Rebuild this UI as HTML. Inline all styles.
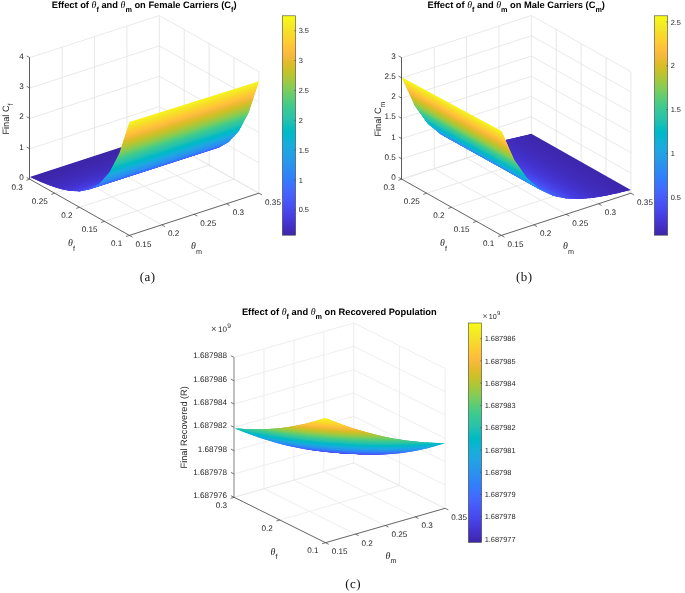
<!DOCTYPE html>
<html><head><meta charset="utf-8"><title>Figure</title>
<style>html,body{margin:0;padding:0;background:#fff}svg{display:block}</style></head><body>
<svg width="685" height="593" viewBox="0 0 685 593" text-rendering="geometricPrecision">
<rect width="685" height="593" fill="#fff"/>
<g fill="none" stroke-linecap="butt">
<line x1="29.8" y1="179.2" x2="129.4" y2="235.4" stroke="#e3e3e3" stroke-width="0.8"/>
<line x1="62.17" y1="168.65" x2="161.77" y2="224.85" stroke="#e3e3e3" stroke-width="0.8"/>
<line x1="94.55" y1="158.1" x2="194.15" y2="214.3" stroke="#e3e3e3" stroke-width="0.8"/>
<line x1="126.92" y1="147.55" x2="226.52" y2="203.75" stroke="#e3e3e3" stroke-width="0.8"/>
<line x1="159.3" y1="137" x2="258.9" y2="193.2" stroke="#e3e3e3" stroke-width="0.8"/>
<line x1="29.8" y1="179.2" x2="159.3" y2="137" stroke="#e3e3e3" stroke-width="0.8"/>
<line x1="54.7" y1="193.25" x2="184.2" y2="151.05" stroke="#e3e3e3" stroke-width="0.8"/>
<line x1="79.6" y1="207.3" x2="209.1" y2="165.1" stroke="#e3e3e3" stroke-width="0.8"/>
<line x1="104.5" y1="221.35" x2="234" y2="179.15" stroke="#e3e3e3" stroke-width="0.8"/>
<line x1="129.4" y1="235.4" x2="258.9" y2="193.2" stroke="#e3e3e3" stroke-width="0.8"/>
<line x1="62.17" y1="168.65" x2="62.17" y2="47.15" stroke="#e3e3e3" stroke-width="0.85"/>
<line x1="94.55" y1="158.1" x2="94.55" y2="36.6" stroke="#e3e3e3" stroke-width="0.85"/>
<line x1="126.92" y1="147.55" x2="126.92" y2="26.05" stroke="#e3e3e3" stroke-width="0.85"/>
<line x1="159.3" y1="137" x2="159.3" y2="15.5" stroke="#e3e3e3" stroke-width="0.85"/>
<line x1="29.8" y1="179.2" x2="159.3" y2="137" stroke="#e3e3e3" stroke-width="0.8"/>
<line x1="29.8" y1="148.82" x2="159.3" y2="106.62" stroke="#e3e3e3" stroke-width="0.8"/>
<line x1="29.8" y1="118.45" x2="159.3" y2="76.25" stroke="#e3e3e3" stroke-width="0.8"/>
<line x1="29.8" y1="88.07" x2="159.3" y2="45.88" stroke="#e3e3e3" stroke-width="0.8"/>
<line x1="29.8" y1="57.7" x2="159.3" y2="15.5" stroke="#e3e3e3" stroke-width="0.8"/>
<line x1="184.2" y1="151.05" x2="184.2" y2="29.55" stroke="#e3e3e3" stroke-width="0.85"/>
<line x1="209.1" y1="165.1" x2="209.1" y2="43.6" stroke="#e3e3e3" stroke-width="0.85"/>
<line x1="234" y1="179.15" x2="234" y2="57.65" stroke="#e3e3e3" stroke-width="0.85"/>
<line x1="258.9" y1="193.2" x2="258.9" y2="71.7" stroke="#e3e3e3" stroke-width="0.85"/>
<line x1="159.3" y1="137" x2="258.9" y2="193.2" stroke="#e3e3e3" stroke-width="0.8"/>
<line x1="159.3" y1="106.62" x2="258.9" y2="162.82" stroke="#e3e3e3" stroke-width="0.8"/>
<line x1="159.3" y1="76.25" x2="258.9" y2="132.45" stroke="#e3e3e3" stroke-width="0.8"/>
<line x1="159.3" y1="45.88" x2="258.9" y2="102.07" stroke="#e3e3e3" stroke-width="0.8"/>
<line x1="159.3" y1="15.5" x2="258.9" y2="71.7" stroke="#e3e3e3" stroke-width="0.8"/>
</g>
<g>
<polygon points="29.8,176.96 30.63,177.34 31.98,177.55 32.81,177.93 33.64,178.31 162.1,136.48 161.27,136.1 160.44,135.72 160.13,135.17 159.3,134.79" fill="#3e26a9"/>
<polygon points="30.63,177.34 31.46,177.72 32.81,177.93 33.64,178.31 34.47,178.69 162.93,136.86 162.1,136.48 161.27,136.1 160.96,135.55 160.13,135.17" fill="#3e27a9"/>
<polygon points="31.46,177.72 32.29,178.1 33.64,178.31 34.47,178.69 35.3,179.07 163.76,137.24 162.93,136.86 162.1,136.48 161.79,135.93 160.96,135.55" fill="#3e27aa"/>
<polygon points="32.29,178.1 33.12,178.48 34.47,178.69 35.3,179.07 36.13,179.45 164.59,137.62 163.76,137.24 162.93,136.86 162.62,136.31 161.79,135.93" fill="#3e27aa"/>
<polygon points="33.12,178.48 33.95,178.86 35.3,179.07 36.13,179.45 36.96,179.82 165.42,138 164.59,137.62 163.76,137.24 163.45,136.69 162.62,136.31" fill="#3e27ab"/>
<polygon points="33.95,178.86 34.78,179.24 36.13,179.45 36.96,179.82 37.79,180.2 166.25,138.38 165.42,138 164.59,137.62 164.28,137.07 163.45,136.69" fill="#3e27ac"/>
<polygon points="34.78,179.24 35.61,179.61 36.96,179.82 37.79,180.2 38.62,180.58 167.08,138.76 166.25,138.38 165.42,138 165.11,137.45 164.28,137.07" fill="#3e28ac"/>
<polygon points="35.61,179.61 36.44,179.99 37.79,180.2 38.62,180.58 39.45,180.96 167.91,139.14 167.08,138.76 166.25,138.38 165.94,137.83 165.11,137.45" fill="#3f28ad"/>
<polygon points="36.44,179.99 37.27,180.37 38.62,180.58 39.45,180.96 40.28,181.34 168.74,139.52 167.91,139.14 167.08,138.76 166.77,138.21 165.94,137.83" fill="#3f28ad"/>
<polygon points="37.27,180.37 38.1,180.75 39.45,180.96 40.28,181.34 41.11,181.68 169.57,139.85 168.74,139.52 167.91,139.14 167.6,138.59 166.77,138.21" fill="#3f28ae"/>
<polygon points="38.1,180.75 38.93,181.13 40.28,181.34 41.11,181.68 41.94,182.01 170.4,140.19 169.57,139.85 168.74,139.52 168.43,138.97 167.6,138.59" fill="#3f28af"/>
<polygon points="38.93,181.13 39.76,181.51 41.11,181.68 41.94,182.01 42.77,182.35 171.23,140.53 170.4,140.19 169.57,139.85 169.26,139.35 168.43,138.97" fill="#3f28af"/>
<polygon points="39.76,181.51 40.59,181.84 41.94,182.01 42.77,182.35 43.6,182.68 172.06,140.87 171.23,140.53 170.4,140.19 170.09,139.69 169.26,139.35" fill="#3f29b0"/>
<polygon points="40.59,181.84 41.42,182.18 42.77,182.35 43.6,182.68 44.43,183.02 172.89,141.2 172.06,140.87 171.23,140.53 170.92,140.02 170.09,139.69" fill="#3f29b1"/>
<polygon points="41.42,182.18 42.25,182.52 43.6,182.68 44.43,183.02 45.26,183.35 173.72,141.54 172.89,141.2 172.06,140.87 171.75,140.36 170.92,140.02" fill="#3f29b2"/>
<polygon points="42.25,182.52 43.08,182.85 44.43,183.02 45.26,183.35 46.09,183.69 174.55,141.88 173.72,141.54 172.89,141.2 172.58,140.7 171.75,140.36" fill="#402ab3"/>
<polygon points="43.08,182.85 43.91,183.19 45.26,183.35 46.09,183.69 46.92,184.02 175.38,142.21 174.55,141.88 173.72,141.54 173.41,141.03 172.58,140.7" fill="#402ab4"/>
<polygon points="43.91,183.19 44.74,183.52 46.09,183.69 46.92,184.02 47.75,184.36 176.21,142.55 175.38,142.21 174.55,141.88 174.24,141.37 173.41,141.03" fill="#402ab4"/>
<polygon points="44.74,183.52 45.57,183.86 46.92,184.02 47.75,184.36 48.58,184.7 177.04,142.89 176.21,142.55 175.38,142.21 175.07,141.71 174.24,141.37" fill="#402ab5"/>
<polygon points="45.57,183.86 46.4,184.19 47.75,184.36 48.58,184.7 49.41,185.03 177.87,143.23 177.04,142.89 176.21,142.55 175.9,142.05 175.07,141.71" fill="#402bb6"/>
<polygon points="46.4,184.19 47.23,184.53 48.58,184.7 49.41,185.03 50.24,185.37 178.7,143.56 177.87,143.23 177.04,142.89 176.73,142.38 175.9,142.05" fill="#402bb7"/>
<polygon points="47.23,184.53 48.06,184.86 49.41,185.03 50.24,185.37 51.07,185.64 179.53,143.84 178.7,143.56 177.87,143.23 177.56,142.72 176.73,142.38" fill="#402bb8"/>
<polygon points="48.06,184.86 48.89,185.2 50.24,185.37 51.07,185.64 51.9,185.91 180.36,144.11 179.53,143.84 178.7,143.56 178.39,143.06 177.56,142.72" fill="#412cb9"/>
<polygon points="48.89,185.2 49.72,185.54 51.07,185.64 51.9,185.91 52.73,186.18 181.19,144.39 180.36,144.11 179.53,143.84 179.22,143.39 178.39,143.06" fill="#412cb9"/>
<polygon points="49.72,185.54 50.55,185.81 51.9,185.91 52.73,186.18 53.56,186.46 182.02,144.66 181.19,144.39 180.36,144.11 180.05,143.67 179.22,143.39" fill="#412cba"/>
<polygon points="50.55,185.81 51.38,186.08 52.73,186.18 53.56,186.46 54.39,186.73 182.85,144.93 182.02,144.66 181.19,144.39 180.88,143.94 180.05,143.67" fill="#412dbc"/>
<polygon points="51.38,186.08 52.21,186.35 53.56,186.46 54.39,186.73 55.22,187 183.68,145.21 182.85,144.93 182.02,144.66 181.71,144.22 180.88,143.94" fill="#412dbd"/>
<polygon points="52.21,186.35 53.04,186.62 54.39,186.73 55.22,187 56.05,187.27 184.51,145.48 183.68,145.21 182.85,144.93 182.54,144.49 181.71,144.22" fill="#412ebe"/>
<polygon points="53.04,186.62 53.87,186.9 55.22,187 56.05,187.27 56.88,187.54 185.34,145.76 184.51,145.48 183.68,145.21 183.37,144.77 182.54,144.49" fill="#422ebf"/>
<polygon points="53.87,186.9 54.7,187.17 56.05,187.27 56.88,187.54 57.71,187.81 186.17,146.03 185.34,145.76 184.51,145.48 184.2,145.04 183.37,144.77" fill="#422fc1"/>
<polygon points="54.7,187.17 55.53,187.44 56.88,187.54 57.71,187.81 58.54,188.09 187,146.31 186.17,146.03 185.34,145.76 185.03,145.31 184.2,145.04" fill="#422fc2"/>
<polygon points="55.53,187.44 56.36,187.71 57.71,187.81 58.54,188.09 59.37,188.36 187.83,146.58 187,146.31 186.17,146.03 185.86,145.59 185.03,145.31" fill="#4230c3"/>
<polygon points="56.36,187.71 57.19,187.98 58.54,188.09 59.37,188.36 60.2,188.63 188.66,146.85 187.83,146.58 187,146.31 186.69,145.86 185.86,145.59" fill="#4230c4"/>
<polygon points="57.19,187.98 58.02,188.26 59.37,188.36 60.2,188.63 61.03,188.81 189.49,147.04 188.66,146.85 187.83,146.58 187.52,146.14 186.69,145.86" fill="#4331c5"/>
<polygon points="58.02,188.26 58.85,188.53 60.2,188.63 61.03,188.81 61.86,188.99 190.32,147.22 189.49,147.04 188.66,146.85 188.35,146.41 187.52,146.14" fill="#4331c7"/>
<polygon points="58.85,188.53 59.68,188.8 61.03,188.81 61.86,188.99 62.69,189.16 191.15,147.4 190.32,147.22 189.49,147.04 189.18,146.69 188.35,146.41" fill="#4331c8"/>
<polygon points="59.68,188.8 60.51,188.98 61.86,188.99 62.69,189.16 63.52,189.34 191.98,147.58 191.15,147.4 190.32,147.22 190.01,146.87 189.18,146.69" fill="#4332c9"/>
<polygon points="60.51,188.98 61.34,189.15 62.69,189.16 63.52,189.34 64.35,189.52 192.81,147.76 191.98,147.58 191.15,147.4 190.84,147.05 190.01,146.87" fill="#4433cb"/>
<polygon points="61.34,189.15 62.17,189.33 63.52,189.34 64.35,189.52 65.18,189.7 193.64,147.94 192.81,147.76 191.98,147.58 191.67,147.23 190.84,147.05" fill="#4433cd"/>
<polygon points="62.17,189.33 63,189.51 64.35,189.52 65.18,189.7 66.01,189.87 194.47,148.12 193.64,147.94 192.81,147.76 192.5,147.41 191.67,147.23" fill="#4434cf"/>
<polygon points="63,189.51 63.83,189.69 65.18,189.7 66.01,189.87 66.84,190.05 195.3,148.3 194.47,148.12 193.64,147.94 193.33,147.59 192.5,147.41" fill="#4435d0"/>
<polygon points="63.83,189.69 64.66,189.86 66.01,189.87 66.84,190.05 67.67,190.23 196.13,148.48 195.3,148.3 194.47,148.12 194.16,147.77 193.33,147.59" fill="#4535d2"/>
<polygon points="64.66,189.86 65.49,190.04 66.84,190.05 67.67,190.23 68.5,190.41 196.96,148.66 196.13,148.48 195.3,148.3 194.99,147.95 194.16,147.77" fill="#4536d4"/>
<polygon points="65.49,190.04 66.32,190.22 67.67,190.23 68.5,190.41 69.33,190.58 197.79,148.85 196.96,148.66 196.13,148.48 195.82,148.13 194.99,147.95" fill="#4537d6"/>
<polygon points="66.32,190.22 67.15,190.4 68.5,190.41 69.33,190.58 70.16,190.76 198.62,149.03 197.79,148.85 196.96,148.66 196.65,148.31 195.82,148.13" fill="#4538d7"/>
<polygon points="67.15,190.4 67.98,190.57 69.33,190.58 70.16,190.76 70.99,190.8 199.45,149.07 198.62,149.03 197.79,148.85 197.48,148.5 196.65,148.31" fill="#4539d8"/>
<polygon points="67.98,190.57 68.81,190.75 70.16,190.76 70.99,190.8 71.82,190.84 200.28,149.11 199.45,149.07 198.62,149.03 198.31,148.68 197.48,148.5" fill="#4639da"/>
<polygon points="68.81,190.75 69.64,190.93 70.99,190.8 71.82,190.84 72.65,190.87 201.11,149.15 200.28,149.11 199.45,149.07 199.14,148.86 198.31,148.68" fill="#463adb"/>
<polygon points="69.64,190.93 70.47,190.97 71.82,190.84 72.65,190.87 73.48,190.91 201.94,149.2 201.11,149.15 200.28,149.11 199.97,148.9 199.14,148.86" fill="#463bdd"/>
<polygon points="70.47,190.97 71.3,191 72.65,190.87 73.48,190.91 74.31,190.95 202.77,149.24 201.94,149.2 201.11,149.15 200.8,148.94 199.97,148.9" fill="#463cdf"/>
<polygon points="71.3,191 72.13,191.04 73.48,190.91 74.31,190.95 75.14,190.99 203.6,149.28 202.77,149.24 201.94,149.2 201.63,148.99 200.8,148.94" fill="#463ee1"/>
<polygon points="72.13,191.04 72.96,191.08 74.31,190.95 75.14,190.99 75.97,191.02 204.43,149.33 203.6,149.28 202.77,149.24 202.46,149.03 201.63,148.99" fill="#473fe2"/>
<polygon points="72.96,191.08 73.79,191.12 75.14,190.99 75.97,191.02 76.8,191.06 205.26,149.37 204.43,149.33 203.6,149.28 203.29,149.07 202.46,149.03" fill="#4740e4"/>
<polygon points="73.79,191.12 74.62,191.15 75.97,191.02 76.8,191.06 77.63,191.1 206.09,149.41 205.26,149.37 204.43,149.33 204.12,149.11 203.29,149.07" fill="#4742e6"/>
<polygon points="74.62,191.15 75.45,191.19 76.8,191.06 77.63,191.1 78.46,191.14 206.92,149.45 206.09,149.41 205.26,149.37 204.95,149.16 204.12,149.11" fill="#4743e7"/>
<polygon points="75.45,191.19 76.28,191.23 77.63,191.1 78.46,191.14 79.29,191.18 207.75,149.5 206.92,149.45 206.09,149.41 205.78,149.2 204.95,149.16" fill="#4745e9"/>
<polygon points="76.28,191.23 77.11,191.27 78.46,191.14 79.29,191.18 80.12,191.21 208.58,149.54 207.75,149.5 206.92,149.45 206.61,149.24 205.78,149.2" fill="#4746ea"/>
<polygon points="77.11,191.27 77.94,191.31 79.29,191.18 80.12,191.21 80.95,191.04 209.41,149.38 208.58,149.54 207.75,149.5 207.44,149.29 206.61,149.24" fill="#4747eb"/>
<polygon points="77.94,191.31 78.77,191.34 80.12,191.21 80.95,191.04 81.78,190.87 210.24,149.22 209.41,149.38 208.58,149.54 208.27,149.33 207.44,149.29" fill="#4849ed"/>
<polygon points="78.77,191.34 79.6,191.38 80.95,191.04 81.78,190.87 82.61,190.7 211.07,149.05 210.24,149.22 209.41,149.38 209.1,149.37 208.27,149.33" fill="#484aee"/>
<polygon points="79.6,191.38 80.43,191.21 81.78,190.87 82.61,190.7 83.44,190.54 211.9,148.89 211.07,149.05 210.24,149.22 209.93,149.21 209.1,149.37" fill="#484cef"/>
<polygon points="80.43,191.21 81.26,191.04 82.61,190.7 83.44,190.54 84.27,190.37 212.73,148.73 211.9,148.89 211.07,149.05 210.76,149.05 209.93,149.21" fill="#484ef1"/>
<polygon points="81.26,191.04 82.09,190.87 83.44,190.54 84.27,190.37 85.1,190.2 213.56,148.57 212.73,148.73 211.9,148.89 211.59,148.89 210.76,149.05" fill="#4850f2"/>
<polygon points="82.09,190.87 82.92,190.7 84.27,190.37 85.1,190.2 85.93,190.03 214.39,148.41 213.56,148.57 212.73,148.73 212.42,148.73 211.59,148.89" fill="#4852f4"/>
<polygon points="82.92,190.7 83.75,190.53 85.1,190.2 85.93,190.03 86.76,189.86 215.22,148.25 214.39,148.41 213.56,148.57 213.25,148.56 212.42,148.73" fill="#4854f5"/>
<polygon points="83.75,190.53 84.58,190.36 85.93,190.03 86.76,189.86 87.59,189.69 216.05,148.08 215.22,148.25 214.39,148.41 214.08,148.4 213.25,148.56" fill="#4756f6"/>
<polygon points="84.58,190.36 85.41,190.2 86.76,189.86 87.59,189.69 88.42,189.52 216.88,147.92 216.05,148.08 215.22,148.25 214.91,148.24 214.08,148.4" fill="#4758f8"/>
<polygon points="85.41,190.2 86.24,190.03 87.59,189.69 88.42,189.52 89.25,189.35 217.71,147.76 216.88,147.92 216.05,148.08 215.74,148.08 214.91,148.24" fill="#475af9"/>
<polygon points="86.24,190.03 87.07,189.86 88.42,189.52 89.25,189.35 90.08,189.18 218.54,147.6 217.71,147.76 216.88,147.92 216.57,147.92 215.74,148.08" fill="#475cfa"/>
<polygon points="87.07,189.86 87.9,189.69 89.25,189.35 90.08,189.18 90.91,188.71 219.37,147.13 218.54,147.6 217.71,147.76 217.4,147.75 216.57,147.92" fill="#465efb"/>
<polygon points="87.9,189.69 88.73,189.52 90.08,189.18 90.91,188.71 91.74,188.23 220.2,146.67 219.37,147.13 218.54,147.6 218.23,147.59 217.4,147.75" fill="#4660fb"/>
<polygon points="88.73,189.52 89.56,189.35 90.91,188.71 91.74,188.23 92.57,187.75 221.03,146.21 220.2,146.67 219.37,147.13 219.06,147.43 218.23,147.59" fill="#4562fc"/>
<polygon points="89.56,189.35 90.39,188.87 91.74,188.23 92.57,187.75 93.4,187.28 221.86,145.74 221.03,146.21 220.2,146.67 219.89,146.97 219.06,147.43" fill="#4465fd"/>
<polygon points="90.39,188.87 91.22,188.4 92.57,187.75 93.4,187.28 94.23,186.8 222.69,145.28 221.86,145.74 221.03,146.21 220.72,146.5 219.89,146.97" fill="#4368fd"/>
<polygon points="91.22,188.4 92.05,187.92 93.4,187.28 94.23,186.8 95.06,186.33 223.52,144.81 222.69,145.28 221.86,145.74 221.55,146.04 220.72,146.5" fill="#416bfe"/>
<polygon points="92.05,187.92 92.88,187.45 94.23,186.8 95.06,186.33 95.89,185.85 224.35,144.35 223.52,144.81 222.69,145.28 222.38,145.57 221.55,146.04" fill="#3f6eff"/>
<polygon points="92.88,187.45 93.71,186.97 95.06,186.33 95.89,185.85 96.72,185.37 225.18,143.88 224.35,144.35 223.52,144.81 223.21,145.11 222.38,145.57" fill="#3c71ff"/>
<polygon points="93.71,186.97 94.54,186.49 95.89,185.85 96.72,185.37 97.55,184.9 226.01,143.42 225.18,143.88 224.35,144.35 224.04,144.64 223.21,145.11" fill="#3975fe"/>
<polygon points="94.54,186.49 95.37,186.02 96.72,185.37 97.55,184.9 98.38,184.42 226.84,142.95 226.01,143.42 225.18,143.88 224.87,144.18 224.04,144.64" fill="#3678fd"/>
<polygon points="95.37,186.02 96.2,185.54 97.55,184.9 98.38,184.42 99.21,183.95 227.67,142.49 226.84,142.95 226.01,143.42 225.7,143.72 224.87,144.18" fill="#337bfc"/>
<polygon points="96.2,185.54 97.03,185.07 98.38,184.42 99.21,183.95 100.04,183.47 228.5,142.02 227.67,142.49 226.84,142.95 226.53,143.25 225.7,143.72" fill="#317efb"/>
<polygon points="97.03,185.07 97.86,184.59 99.21,183.95 100.04,183.47 100.87,182.54 229.33,141.11 228.5,142.02 227.67,142.49 227.36,142.79 226.53,143.25" fill="#2f81fa"/>
<polygon points="97.86,184.59 98.69,184.11 100.04,183.47 100.87,182.54 101.7,181.61 230.16,140.2 229.33,141.11 228.5,142.02 228.19,142.32 227.36,142.79" fill="#2e84f8"/>
<polygon points="98.69,184.11 99.52,183.64 100.87,182.54 101.7,181.61 102.53,180.68 230.99,139.29 230.16,140.2 229.33,141.11 229.02,141.86 228.19,142.32" fill="#2e87f7"/>
<polygon points="99.52,183.64 100.35,182.71 101.7,181.61 102.53,180.68 103.36,179.75 231.82,138.37 230.99,139.29 230.16,140.2 229.85,140.94 229.02,141.86" fill="#2d8bf4"/>
<polygon points="100.35,182.71 101.18,181.78 102.53,180.68 103.36,179.75 104.19,178.82 232.65,137.46 231.82,138.37 230.99,139.29 230.68,140.03 229.85,140.94" fill="#2c8ff1"/>
<polygon points="101.18,181.78 102.01,180.85 103.36,179.75 104.19,178.82 105.02,177.89 233.48,136.55 232.65,137.46 231.82,138.37 231.51,139.12 230.68,140.03" fill="#2a93ee"/>
<polygon points="102.01,180.85 102.84,179.92 104.19,178.82 105.02,177.89 105.85,176.96 234.31,135.63 233.48,136.55 232.65,137.46 232.34,138.21 231.51,139.12" fill="#2797eb"/>
<polygon points="102.84,179.92 103.67,178.99 105.02,177.89 105.85,176.96 106.68,176.03 235.14,134.72 234.31,135.63 233.48,136.55 233.17,137.29 232.34,138.21" fill="#269be8"/>
<polygon points="103.67,178.99 104.5,178.06 105.85,176.96 106.68,176.03 107.51,175.1 235.97,133.81 235.14,134.72 234.31,135.63 234,136.38 233.17,137.29" fill="#249ee6"/>
<polygon points="104.5,178.06 105.33,177.13 106.68,176.03 107.51,175.1 108.34,174.18 236.8,132.89 235.97,133.81 235.14,134.72 234.83,135.47 234,136.38" fill="#22a2e4"/>
<polygon points="105.33,177.13 106.16,176.2 107.51,175.1 108.34,174.18 109.17,173.25 237.63,131.98 236.8,132.89 235.97,133.81 235.66,134.55 234.83,135.47" fill="#1fa6e2"/>
<polygon points="106.16,176.2 106.99,175.27 108.34,174.18 109.17,173.25 110,172.32 238.46,131.07 237.63,131.98 236.8,132.89 236.49,133.64 235.66,134.55" fill="#1ca9e0"/>
<polygon points="106.99,175.27 107.82,174.34 109.17,173.25 110,172.32 110.83,170.71 239.29,129.49 238.46,131.07 237.63,131.98 237.32,132.73 236.49,133.64" fill="#19acdc"/>
<polygon points="107.82,174.34 108.65,173.41 110,172.32 110.83,170.71 111.66,169.11 240.12,127.91 239.29,129.49 238.46,131.07 238.15,131.82 237.32,132.73" fill="#15afd8"/>
<polygon points="108.65,173.41 109.48,172.48 110.83,170.71 111.66,169.11 112.49,167.51 240.95,126.34 240.12,127.91 239.29,129.49 238.98,130.9 238.15,131.82" fill="#0eb2d4"/>
<polygon points="109.48,172.48 110.31,170.88 111.66,169.11 112.49,167.51 113.32,165.91 241.78,124.76 240.95,126.34 240.12,127.91 239.81,129.33 238.98,130.9" fill="#06b6ce"/>
<polygon points="110.31,170.88 111.14,169.28 112.49,167.51 113.32,165.91 114.15,164.31 242.61,123.18 241.78,124.76 240.95,126.34 240.64,127.75 239.81,129.33" fill="#01b9c7"/>
<polygon points="111.14,169.28 111.97,167.68 113.32,165.91 114.15,164.31 114.98,162.71 243.44,121.61 242.61,123.18 241.78,124.76 241.47,126.17 240.64,127.75" fill="#07bcbf"/>
<polygon points="111.97,167.68 112.8,166.08 114.15,164.31 114.98,162.71 115.81,161.1 244.27,120.03 243.44,121.61 242.61,123.18 242.3,124.59 241.47,126.17" fill="#16bfb7"/>
<polygon points="112.8,166.08 113.63,164.47 114.98,162.71 115.81,161.1 116.64,159.5 245.1,118.45 244.27,120.03 243.44,121.61 243.13,123.02 242.3,124.59" fill="#23c1af"/>
<polygon points="113.63,164.47 114.46,162.87 115.81,161.1 116.64,159.5 117.47,157.9 245.93,116.88 245.1,118.45 244.27,120.03 243.96,121.44 243.13,123.02" fill="#2cc4a6"/>
<polygon points="114.46,162.87 115.29,161.27 116.64,159.5 117.47,157.9 118.3,156.3 246.76,115.3 245.93,116.88 245.1,118.45 244.79,119.86 243.96,121.44" fill="#33c69d"/>
<polygon points="115.29,161.27 116.12,159.67 117.47,157.9 118.3,156.3 119.13,154.7 247.59,113.72 246.76,115.3 245.93,116.88 245.62,118.29 244.79,119.86" fill="#3ac993"/>
<polygon points="116.12,159.67 116.95,158.07 118.3,156.3 119.13,154.7 119.96,153.1 248.42,112.15 247.59,113.72 246.76,115.3 246.45,116.71 245.62,118.29" fill="#45cb88"/>
<polygon points="116.95,158.07 117.78,156.47 119.13,154.7 119.96,153.1 120.79,150.5 249.25,109.59 248.42,112.15 247.59,113.72 247.28,115.13 246.45,116.71" fill="#54cc7d"/>
<polygon points="117.78,156.47 118.61,154.86 119.96,153.1 120.79,150.5 121.62,147.9 250.08,107.03 249.25,109.59 248.42,112.15 248.11,113.56 247.28,115.13" fill="#62cd70"/>
<polygon points="118.61,154.86 119.44,153.26 120.79,150.5 121.62,147.9 122.45,145.31 250.91,104.46 250.08,107.03 249.25,109.59 248.94,111.98 248.11,113.56" fill="#73cd63"/>
<polygon points="119.44,153.26 120.27,150.67 121.62,147.9 122.45,145.31 123.28,142.71 251.74,101.9 250.91,104.46 250.08,107.03 249.77,109.42 248.94,111.98" fill="#88cb53"/>
<polygon points="120.27,150.67 121.1,148.07 122.45,145.31 123.28,142.71 124.11,140.11 252.57,99.34 251.74,101.9 250.91,104.46 250.6,106.86 249.77,109.42" fill="#a1c840"/>
<polygon points="121.1,148.07 121.93,145.47 123.28,142.71 124.11,140.11 124.94,137.52 253.4,96.78 252.57,99.34 251.74,101.9 251.43,104.3 250.6,106.86" fill="#b8c431"/>
<polygon points="121.93,145.47 122.76,142.87 124.11,140.11 124.94,137.52 125.77,134.92 254.23,94.22 253.4,96.78 252.57,99.34 252.26,101.74 251.43,104.3" fill="#cdc028"/>
<polygon points="122.76,142.87 123.59,140.28 124.94,137.52 125.77,134.92 126.6,132.32 255.06,91.66 254.23,94.22 253.4,96.78 253.09,99.18 252.26,101.74" fill="#e0bc2a"/>
<polygon points="123.59,140.28 124.42,137.68 125.77,134.92 126.6,132.32 127.43,129.73 255.89,89.1 255.06,91.66 254.23,94.22 253.92,96.62 253.09,99.18" fill="#f0ba36"/>
<polygon points="124.42,137.68 125.25,135.08 126.6,132.32 127.43,129.73 128.26,127.13 256.72,86.54 255.89,89.1 255.06,91.66 254.75,94.06 253.92,96.62" fill="#fdbd3d"/>
<polygon points="125.25,135.08 126.08,132.49 127.43,129.73 128.26,127.13 129.09,124.53 257.55,83.98 256.72,86.54 255.89,89.1 255.58,91.5 254.75,94.06" fill="#fec736"/>
<polygon points="126.08,132.49 126.91,129.89 128.26,127.13 129.09,124.53 129.5,123.24 257.97,82.7 257.55,83.98 256.72,86.54 256.41,88.94 255.58,91.5" fill="#fcd12f"/>
<polygon points="126.91,129.89 127.74,127.29 129.09,124.53 129.5,123.24 257.97,82.7 257.55,83.98 257.24,86.38 256.41,88.94" fill="#f7dc2a"/>
<polygon points="127.74,127.29 128.57,124.7 129.5,123.24 257.97,82.7 258.07,83.82 257.24,86.38" fill="#f5e725"/>
<polygon points="128.57,124.7 129.4,122.1 258.9,81.26 258.07,83.82" fill="#f6f11e"/>
</g>
<g fill="none">
<line x1="29.5" y1="179.2" x2="29.5" y2="57.7" stroke="#4a4a4a" stroke-width="0.9"/>
<line x1="29.8" y1="179.2" x2="129.4" y2="235.4" stroke="#3c3c3c" stroke-width="0.75"/>
<line x1="129.4" y1="235.4" x2="258.9" y2="193.2" stroke="#3c3c3c" stroke-width="0.75"/>
<line x1="29.8" y1="179.2" x2="26.66" y2="177.43" stroke="#3c3c3c" stroke-width="0.7"/>
<line x1="29.8" y1="148.82" x2="26.66" y2="147.06" stroke="#3c3c3c" stroke-width="0.7"/>
<line x1="29.8" y1="118.45" x2="26.66" y2="116.68" stroke="#3c3c3c" stroke-width="0.7"/>
<line x1="29.8" y1="88.07" x2="26.66" y2="86.31" stroke="#3c3c3c" stroke-width="0.7"/>
<line x1="29.8" y1="57.7" x2="26.66" y2="55.93" stroke="#3c3c3c" stroke-width="0.7"/>
<line x1="29.8" y1="179.2" x2="26.38" y2="180.32" stroke="#3c3c3c" stroke-width="0.7"/>
<line x1="54.7" y1="193.25" x2="51.28" y2="194.37" stroke="#3c3c3c" stroke-width="0.7"/>
<line x1="79.6" y1="207.3" x2="76.18" y2="208.42" stroke="#3c3c3c" stroke-width="0.7"/>
<line x1="104.5" y1="221.35" x2="101.08" y2="222.47" stroke="#3c3c3c" stroke-width="0.7"/>
<line x1="129.4" y1="235.4" x2="125.98" y2="236.52" stroke="#3c3c3c" stroke-width="0.7"/>
<line x1="129.4" y1="235.4" x2="132.54" y2="237.17" stroke="#3c3c3c" stroke-width="0.7"/>
<line x1="161.77" y1="224.85" x2="164.91" y2="226.62" stroke="#3c3c3c" stroke-width="0.7"/>
<line x1="194.15" y1="214.3" x2="197.29" y2="216.07" stroke="#3c3c3c" stroke-width="0.7"/>
<line x1="226.52" y1="203.75" x2="229.66" y2="205.52" stroke="#3c3c3c" stroke-width="0.7"/>
<line x1="258.9" y1="193.2" x2="262.04" y2="194.97" stroke="#3c3c3c" stroke-width="0.7"/>
</g>
<g font-family='"Liberation Sans", Arial, sans-serif'>
<text x="23.8" y="180.06" font-size="8.15" text-anchor="end" fill="#262626">0</text>
<text x="23.8" y="149.69" font-size="8.15" text-anchor="end" fill="#262626">1</text>
<text x="23.8" y="119.31" font-size="8.15" text-anchor="end" fill="#262626">2</text>
<text x="23.8" y="88.93" font-size="8.15" text-anchor="end" fill="#262626">3</text>
<text x="23.8" y="58.56" font-size="8.15" text-anchor="end" fill="#262626">4</text>
<text x="22.8" y="189.96" font-size="8.15" text-anchor="end" fill="#262626">0.3</text>
<text x="47.7" y="204.01" font-size="8.15" text-anchor="end" fill="#262626">0.25</text>
<text x="72.6" y="218.06" font-size="8.15" text-anchor="end" fill="#262626">0.2</text>
<text x="97.5" y="232.11" font-size="8.15" text-anchor="end" fill="#262626">0.15</text>
<text x="122.4" y="246.16" font-size="8.15" text-anchor="end" fill="#262626">0.1</text>
<text x="135.6" y="246.96" font-size="8.15" text-anchor="start" fill="#262626">0.15</text>
<text x="167.97" y="236.41" font-size="8.15" text-anchor="start" fill="#262626">0.2</text>
<text x="200.35" y="225.86" font-size="8.15" text-anchor="start" fill="#262626">0.25</text>
<text x="232.72" y="215.31" font-size="8.15" text-anchor="start" fill="#262626">0.3</text>
<text x="265.1" y="204.76" font-size="8.15" text-anchor="start" fill="#262626">0.35</text>
</g>
<defs><linearGradient id="cbA" x1="0" y1="1" x2="0" y2="0">
<stop offset="0%" stop-color="#3e26a8"/>
<stop offset="1.59%" stop-color="#402ab4"/>
<stop offset="3.17%" stop-color="#422ec0"/>
<stop offset="4.76%" stop-color="#4332cb"/>
<stop offset="6.35%" stop-color="#4537d5"/>
<stop offset="7.94%" stop-color="#463cde"/>
<stop offset="9.52%" stop-color="#4741e5"/>
<stop offset="11.11%" stop-color="#4747eb"/>
<stop offset="12.7%" stop-color="#484df0"/>
<stop offset="14.29%" stop-color="#4852f4"/>
<stop offset="15.87%" stop-color="#4758f8"/>
<stop offset="17.46%" stop-color="#465efb"/>
<stop offset="19.05%" stop-color="#4563fd"/>
<stop offset="20.63%" stop-color="#4269fe"/>
<stop offset="22.22%" stop-color="#3e6fff"/>
<stop offset="23.81%" stop-color="#3875fe"/>
<stop offset="25.4%" stop-color="#327cfc"/>
<stop offset="26.98%" stop-color="#2f81fa"/>
<stop offset="28.57%" stop-color="#2e87f7"/>
<stop offset="30.16%" stop-color="#2d8cf3"/>
<stop offset="31.75%" stop-color="#2b91ef"/>
<stop offset="33.33%" stop-color="#2797eb"/>
<stop offset="34.92%" stop-color="#259be8"/>
<stop offset="36.51%" stop-color="#23a0e5"/>
<stop offset="38.1%" stop-color="#20a5e3"/>
<stop offset="39.68%" stop-color="#1ca9df"/>
<stop offset="41.27%" stop-color="#18addb"/>
<stop offset="42.86%" stop-color="#12b1d6"/>
<stop offset="44.44%" stop-color="#08b5d0"/>
<stop offset="46.03%" stop-color="#01b8ca"/>
<stop offset="47.62%" stop-color="#02bac3"/>
<stop offset="49.21%" stop-color="#0bbdbd"/>
<stop offset="50.79%" stop-color="#19bfb6"/>
<stop offset="52.38%" stop-color="#24c1ae"/>
<stop offset="53.97%" stop-color="#2cc4a7"/>
<stop offset="55.56%" stop-color="#31c69f"/>
<stop offset="57.14%" stop-color="#37c897"/>
<stop offset="58.73%" stop-color="#3fca8e"/>
<stop offset="60.32%" stop-color="#4acb84"/>
<stop offset="61.9%" stop-color="#57cc7a"/>
<stop offset="63.49%" stop-color="#64cd6f"/>
<stop offset="65.08%" stop-color="#72cd64"/>
<stop offset="66.67%" stop-color="#81cc59"/>
<stop offset="68.25%" stop-color="#8fcb4e"/>
<stop offset="69.84%" stop-color="#9dc943"/>
<stop offset="71.43%" stop-color="#abc739"/>
<stop offset="73.02%" stop-color="#b9c431"/>
<stop offset="74.6%" stop-color="#c5c22a"/>
<stop offset="76.19%" stop-color="#d1bf27"/>
<stop offset="77.78%" stop-color="#dcbd29"/>
<stop offset="79.37%" stop-color="#e6bb2d"/>
<stop offset="80.95%" stop-color="#f0ba36"/>
<stop offset="82.54%" stop-color="#f8ba3d"/>
<stop offset="84.13%" stop-color="#febe3c"/>
<stop offset="85.71%" stop-color="#fec338"/>
<stop offset="87.3%" stop-color="#fec934"/>
<stop offset="88.89%" stop-color="#fccf30"/>
<stop offset="90.48%" stop-color="#fad62d"/>
<stop offset="92.06%" stop-color="#f7dc2a"/>
<stop offset="93.65%" stop-color="#f5e327"/>
<stop offset="95.24%" stop-color="#f5e924"/>
<stop offset="96.83%" stop-color="#f6ef20"/>
<stop offset="98.41%" stop-color="#f7f51b"/>
<stop offset="100%" stop-color="#f9fb15"/>
</linearGradient></defs>
<rect x="282.3" y="15.8" width="13.4" height="219.4" fill="url(#cbA)" stroke="#4a4a4a" stroke-width="0.6"/>
<g font-family='"Liberation Sans", Arial, sans-serif'>
<line x1="294.2" y1="209.77" x2="295.7" y2="209.77" stroke="#444" stroke-width="0.6"/>
<text x="298.7" y="212.42" font-size="7.4" text-anchor="start" fill="#262626">0.5</text>
<line x1="294.2" y1="179.93" x2="295.7" y2="179.93" stroke="#444" stroke-width="0.6"/>
<text x="298.7" y="182.58" font-size="7.4" text-anchor="start" fill="#262626">1</text>
<line x1="294.2" y1="150.09" x2="295.7" y2="150.09" stroke="#444" stroke-width="0.6"/>
<text x="298.7" y="152.74" font-size="7.4" text-anchor="start" fill="#262626">1.5</text>
<line x1="294.2" y1="120.25" x2="295.7" y2="120.25" stroke="#444" stroke-width="0.6"/>
<text x="298.7" y="122.9" font-size="7.4" text-anchor="start" fill="#262626">2</text>
<line x1="294.2" y1="90.41" x2="295.7" y2="90.41" stroke="#444" stroke-width="0.6"/>
<text x="298.7" y="93.06" font-size="7.4" text-anchor="start" fill="#262626">2.5</text>
<line x1="294.2" y1="60.56" x2="295.7" y2="60.56" stroke="#444" stroke-width="0.6"/>
<text x="298.7" y="63.21" font-size="7.4" text-anchor="start" fill="#262626">3</text>
<line x1="294.2" y1="30.72" x2="295.7" y2="30.72" stroke="#444" stroke-width="0.6"/>
<text x="298.7" y="33.37" font-size="7.4" text-anchor="start" fill="#262626">3.5</text>
</g>
<text x="144.2" y="7.6" font-size="9.3" font-weight="bold" text-anchor="middle" fill="#000" font-family='"Liberation Sans", Arial, sans-serif'>Effect of <tspan font-style="italic" font-weight="normal" font-size="9.9" font-family='"Liberation Serif", "Times New Roman", serif'>θ</tspan><tspan font-size="7.25" dy="4.65">f</tspan><tspan dy="-4.65"> and </tspan><tspan font-style="italic" font-weight="normal" font-size="9.9" font-family='"Liberation Serif", "Times New Roman", serif'>θ</tspan><tspan font-size="7.25" dy="4.65">m</tspan><tspan dy="-4.65"> on </tspan>Female Carriers (C<tspan font-size="7.25" dy="4.65">f</tspan><tspan dy="-4.65">)</tspan></text>
<text x="8.9" y="119" font-size="9.2" text-anchor="middle" fill="#262626" font-family='"Liberation Sans", Arial, sans-serif' transform="rotate(-90 8.9 119)">Final C<tspan font-size="7.18" dy="4.6">f</tspan></text>
<text x="71.5" y="246.3" font-size="9.2" text-anchor="middle" fill="#262626" font-family='"Liberation Sans", Arial, sans-serif'><tspan font-style="italic" font-weight="normal" font-size="9.9" font-family='"Liberation Serif", "Times New Roman", serif'>θ</tspan><tspan font-size="7.18" dy="4.6">f</tspan></text>
<text x="196.5" y="249.2" font-size="9.2" text-anchor="middle" fill="#262626" font-family='"Liberation Sans", Arial, sans-serif'><tspan font-style="italic" font-weight="normal" font-size="9.9" font-family='"Liberation Serif", "Times New Roman", serif'>θ</tspan><tspan font-size="7.18" dy="4.6">m</tspan></text>
<g fill="none" stroke-linecap="butt">
<line x1="401.8" y1="179.2" x2="501.4" y2="235.4" stroke="#e3e3e3" stroke-width="0.8"/>
<line x1="434.18" y1="168.65" x2="533.77" y2="224.85" stroke="#e3e3e3" stroke-width="0.8"/>
<line x1="466.55" y1="158.1" x2="566.15" y2="214.3" stroke="#e3e3e3" stroke-width="0.8"/>
<line x1="498.93" y1="147.55" x2="598.52" y2="203.75" stroke="#e3e3e3" stroke-width="0.8"/>
<line x1="531.3" y1="137" x2="630.9" y2="193.2" stroke="#e3e3e3" stroke-width="0.8"/>
<line x1="401.8" y1="179.2" x2="531.3" y2="137" stroke="#e3e3e3" stroke-width="0.8"/>
<line x1="426.7" y1="193.25" x2="556.2" y2="151.05" stroke="#e3e3e3" stroke-width="0.8"/>
<line x1="451.6" y1="207.3" x2="581.1" y2="165.1" stroke="#e3e3e3" stroke-width="0.8"/>
<line x1="476.5" y1="221.35" x2="606" y2="179.15" stroke="#e3e3e3" stroke-width="0.8"/>
<line x1="501.4" y1="235.4" x2="630.9" y2="193.2" stroke="#e3e3e3" stroke-width="0.8"/>
<line x1="434.18" y1="168.65" x2="434.18" y2="47.15" stroke="#e3e3e3" stroke-width="0.85"/>
<line x1="466.55" y1="158.1" x2="466.55" y2="36.6" stroke="#e3e3e3" stroke-width="0.85"/>
<line x1="498.93" y1="147.55" x2="498.93" y2="26.05" stroke="#e3e3e3" stroke-width="0.85"/>
<line x1="531.3" y1="137" x2="531.3" y2="15.5" stroke="#e3e3e3" stroke-width="0.85"/>
<line x1="401.8" y1="179.2" x2="531.3" y2="137" stroke="#e3e3e3" stroke-width="0.8"/>
<line x1="401.8" y1="158.95" x2="531.3" y2="116.75" stroke="#e3e3e3" stroke-width="0.8"/>
<line x1="401.8" y1="138.7" x2="531.3" y2="96.5" stroke="#e3e3e3" stroke-width="0.8"/>
<line x1="401.8" y1="118.45" x2="531.3" y2="76.25" stroke="#e3e3e3" stroke-width="0.8"/>
<line x1="401.8" y1="98.2" x2="531.3" y2="56" stroke="#e3e3e3" stroke-width="0.8"/>
<line x1="401.8" y1="77.95" x2="531.3" y2="35.75" stroke="#e3e3e3" stroke-width="0.8"/>
<line x1="401.8" y1="57.7" x2="531.3" y2="15.5" stroke="#e3e3e3" stroke-width="0.8"/>
<line x1="556.2" y1="151.05" x2="556.2" y2="29.55" stroke="#e3e3e3" stroke-width="0.85"/>
<line x1="581.1" y1="165.1" x2="581.1" y2="43.6" stroke="#e3e3e3" stroke-width="0.85"/>
<line x1="606" y1="179.15" x2="606" y2="57.65" stroke="#e3e3e3" stroke-width="0.85"/>
<line x1="630.9" y1="193.2" x2="630.9" y2="71.7" stroke="#e3e3e3" stroke-width="0.85"/>
<line x1="531.3" y1="137" x2="630.9" y2="193.2" stroke="#e3e3e3" stroke-width="0.8"/>
<line x1="531.3" y1="116.75" x2="630.9" y2="172.95" stroke="#e3e3e3" stroke-width="0.8"/>
<line x1="531.3" y1="96.5" x2="630.9" y2="152.7" stroke="#e3e3e3" stroke-width="0.8"/>
<line x1="531.3" y1="76.25" x2="630.9" y2="132.45" stroke="#e3e3e3" stroke-width="0.8"/>
<line x1="531.3" y1="56" x2="630.9" y2="112.2" stroke="#e3e3e3" stroke-width="0.8"/>
<line x1="531.3" y1="35.75" x2="630.9" y2="91.95" stroke="#e3e3e3" stroke-width="0.8"/>
<line x1="531.3" y1="15.5" x2="630.9" y2="71.7" stroke="#e3e3e3" stroke-width="0.8"/>
</g>
<g>
<polygon points="527.48,135.19 528.56,134.91 529.64,134.64 530.22,134.09 531.3,133.82 630.9,189.94 629.82,190.21 628.24,190.19 627.16,190.46 626.09,190.73" fill="#3e28ad"/>
<polygon points="526.4,135.46 527.48,135.19 528.56,134.91 529.14,134.36 530.22,134.09 629.82,190.21 628.74,190.48 627.16,190.46 626.09,190.73 625.01,191" fill="#3f28ad"/>
<polygon points="525.32,135.73 526.4,135.46 527.48,135.19 528.06,134.63 529.14,134.36 628.74,190.48 627.66,190.75 626.09,190.73 625.01,191 623.93,191.27" fill="#3f28ae"/>
<polygon points="524.24,136 525.32,135.73 526.4,135.46 526.98,134.9 528.06,134.63 627.66,190.75 626.58,191.01 625.01,191 623.93,191.27 622.85,191.54" fill="#3f28ae"/>
<polygon points="523.16,136.27 524.24,136 525.32,135.73 525.9,135.18 526.98,134.9 626.58,191.01 625.5,191.28 623.93,191.27 622.85,191.54 621.77,191.81" fill="#3f28af"/>
<polygon points="522.09,136.54 523.16,136.27 524.24,136 524.83,135.45 525.9,135.18 625.5,191.28 624.43,191.55 622.85,191.54 621.77,191.81 620.69,192.08" fill="#3f29b0"/>
<polygon points="521.01,136.82 522.09,136.54 523.16,136.27 523.75,135.72 524.83,135.45 624.43,191.55 623.35,191.82 621.77,191.81 620.69,192.08 619.61,192.35" fill="#3f29b0"/>
<polygon points="519.93,137.09 521.01,136.82 522.09,136.54 522.67,135.99 523.75,135.72 623.35,191.82 622.27,192.09 620.69,192.08 619.61,192.35 618.53,192.62" fill="#3f29b1"/>
<polygon points="518.85,137.36 519.93,137.09 521.01,136.82 521.59,136.26 522.67,135.99 622.27,192.09 621.19,192.36 619.61,192.35 618.53,192.62 617.45,192.89" fill="#3f29b1"/>
<polygon points="517.77,137.59 518.85,137.36 519.93,137.09 520.51,136.54 521.59,136.26 621.19,192.36 620.11,192.63 618.53,192.62 617.45,192.89 616.37,193.12" fill="#3f29b2"/>
<polygon points="516.69,137.83 517.77,137.59 518.85,137.36 519.43,136.81 520.51,136.54 620.11,192.63 619.03,192.9 617.45,192.89 616.37,193.12 615.29,193.35" fill="#4029b3"/>
<polygon points="515.61,138.06 516.69,137.83 517.77,137.59 518.35,137.08 519.43,136.81 619.03,192.9 617.95,193.17 616.37,193.12 615.29,193.35 614.21,193.58" fill="#402ab3"/>
<polygon points="514.53,138.29 515.61,138.06 516.69,137.83 517.27,137.31 518.35,137.08 617.95,193.17 616.87,193.4 615.29,193.35 614.21,193.58 613.14,193.81" fill="#402ab4"/>
<polygon points="513.45,138.53 514.53,138.29 515.61,138.06 516.19,137.55 517.27,137.31 616.87,193.4 615.79,193.63 614.21,193.58 613.14,193.81 612.06,194.04" fill="#402ab5"/>
<polygon points="512.37,138.76 513.45,138.53 514.53,138.29 515.11,137.78 516.19,137.55 615.79,193.63 614.71,193.86 613.14,193.81 612.06,194.04 610.98,194.27" fill="#402bb6"/>
<polygon points="511.29,138.99 512.37,138.76 513.45,138.53 514.03,138.01 515.11,137.78 614.71,193.86 613.63,194.09 612.06,194.04 610.98,194.27 609.9,194.5" fill="#402bb6"/>
<polygon points="510.21,139.23 511.29,138.99 512.37,138.76 512.95,138.25 514.03,138.01 613.63,194.09 612.55,194.32 610.98,194.27 609.9,194.5 608.82,194.74" fill="#402bb7"/>
<polygon points="509.14,139.46 510.21,139.23 511.29,138.99 511.88,138.48 512.95,138.25 612.55,194.32 611.48,194.55 609.9,194.5 608.82,194.74 607.74,194.97" fill="#402bb8"/>
<polygon points="508.06,139.69 509.14,139.46 510.21,139.23 510.8,138.71 511.88,138.48 611.48,194.55 610.4,194.79 608.82,194.74 607.74,194.97 606.66,195.2" fill="#412cb9"/>
<polygon points="506.98,139.93 508.06,139.69 509.14,139.46 509.72,138.95 510.8,138.71 610.4,194.79 609.32,195.02 607.74,194.97 606.66,195.2 605.58,195.43" fill="#412cba"/>
<polygon points="505.9,140.16 506.98,139.93 508.06,139.69 508.64,139.18 509.72,138.95 609.32,195.02 608.24,195.25 606.66,195.2 605.58,195.43 604.5,195.66" fill="#412cbb"/>
<polygon points="504.82,140.34 505.9,140.16 506.98,139.93 507.56,139.41 508.64,139.18 608.24,195.25 607.16,195.48 605.58,195.43 604.5,195.66 603.42,195.83" fill="#412dbb"/>
<polygon points="503.74,140.51 504.82,140.34 505.9,140.16 506.48,139.65 507.56,139.41 607.16,195.48 606.08,195.71 604.5,195.66 603.42,195.83 602.34,196" fill="#412dbc"/>
<polygon points="502.66,140.69 503.74,140.51 504.82,140.34 505.4,139.88 506.48,139.65 606.08,195.71 605,195.94 603.42,195.83 602.34,196 601.26,196.17" fill="#412dbd"/>
<polygon points="501.58,140.87 502.66,140.69 503.74,140.51 504.32,140.06 505.4,139.88 605,195.94 603.92,196.11 602.34,196 601.26,196.17 600.19,196.35" fill="#412ebe"/>
<polygon points="500.5,141.04 501.58,140.87 502.66,140.69 503.24,140.23 504.32,140.06 603.92,196.11 602.84,196.28 601.26,196.17 600.19,196.35 599.11,196.52" fill="#422ebf"/>
<polygon points="499.42,141.22 500.5,141.04 501.58,140.87 502.16,140.41 503.24,140.23 602.84,196.28 601.76,196.45 600.19,196.35 599.11,196.52 598.03,196.69" fill="#422fc1"/>
<polygon points="498.34,141.4 499.42,141.22 500.5,141.04 501.08,140.59 502.16,140.41 601.76,196.45 600.68,196.63 599.11,196.52 598.03,196.69 596.95,196.86" fill="#422fc2"/>
<polygon points="497.26,141.57 498.34,141.4 499.42,141.22 500,140.76 501.08,140.59 600.68,196.63 599.6,196.8 598.03,196.69 596.95,196.86 595.87,197.03" fill="#4230c3"/>
<polygon points="496.19,141.75 497.26,141.57 498.34,141.4 498.93,140.94 500,140.76 599.6,196.8 598.52,196.97 596.95,196.86 595.87,197.03 594.79,197.21" fill="#4230c4"/>
<polygon points="495.11,141.93 496.19,141.75 497.26,141.57 497.85,141.12 498.93,140.94 598.52,196.97 597.45,197.14 595.87,197.03 594.79,197.21 593.71,197.38" fill="#4331c5"/>
<polygon points="494.03,142.1 495.11,141.93 496.19,141.75 496.77,141.29 497.85,141.12 597.45,197.14 596.37,197.31 594.79,197.21 593.71,197.38 592.63,197.55" fill="#4331c7"/>
<polygon points="492.95,142.28 494.03,142.1 495.11,141.93 495.69,141.47 496.77,141.29 596.37,197.31 595.29,197.49 593.71,197.38 592.63,197.55 591.55,197.72" fill="#4331c8"/>
<polygon points="491.87,142.37 492.95,142.28 494.03,142.1 494.61,141.65 495.69,141.47 595.29,197.49 594.21,197.66 592.63,197.55 591.55,197.72 590.47,197.81" fill="#4332c9"/>
<polygon points="490.79,142.46 491.87,142.37 492.95,142.28 493.53,141.82 494.61,141.65 594.21,197.66 593.13,197.83 591.55,197.72 590.47,197.81 589.39,197.9" fill="#4332ca"/>
<polygon points="489.71,142.56 490.79,142.46 491.87,142.37 492.45,142 493.53,141.82 593.13,197.83 592.05,198 590.47,197.81 589.39,197.9 588.31,197.98" fill="#4433cc"/>
<polygon points="488.63,142.65 489.71,142.56 490.79,142.46 491.37,142.09 492.45,142 592.05,198 590.97,198.09 589.39,197.9 588.31,197.98 587.24,198.07" fill="#4433cd"/>
<polygon points="487.55,142.74 488.63,142.65 489.71,142.56 490.29,142.18 491.37,142.09 590.97,198.09 589.89,198.18 588.31,197.98 587.24,198.07 586.16,198.15" fill="#4434cf"/>
<polygon points="486.47,142.84 487.55,142.74 488.63,142.65 489.21,142.28 490.29,142.18 589.89,198.18 588.81,198.26 587.24,198.07 586.16,198.15 585.08,198.24" fill="#4435d0"/>
<polygon points="485.39,142.93 486.47,142.84 487.55,142.74 488.13,142.37 489.21,142.28 588.81,198.26 587.73,198.35 586.16,198.15 585.08,198.24 584,198.33" fill="#4535d2"/>
<polygon points="484.31,143.02 485.39,142.93 486.47,142.84 487.05,142.46 488.13,142.37 587.73,198.35 586.65,198.43 585.08,198.24 584,198.33 582.92,198.41" fill="#4536d4"/>
<polygon points="483.24,143.11 484.31,143.02 485.39,142.93 485.98,142.56 487.05,142.46 586.65,198.43 585.58,198.52 584,198.33 582.92,198.41 581.84,198.5" fill="#4537d6"/>
<polygon points="482.16,143.21 483.24,143.11 484.31,143.02 484.9,142.65 485.98,142.56 585.58,198.52 584.5,198.61 582.92,198.41 581.84,198.5 580.76,198.58" fill="#4538d7"/>
<polygon points="481.08,143.3 482.16,143.21 483.24,143.11 483.82,142.74 484.9,142.65 584.5,198.61 583.42,198.69 581.84,198.5 580.76,198.58 579.68,198.67" fill="#4539d8"/>
<polygon points="480,143.39 481.08,143.3 482.16,143.21 482.74,142.83 483.82,142.74 583.42,198.69 582.34,198.78 580.76,198.58 579.68,198.67 578.6,198.76" fill="#4639da"/>
<polygon points="478.92,143.36 480,143.39 481.08,143.3 481.66,142.93 482.74,142.83 582.34,198.78 581.26,198.86 579.68,198.67 578.6,198.76 577.52,198.71" fill="#463adb"/>
<polygon points="477.84,143.33 478.92,143.36 480,143.39 480.58,143.02 481.66,142.93 581.26,198.86 580.18,198.95 578.6,198.76 577.52,198.71 576.44,198.67" fill="#463bdd"/>
<polygon points="476.76,143.3 477.84,143.33 478.92,143.36 479.5,143.11 480.58,143.02 580.18,198.95 579.1,199.04 577.52,198.71 576.44,198.67 575.36,198.63" fill="#463cde"/>
<polygon points="475.68,143.26 476.76,143.3 477.84,143.33 478.42,143.08 479.5,143.11 579.1,199.04 578.02,198.99 576.44,198.67 575.36,198.63 574.29,198.59" fill="#463de0"/>
<polygon points="474.6,143.23 475.68,143.26 476.76,143.3 477.34,143.05 478.42,143.08 578.02,198.99 576.94,198.95 575.36,198.63 574.29,198.59 573.21,198.55" fill="#473ee1"/>
<polygon points="473.52,143.2 474.6,143.23 475.68,143.26 476.26,143.02 477.34,143.05 576.94,198.95 575.86,198.91 574.29,198.59 573.21,198.55 572.13,198.51" fill="#4740e3"/>
<polygon points="472.44,143.17 473.52,143.2 474.6,143.23 475.18,142.98 476.26,143.02 575.86,198.91 574.78,198.87 573.21,198.55 572.13,198.51 571.05,198.47" fill="#4741e5"/>
<polygon points="471.36,143.14 472.44,143.17 473.52,143.2 474.1,142.95 475.18,142.98 574.78,198.87 573.7,198.83 572.13,198.51 571.05,198.47 569.97,198.42" fill="#4742e6"/>
<polygon points="470.29,143.11 471.36,143.14 472.44,143.17 473.03,142.92 474.1,142.95 573.7,198.83 572.62,198.79 571.05,198.47 569.97,198.42 568.89,198.38" fill="#4744e8"/>
<polygon points="469.21,143.07 470.29,143.11 471.36,143.14 471.95,142.89 473.03,142.92 572.62,198.79 571.55,198.75 569.97,198.42 568.89,198.38 567.81,198.34" fill="#4745e9"/>
<polygon points="468.13,143.04 469.21,143.07 470.29,143.11 470.87,142.86 471.95,142.89 571.55,198.75 570.47,198.7 568.89,198.38 567.81,198.34 566.73,198.3" fill="#4746eb"/>
<polygon points="467.05,143.01 468.13,143.04 469.21,143.07 469.79,142.83 470.87,142.86 570.47,198.7 569.39,198.66 567.81,198.34 566.73,198.3 565.65,198.26" fill="#4848ec"/>
<polygon points="465.97,142.8 467.05,143.01 468.13,143.04 468.71,142.8 469.79,142.83 569.39,198.66 568.31,198.62 566.73,198.3 565.65,198.26 564.57,198.03" fill="#4849ed"/>
<polygon points="464.89,142.58 465.97,142.8 467.05,143.01 467.63,142.76 468.71,142.8 568.31,198.62 567.23,198.58 565.65,198.26 564.57,198.03 563.49,197.8" fill="#484bee"/>
<polygon points="463.81,142.36 464.89,142.58 465.97,142.8 466.55,142.73 467.63,142.76 567.23,198.58 566.15,198.54 564.57,198.03 563.49,197.8 562.41,197.57" fill="#484cef"/>
<polygon points="462.73,142.15 463.81,142.36 464.89,142.58 465.47,142.52 466.55,142.73 566.15,198.54 565.07,198.31 563.49,197.8 562.41,197.57 561.34,197.34" fill="#484ef1"/>
<polygon points="461.65,141.93 462.73,142.15 463.81,142.36 464.39,142.3 465.47,142.52 565.07,198.31 563.99,198.08 562.41,197.57 561.34,197.34 560.26,197.11" fill="#4850f2"/>
<polygon points="460.57,141.72 461.65,141.93 462.73,142.15 463.31,142.09 464.39,142.3 563.99,198.08 562.91,197.85 561.34,197.34 560.26,197.11 559.18,196.88" fill="#4852f4"/>
<polygon points="459.49,141.5 460.57,141.72 461.65,141.93 462.23,141.87 463.31,142.09 562.91,197.85 561.83,197.62 560.26,197.11 559.18,196.88 558.1,196.65" fill="#4854f5"/>
<polygon points="458.41,141.29 459.49,141.5 460.57,141.72 461.15,141.65 462.23,141.87 561.83,197.62 560.75,197.39 559.18,196.88 558.1,196.65 557.02,196.42" fill="#4756f6"/>
<polygon points="457.34,141.07 458.41,141.29 459.49,141.5 460.07,141.44 461.15,141.65 560.75,197.39 559.67,197.16 558.1,196.65 557.02,196.42 555.94,196.19" fill="#4758f8"/>
<polygon points="456.26,140.85 457.34,141.07 458.41,141.29 459,141.22 460.07,141.44 559.67,197.16 558.6,196.93 557.02,196.42 555.94,196.19 554.86,195.96" fill="#475af9"/>
<polygon points="455.18,140.64 456.26,140.85 457.34,141.07 457.92,141.01 459,141.22 558.6,196.93 557.52,196.7 555.94,196.19 554.86,195.96 553.78,195.73" fill="#475cfa"/>
<polygon points="454.1,140.42 455.18,140.64 456.26,140.85 456.84,140.79 457.92,141.01 557.52,196.7 556.44,196.47 554.86,195.96 553.78,195.73 552.7,195.5" fill="#465efb"/>
<polygon points="453.02,139.93 454.1,140.42 455.18,140.64 455.76,140.58 456.84,140.79 556.44,196.47 555.36,196.24 553.78,195.73 552.7,195.5 551.62,194.99" fill="#4660fb"/>
<polygon points="451.94,139.45 453.02,139.93 454.1,140.42 454.68,140.36 455.76,140.58 555.36,196.24 554.28,196.01 552.7,195.5 551.62,194.99 550.54,194.48" fill="#4562fc"/>
<polygon points="450.86,138.96 451.94,139.45 453.02,139.93 453.6,140.14 454.68,140.36 554.28,196.01 553.2,195.78 551.62,194.99 550.54,194.48 549.46,193.97" fill="#4564fd"/>
<polygon points="449.78,138.47 450.86,138.96 451.94,139.45 452.52,139.66 453.6,140.14 553.2,195.78 552.12,195.27 550.54,194.48 549.46,193.97 548.39,193.46" fill="#4366fd"/>
<polygon points="448.7,137.98 449.78,138.47 450.86,138.96 451.44,139.17 452.52,139.66 552.12,195.27 551.04,194.76 549.46,193.97 548.39,193.46 547.31,192.95" fill="#426afe"/>
<polygon points="447.62,137.5 448.7,137.98 449.78,138.47 450.36,138.68 451.44,139.17 551.04,194.76 549.96,194.25 548.39,193.46 547.31,192.95 546.23,192.44" fill="#406dfe"/>
<polygon points="446.54,137.01 447.62,137.5 448.7,137.98 449.28,138.19 450.36,138.68 549.96,194.25 548.88,193.74 547.31,192.95 546.23,192.44 545.15,191.93" fill="#3d70ff"/>
<polygon points="445.46,136.52 446.54,137.01 447.62,137.5 448.2,137.71 449.28,138.19 548.88,193.74 547.8,193.23 546.23,192.44 545.15,191.93 544.07,191.42" fill="#3a73fe"/>
<polygon points="444.39,136.03 445.46,136.52 446.54,137.01 447.12,137.22 448.2,137.71 547.8,193.23 546.73,192.72 545.15,191.93 544.07,191.42 542.99,190.91" fill="#3776fe"/>
<polygon points="443.31,135.54 444.39,136.03 445.46,136.52 446.05,136.73 447.12,137.22 546.73,192.72 545.65,192.21 544.07,191.42 542.99,190.91 541.91,190.41" fill="#347afd"/>
<polygon points="442.23,135.06 443.31,135.54 444.39,136.03 444.97,136.24 446.05,136.73 545.65,192.21 544.57,191.7 542.99,190.91 541.91,190.41 540.83,189.9" fill="#317dfc"/>
<polygon points="441.15,134.57 442.23,135.06 443.31,135.54 443.89,135.75 444.97,136.24 544.57,191.7 543.49,191.19 541.91,190.41 540.83,189.9 539.75,189.39" fill="#3080fa"/>
<polygon points="440.07,133.68 441.15,134.57 442.23,135.06 442.81,135.27 443.89,135.75 543.49,191.19 542.41,190.68 540.83,189.9 539.75,189.39 538.67,188.46" fill="#2e83f9"/>
<polygon points="438.99,132.79 440.07,133.68 441.15,134.57 441.73,134.78 442.81,135.27 542.41,190.68 541.33,190.17 539.75,189.39 538.67,188.46 537.59,187.54" fill="#2e86f7"/>
<polygon points="437.91,131.89 438.99,132.79 440.07,133.68 440.65,134.29 441.73,134.78 541.33,190.17 540.25,189.66 538.67,188.46 537.59,187.54 536.51,186.62" fill="#2d89f5"/>
<polygon points="436.83,131 437.91,131.89 438.99,132.79 439.57,133.4 440.65,134.29 540.25,189.66 539.17,188.74 537.59,187.54 536.51,186.62 535.44,185.7" fill="#2d8cf3"/>
<polygon points="435.75,130.11 436.83,131 437.91,131.89 438.49,132.51 439.57,133.4 539.17,188.74 538.09,187.82 536.51,186.62 535.44,185.7 534.36,184.77" fill="#2b90f0"/>
<polygon points="434.67,129.22 435.75,130.11 436.83,131 437.41,131.62 438.49,132.51 538.09,187.82 537.01,186.9 535.44,185.7 534.36,184.77 533.28,183.85" fill="#2994ed"/>
<polygon points="433.59,128.33 434.67,129.22 435.75,130.11 436.33,130.73 437.41,131.62 537.01,186.9 535.93,185.97 534.36,184.77 533.28,183.85 532.2,182.93" fill="#2798ea"/>
<polygon points="432.51,127.44 433.59,128.33 434.67,129.22 435.25,129.84 436.33,130.73 535.93,185.97 534.85,185.05 533.28,183.85 532.2,182.93 531.12,182.01" fill="#259ce7"/>
<polygon points="431.44,126.55 432.51,127.44 433.59,128.33 434.18,128.95 435.25,129.84 534.85,185.05 533.77,184.13 532.2,182.93 531.12,182.01 530.04,181.08" fill="#23a0e5"/>
<polygon points="430.36,125.66 431.44,126.55 432.51,127.44 433.1,128.06 434.18,128.95 533.77,184.13 532.7,183.21 531.12,182.01 530.04,181.08 528.96,180.16" fill="#21a3e3"/>
<polygon points="429.28,124.77 430.36,125.66 431.44,126.55 432.02,127.16 433.1,128.06 532.7,183.21 531.62,182.28 530.04,181.08 528.96,180.16 527.88,179.24" fill="#1ea7e1"/>
<polygon points="428.2,123.88 429.28,124.77 430.36,125.66 430.94,126.27 432.02,127.16 531.62,182.28 530.54,181.36 528.96,180.16 527.88,179.24 526.8,178.32" fill="#1baade"/>
<polygon points="427.12,122.39 428.2,123.88 429.28,124.77 429.86,125.38 430.94,126.27 530.54,181.36 529.46,180.44 527.88,179.24 526.8,178.32 525.72,176.78" fill="#18aedb"/>
<polygon points="426.04,120.9 427.12,122.39 428.2,123.88 428.78,124.49 429.86,125.38 529.46,180.44 528.38,179.51 526.8,178.32 525.72,176.78 524.64,175.25" fill="#13b1d7"/>
<polygon points="424.96,119.41 426.04,120.9 427.12,122.39 427.7,123.6 428.78,124.49 528.38,179.51 527.3,178.59 525.72,176.78 524.64,175.25 523.56,173.72" fill="#0cb3d2"/>
<polygon points="423.88,117.93 424.96,119.41 426.04,120.9 426.62,122.11 427.7,123.6 527.3,178.59 526.22,177.06 524.64,175.25 523.56,173.72 522.49,172.18" fill="#04b6cd"/>
<polygon points="422.8,116.44 423.88,117.93 424.96,119.41 425.54,120.63 426.62,122.11 526.22,177.06 525.14,175.52 523.56,173.72 522.49,172.18 521.41,170.65" fill="#01bac5"/>
<polygon points="421.72,114.95 422.8,116.44 423.88,117.93 424.46,119.14 425.54,120.63 525.14,175.52 524.06,173.99 522.49,172.18 521.41,170.65 520.33,169.11" fill="#0abdbd"/>
<polygon points="420.64,113.47 421.72,114.95 422.8,116.44 423.38,117.65 424.46,119.14 524.06,173.99 522.98,172.46 521.41,170.65 520.33,169.11 519.25,167.58" fill="#19bfb5"/>
<polygon points="419.56,111.98 420.64,113.47 421.72,114.95 422.3,116.17 423.38,117.65 522.98,172.46 521.9,170.92 520.33,169.11 519.25,167.58 518.17,166.05" fill="#26c2ad"/>
<polygon points="418.49,110.49 419.56,111.98 420.64,113.47 421.23,114.68 422.3,116.17 521.9,170.92 520.83,169.39 519.25,167.58 518.17,166.05 517.09,164.51" fill="#2ec4a4"/>
<polygon points="417.41,109 418.49,110.49 419.56,111.98 420.15,113.19 421.23,114.68 520.83,169.39 519.75,167.85 518.17,166.05 517.09,164.51 516.01,162.98" fill="#34c79b"/>
<polygon points="416.33,107.52 417.41,109 418.49,110.49 419.07,111.7 420.15,113.19 519.75,167.85 518.67,166.32 517.09,164.51 516.01,162.98 514.93,161.44" fill="#3cc991"/>
<polygon points="415.25,106.03 416.33,107.52 417.41,109 417.99,110.22 419.07,111.7 518.67,166.32 517.59,164.78 516.01,162.98 514.93,161.44 513.85,159.91" fill="#48cb86"/>
<polygon points="414.17,103.66 415.25,106.03 416.33,107.52 416.91,108.73 417.99,110.22 517.59,164.78 516.51,163.25 514.93,161.44 513.85,159.91 512.77,157.47" fill="#57cc7a"/>
<polygon points="413.09,101.29 414.17,103.66 415.25,106.03 415.83,107.24 416.91,108.73 516.51,163.25 515.43,161.72 513.85,159.91 512.77,157.47 511.69,155.03" fill="#66cd6d"/>
<polygon points="412.01,98.92 413.09,101.29 414.17,103.66 414.75,105.76 415.83,107.24 515.43,161.72 514.35,160.18 512.77,157.47 511.69,155.03 510.61,152.59" fill="#76cc60"/>
<polygon points="410.93,96.55 412.01,98.92 413.09,101.29 413.67,103.39 414.75,105.76 514.35,160.18 513.27,157.74 511.69,155.03 510.61,152.59 509.54,150.15" fill="#8bcb51"/>
<polygon points="409.85,94.18 410.93,96.55 412.01,98.92 412.59,101.02 413.67,103.39 513.27,157.74 512.19,155.3 510.61,152.59 509.54,150.15 508.46,147.71" fill="#a4c83e"/>
<polygon points="408.77,91.81 409.85,94.18 410.93,96.55 411.51,98.65 412.59,101.02 512.19,155.3 511.11,152.86 509.54,150.15 508.46,147.71 507.38,145.28" fill="#bbc430"/>
<polygon points="407.69,89.44 408.77,91.81 409.85,94.18 410.43,96.28 411.51,98.65 511.11,152.86 510.03,150.42 508.46,147.71 507.38,145.28 506.3,142.84" fill="#d0c027"/>
<polygon points="406.61,87.07 407.69,89.44 408.77,91.81 409.35,93.91 410.43,96.28 510.03,150.42 508.95,147.99 507.38,145.28 506.3,142.84 505.22,140.4" fill="#e2bc2b"/>
<polygon points="405.54,84.7 406.61,87.07 407.69,89.44 408.28,91.54 409.35,93.91 508.95,147.99 507.88,145.55 506.3,142.84 505.22,140.4 504.14,137.96" fill="#f2ba38"/>
<polygon points="404.46,82.33 405.54,84.7 406.61,87.07 407.2,89.17 408.28,91.54 507.88,145.55 506.8,143.11 505.22,140.4 504.14,137.96 503.06,135.52" fill="#febe3c"/>
<polygon points="403.38,79.96 404.46,82.33 405.54,84.7 406.12,86.8 407.2,89.17 506.8,143.11 505.72,140.67 504.14,137.96 503.06,135.52 501.98,133.08" fill="#fec835"/>
<polygon points="402.84,78.78 403.38,79.96 404.46,82.33 405.04,84.43 406.12,86.8 505.72,140.67 504.64,138.23 503.06,135.52 501.98,133.08 501.44,131.86" fill="#fbd22f"/>
<polygon points="402.84,78.78 403.38,79.96 403.96,82.06 405.04,84.43 504.64,138.23 503.56,135.79 501.98,133.08 501.44,131.86" fill="#f6dd29"/>
<polygon points="402.84,78.78 402.88,79.69 403.96,82.06 503.56,135.79 502.48,133.35 501.44,131.86" fill="#f5e825"/>
<polygon points="401.8,77.32 402.88,79.69 502.48,133.35 501.4,130.91" fill="#f6f21d"/>
</g>
<g fill="none">
<line x1="401.5" y1="179.2" x2="401.5" y2="57.7" stroke="#4a4a4a" stroke-width="0.9"/>
<line x1="401.8" y1="179.2" x2="501.4" y2="235.4" stroke="#3c3c3c" stroke-width="0.75"/>
<line x1="501.4" y1="235.4" x2="630.9" y2="193.2" stroke="#3c3c3c" stroke-width="0.75"/>
<line x1="401.8" y1="179.2" x2="398.66" y2="177.43" stroke="#3c3c3c" stroke-width="0.7"/>
<line x1="401.8" y1="158.95" x2="398.66" y2="157.18" stroke="#3c3c3c" stroke-width="0.7"/>
<line x1="401.8" y1="138.7" x2="398.66" y2="136.93" stroke="#3c3c3c" stroke-width="0.7"/>
<line x1="401.8" y1="118.45" x2="398.66" y2="116.68" stroke="#3c3c3c" stroke-width="0.7"/>
<line x1="401.8" y1="98.2" x2="398.66" y2="96.43" stroke="#3c3c3c" stroke-width="0.7"/>
<line x1="401.8" y1="77.95" x2="398.66" y2="76.18" stroke="#3c3c3c" stroke-width="0.7"/>
<line x1="401.8" y1="57.7" x2="398.66" y2="55.93" stroke="#3c3c3c" stroke-width="0.7"/>
<line x1="401.8" y1="179.2" x2="398.38" y2="180.32" stroke="#3c3c3c" stroke-width="0.7"/>
<line x1="426.7" y1="193.25" x2="423.28" y2="194.37" stroke="#3c3c3c" stroke-width="0.7"/>
<line x1="451.6" y1="207.3" x2="448.18" y2="208.42" stroke="#3c3c3c" stroke-width="0.7"/>
<line x1="476.5" y1="221.35" x2="473.08" y2="222.47" stroke="#3c3c3c" stroke-width="0.7"/>
<line x1="501.4" y1="235.4" x2="497.98" y2="236.52" stroke="#3c3c3c" stroke-width="0.7"/>
<line x1="501.4" y1="235.4" x2="504.54" y2="237.17" stroke="#3c3c3c" stroke-width="0.7"/>
<line x1="533.77" y1="224.85" x2="536.91" y2="226.62" stroke="#3c3c3c" stroke-width="0.7"/>
<line x1="566.15" y1="214.3" x2="569.29" y2="216.07" stroke="#3c3c3c" stroke-width="0.7"/>
<line x1="598.52" y1="203.75" x2="601.66" y2="205.52" stroke="#3c3c3c" stroke-width="0.7"/>
<line x1="630.9" y1="193.2" x2="634.04" y2="194.97" stroke="#3c3c3c" stroke-width="0.7"/>
</g>
<g font-family='"Liberation Sans", Arial, sans-serif'>
<text x="395.8" y="180.06" font-size="8.15" text-anchor="end" fill="#262626">0</text>
<text x="395.8" y="159.81" font-size="8.15" text-anchor="end" fill="#262626">0.5</text>
<text x="395.8" y="139.56" font-size="8.15" text-anchor="end" fill="#262626">1</text>
<text x="395.8" y="119.31" font-size="8.15" text-anchor="end" fill="#262626">1.5</text>
<text x="395.8" y="99.06" font-size="8.15" text-anchor="end" fill="#262626">2</text>
<text x="395.8" y="78.81" font-size="8.15" text-anchor="end" fill="#262626">2.5</text>
<text x="395.8" y="58.56" font-size="8.15" text-anchor="end" fill="#262626">3</text>
<text x="394.8" y="189.96" font-size="8.15" text-anchor="end" fill="#262626">0.3</text>
<text x="419.7" y="204.01" font-size="8.15" text-anchor="end" fill="#262626">0.25</text>
<text x="444.6" y="218.06" font-size="8.15" text-anchor="end" fill="#262626">0.2</text>
<text x="469.5" y="232.11" font-size="8.15" text-anchor="end" fill="#262626">0.15</text>
<text x="494.4" y="246.16" font-size="8.15" text-anchor="end" fill="#262626">0.1</text>
<text x="507.6" y="246.96" font-size="8.15" text-anchor="start" fill="#262626">0.15</text>
<text x="539.98" y="236.41" font-size="8.15" text-anchor="start" fill="#262626">0.2</text>
<text x="572.35" y="225.86" font-size="8.15" text-anchor="start" fill="#262626">0.25</text>
<text x="604.73" y="215.31" font-size="8.15" text-anchor="start" fill="#262626">0.3</text>
<text x="637.1" y="204.76" font-size="8.15" text-anchor="start" fill="#262626">0.35</text>
</g>
<defs><linearGradient id="cbB" x1="0" y1="1" x2="0" y2="0">
<stop offset="0%" stop-color="#3e26a8"/>
<stop offset="1.59%" stop-color="#402ab4"/>
<stop offset="3.17%" stop-color="#422ec0"/>
<stop offset="4.76%" stop-color="#4332cb"/>
<stop offset="6.35%" stop-color="#4537d5"/>
<stop offset="7.94%" stop-color="#463cde"/>
<stop offset="9.52%" stop-color="#4741e5"/>
<stop offset="11.11%" stop-color="#4747eb"/>
<stop offset="12.7%" stop-color="#484df0"/>
<stop offset="14.29%" stop-color="#4852f4"/>
<stop offset="15.87%" stop-color="#4758f8"/>
<stop offset="17.46%" stop-color="#465efb"/>
<stop offset="19.05%" stop-color="#4563fd"/>
<stop offset="20.63%" stop-color="#4269fe"/>
<stop offset="22.22%" stop-color="#3e6fff"/>
<stop offset="23.81%" stop-color="#3875fe"/>
<stop offset="25.4%" stop-color="#327cfc"/>
<stop offset="26.98%" stop-color="#2f81fa"/>
<stop offset="28.57%" stop-color="#2e87f7"/>
<stop offset="30.16%" stop-color="#2d8cf3"/>
<stop offset="31.75%" stop-color="#2b91ef"/>
<stop offset="33.33%" stop-color="#2797eb"/>
<stop offset="34.92%" stop-color="#259be8"/>
<stop offset="36.51%" stop-color="#23a0e5"/>
<stop offset="38.1%" stop-color="#20a5e3"/>
<stop offset="39.68%" stop-color="#1ca9df"/>
<stop offset="41.27%" stop-color="#18addb"/>
<stop offset="42.86%" stop-color="#12b1d6"/>
<stop offset="44.44%" stop-color="#08b5d0"/>
<stop offset="46.03%" stop-color="#01b8ca"/>
<stop offset="47.62%" stop-color="#02bac3"/>
<stop offset="49.21%" stop-color="#0bbdbd"/>
<stop offset="50.79%" stop-color="#19bfb6"/>
<stop offset="52.38%" stop-color="#24c1ae"/>
<stop offset="53.97%" stop-color="#2cc4a7"/>
<stop offset="55.56%" stop-color="#31c69f"/>
<stop offset="57.14%" stop-color="#37c897"/>
<stop offset="58.73%" stop-color="#3fca8e"/>
<stop offset="60.32%" stop-color="#4acb84"/>
<stop offset="61.9%" stop-color="#57cc7a"/>
<stop offset="63.49%" stop-color="#64cd6f"/>
<stop offset="65.08%" stop-color="#72cd64"/>
<stop offset="66.67%" stop-color="#81cc59"/>
<stop offset="68.25%" stop-color="#8fcb4e"/>
<stop offset="69.84%" stop-color="#9dc943"/>
<stop offset="71.43%" stop-color="#abc739"/>
<stop offset="73.02%" stop-color="#b9c431"/>
<stop offset="74.6%" stop-color="#c5c22a"/>
<stop offset="76.19%" stop-color="#d1bf27"/>
<stop offset="77.78%" stop-color="#dcbd29"/>
<stop offset="79.37%" stop-color="#e6bb2d"/>
<stop offset="80.95%" stop-color="#f0ba36"/>
<stop offset="82.54%" stop-color="#f8ba3d"/>
<stop offset="84.13%" stop-color="#febe3c"/>
<stop offset="85.71%" stop-color="#fec338"/>
<stop offset="87.3%" stop-color="#fec934"/>
<stop offset="88.89%" stop-color="#fccf30"/>
<stop offset="90.48%" stop-color="#fad62d"/>
<stop offset="92.06%" stop-color="#f7dc2a"/>
<stop offset="93.65%" stop-color="#f5e327"/>
<stop offset="95.24%" stop-color="#f5e924"/>
<stop offset="96.83%" stop-color="#f6ef20"/>
<stop offset="98.41%" stop-color="#f7f51b"/>
<stop offset="100%" stop-color="#f9fb15"/>
</linearGradient></defs>
<rect x="654.3" y="15.8" width="13.4" height="219.4" fill="url(#cbB)" stroke="#4a4a4a" stroke-width="0.6"/>
<g font-family='"Liberation Sans", Arial, sans-serif'>
<line x1="666.2" y1="197.25" x2="667.7" y2="197.25" stroke="#444" stroke-width="0.6"/>
<text x="670.7" y="199.9" font-size="7.4" text-anchor="start" fill="#262626">0.5</text>
<line x1="666.2" y1="153.42" x2="667.7" y2="153.42" stroke="#444" stroke-width="0.6"/>
<text x="670.7" y="156.07" font-size="7.4" text-anchor="start" fill="#262626">1</text>
<line x1="666.2" y1="109.59" x2="667.7" y2="109.59" stroke="#444" stroke-width="0.6"/>
<text x="670.7" y="112.24" font-size="7.4" text-anchor="start" fill="#262626">1.5</text>
<line x1="666.2" y1="65.76" x2="667.7" y2="65.76" stroke="#444" stroke-width="0.6"/>
<text x="670.7" y="68.41" font-size="7.4" text-anchor="start" fill="#262626">2</text>
<line x1="666.2" y1="21.94" x2="667.7" y2="21.94" stroke="#444" stroke-width="0.6"/>
<text x="670.7" y="24.59" font-size="7.4" text-anchor="start" fill="#262626">2.5</text>
</g>
<text x="516.2" y="7.6" font-size="9.3" font-weight="bold" text-anchor="middle" fill="#000" font-family='"Liberation Sans", Arial, sans-serif'>Effect of <tspan font-style="italic" font-weight="normal" font-size="9.9" font-family='"Liberation Serif", "Times New Roman", serif'>θ</tspan><tspan font-size="7.25" dy="4.65">f</tspan><tspan dy="-4.65"> and </tspan><tspan font-style="italic" font-weight="normal" font-size="9.9" font-family='"Liberation Serif", "Times New Roman", serif'>θ</tspan><tspan font-size="7.25" dy="4.65">m</tspan><tspan dy="-4.65"> on </tspan>Male Carriers (C<tspan font-size="7.25" dy="4.65">m</tspan><tspan dy="-4.65">)</tspan></text>
<text x="380.9" y="119" font-size="9.2" text-anchor="middle" fill="#262626" font-family='"Liberation Sans", Arial, sans-serif' transform="rotate(-90 380.9 119)">Final C<tspan font-size="7.18" dy="4.6">m</tspan></text>
<text x="443.5" y="246.3" font-size="9.2" text-anchor="middle" fill="#262626" font-family='"Liberation Sans", Arial, sans-serif'><tspan font-style="italic" font-weight="normal" font-size="9.9" font-family='"Liberation Serif", "Times New Roman", serif'>θ</tspan><tspan font-size="7.18" dy="4.6">f</tspan></text>
<text x="568.5" y="249.2" font-size="9.2" text-anchor="middle" fill="#262626" font-family='"Liberation Sans", Arial, sans-serif'><tspan font-style="italic" font-weight="normal" font-size="9.9" font-family='"Liberation Serif", "Times New Roman", serif'>θ</tspan><tspan font-size="7.18" dy="4.6">m</tspan></text>
<g fill="none" stroke-linecap="butt">
<line x1="234.1" y1="497.3" x2="325.5" y2="542.7" stroke="#eaeaea" stroke-width="0.8"/>
<line x1="264" y1="488.7" x2="355.4" y2="534.1" stroke="#eaeaea" stroke-width="0.8"/>
<line x1="293.9" y1="480.1" x2="385.3" y2="525.5" stroke="#eaeaea" stroke-width="0.8"/>
<line x1="323.8" y1="471.5" x2="415.2" y2="516.9" stroke="#eaeaea" stroke-width="0.8"/>
<line x1="353.7" y1="462.9" x2="445.1" y2="508.3" stroke="#eaeaea" stroke-width="0.8"/>
<line x1="234.1" y1="497.3" x2="353.7" y2="462.9" stroke="#eaeaea" stroke-width="0.8"/>
<line x1="279.8" y1="520" x2="399.4" y2="485.6" stroke="#eaeaea" stroke-width="0.8"/>
<line x1="325.5" y1="542.7" x2="445.1" y2="508.3" stroke="#eaeaea" stroke-width="0.8"/>
<line x1="264" y1="488.7" x2="264" y2="348.8" stroke="#eaeaea" stroke-width="0.85"/>
<line x1="293.9" y1="480.1" x2="293.9" y2="340.2" stroke="#eaeaea" stroke-width="0.85"/>
<line x1="323.8" y1="471.5" x2="323.8" y2="331.6" stroke="#eaeaea" stroke-width="0.85"/>
<line x1="353.7" y1="462.9" x2="353.7" y2="323" stroke="#eaeaea" stroke-width="0.85"/>
<line x1="234.1" y1="497.3" x2="353.7" y2="462.9" stroke="#eaeaea" stroke-width="0.8"/>
<line x1="234.1" y1="473.98" x2="353.7" y2="439.58" stroke="#eaeaea" stroke-width="0.8"/>
<line x1="234.1" y1="450.67" x2="353.7" y2="416.27" stroke="#eaeaea" stroke-width="0.8"/>
<line x1="234.1" y1="427.35" x2="353.7" y2="392.95" stroke="#eaeaea" stroke-width="0.8"/>
<line x1="234.1" y1="404.03" x2="353.7" y2="369.63" stroke="#eaeaea" stroke-width="0.8"/>
<line x1="234.1" y1="380.72" x2="353.7" y2="346.32" stroke="#eaeaea" stroke-width="0.8"/>
<line x1="234.1" y1="357.4" x2="353.7" y2="323" stroke="#eaeaea" stroke-width="0.8"/>
<line x1="399.4" y1="485.6" x2="399.4" y2="345.7" stroke="#eaeaea" stroke-width="0.85"/>
<line x1="445.1" y1="508.3" x2="445.1" y2="368.4" stroke="#eaeaea" stroke-width="0.85"/>
<line x1="353.7" y1="462.9" x2="445.1" y2="508.3" stroke="#eaeaea" stroke-width="0.8"/>
<line x1="353.7" y1="439.58" x2="445.1" y2="484.98" stroke="#eaeaea" stroke-width="0.8"/>
<line x1="353.7" y1="416.27" x2="445.1" y2="461.67" stroke="#eaeaea" stroke-width="0.8"/>
<line x1="353.7" y1="392.95" x2="445.1" y2="438.35" stroke="#eaeaea" stroke-width="0.8"/>
<line x1="353.7" y1="369.63" x2="445.1" y2="415.03" stroke="#eaeaea" stroke-width="0.8"/>
<line x1="353.7" y1="346.32" x2="445.1" y2="391.72" stroke="#eaeaea" stroke-width="0.8"/>
<line x1="353.7" y1="323" x2="445.1" y2="368.4" stroke="#eaeaea" stroke-width="0.8"/>
</g>
<g>
<polygon points="343.73,452.98 353.7,453.11 361.32,453.83 351.35,453.7" fill="#3f28af"/>
<polygon points="346.78,453.3 356.75,453.43 364.36,454.04 354.4,453.92" fill="#402bb7"/>
<polygon points="349.83,453.58 359.79,453.71 367.41,454.21 357.44,454.08" fill="#422ebf"/>
<polygon points="352.87,453.82 362.84,453.94 370.46,454.33 360.49,454.2" fill="#4331c7"/>
<polygon points="355.92,454 365.89,454.13 373.5,454.4 363.54,454.27" fill="#4434cf"/>
<polygon points="358.97,454.15 368.93,454.27 376.55,454.43 366.58,454.3" fill="#4537d7"/>
<polygon points="362.01,454.24 371.98,454.37 379.6,454.41 369.63,454.28" fill="#463bde"/>
<polygon points="365.06,454.29 375.03,454.42 382.64,454.35 372.68,454.22" fill="#4740e3"/>
<polygon points="368.11,454.3 378.07,454.43 385.69,454.24 375.72,454.11" fill="#4745e9"/>
<polygon points="371.15,454.26 381.12,454.39 388.74,454.09 378.77,453.96" fill="#484aed"/>
<polygon points="374.2,454.17 384.17,454.3 391.78,453.89 381.82,453.76" fill="#484ff2"/>
<polygon points="377.25,454.04 387.21,454.17 394.83,453.64 384.86,453.51" fill="#4854f5"/>
<polygon points="380.29,453.87 390.26,453.99 397.88,453.35 387.91,453.22" fill="#4759f8"/>
<polygon points="383.34,453.64 393.31,453.77 400.92,453.02 390.96,452.89" fill="#465efb"/>
<polygon points="386.39,453.37 396.35,453.5 403.97,452.63 394,452.5" fill="#4464fd"/>
<polygon points="389.43,453.06 399.4,453.19 407.02,452.21 397.05,452.08" fill="#426afe"/>
<polygon points="392.48,452.7 402.45,452.83 410.06,451.73 400.1,451.6" fill="#3d70ff"/>
<polygon points="395.53,452.3 405.49,452.43 413.11,451.21 403.14,451.09" fill="#3777fe"/>
<polygon points="398.57,451.85 408.54,451.98 416.16,450.65 406.19,450.52" fill="#317efb"/>
<polygon points="401.62,451.35 411.59,451.48 419.2,450.04 409.24,449.91" fill="#2e84f8"/>
<polygon points="404.67,450.81 414.63,450.94 422.25,449.38 412.28,449.26" fill="#2d8af4"/>
<polygon points="407.71,450.22 417.68,450.35 425.3,448.68 415.33,448.55" fill="#2b90f0"/>
<polygon points="410.76,449.59 420.73,449.72 428.34,447.94 418.38,447.81" fill="#2796eb"/>
<polygon points="413.81,448.91 423.77,449.04 431.39,447.14 421.42,447.01" fill="#259ce7"/>
<polygon points="416.85,448.19 426.82,448.32 434.44,446.31 424.47,446.18" fill="#22a2e4"/>
<polygon points="419.9,447.42 429.87,447.55 437.48,445.42 427.52,445.29" fill="#1da8e0"/>
<polygon points="422.95,446.6 432.91,446.73 440.53,444.49 430.56,444.36" fill="#18addb"/>
<polygon points="425.99,445.74 435.96,445.87 443.58,443.52 433.61,443.39" fill="#0fb2d4"/>
<polygon points="429.04,444.83 439.01,444.96 443.58,443.52 433.61,443.39" fill="#03b7cc"/>
<polygon points="432.09,443.88 442.05,444.01 445.1,443.01 435.13,442.88" fill="#02bac3"/>
<polygon points="339.75,452.83 349.71,453.1 357.33,453.82 347.36,453.55" fill="#402bb7"/>
<polygon points="342.79,453.15 352.76,453.42 360.38,454.04 350.41,453.76" fill="#422ebe"/>
<polygon points="345.84,453.43 355.81,453.7 363.42,454.2 353.46,453.93" fill="#4331c6"/>
<polygon points="348.89,453.66 358.85,453.94 366.47,454.32 356.5,454.05" fill="#4434ce"/>
<polygon points="351.93,453.85 361.9,454.12 369.52,454.39 359.55,454.12" fill="#4537d6"/>
<polygon points="354.98,453.99 364.95,454.27 372.56,454.42 362.6,454.15" fill="#463bdc"/>
<polygon points="358.03,454.09 367.99,454.36 375.61,454.4 365.64,454.13" fill="#473fe2"/>
<polygon points="361.07,454.14 371.04,454.41 378.66,454.34 368.69,454.07" fill="#4744e8"/>
<polygon points="364.12,454.15 374.09,454.42 381.7,454.23 371.74,453.96" fill="#4848ec"/>
<polygon points="367.17,454.11 377.13,454.38 384.75,454.08 374.78,453.81" fill="#484df0"/>
<polygon points="370.21,454.02 380.18,454.29 387.8,453.88 377.83,453.61" fill="#4852f4"/>
<polygon points="373.26,453.89 383.23,454.16 390.84,453.63 380.88,453.36" fill="#4757f7"/>
<polygon points="376.31,453.71 386.27,453.99 393.89,453.34 383.92,453.07" fill="#475dfa"/>
<polygon points="379.35,453.49 389.32,453.76 396.94,453.01 386.97,452.74" fill="#4562fc"/>
<polygon points="382.4,453.22 392.37,453.49 399.98,452.63 390.02,452.35" fill="#4368fe"/>
<polygon points="385.45,452.91 395.41,453.18 403.03,452.2 393.06,451.93" fill="#3f6eff"/>
<polygon points="388.49,452.55 398.46,452.82 406.08,451.72 396.11,451.45" fill="#3974fe"/>
<polygon points="391.54,452.15 401.51,452.42 409.12,451.21 399.16,450.93" fill="#337bfc"/>
<polygon points="394.59,451.7 404.55,451.97 412.17,450.64 402.2,450.37" fill="#2f81fa"/>
<polygon points="397.63,451.2 407.6,451.47 415.22,450.03 405.25,449.76" fill="#2d88f6"/>
<polygon points="400.68,450.66 410.65,450.93 418.26,449.38 408.3,449.1" fill="#2c8ef2"/>
<polygon points="403.73,450.07 413.69,450.34 421.31,448.67 411.34,448.4" fill="#2994ed"/>
<polygon points="406.77,449.44 416.74,449.71 424.36,447.93 414.39,447.66" fill="#2699e9"/>
<polygon points="409.82,448.76 419.79,449.03 427.4,447.13 417.44,446.86" fill="#249fe5"/>
<polygon points="412.87,448.03 422.83,448.31 430.45,446.3 420.48,446.03" fill="#20a5e2"/>
<polygon points="415.91,447.27 425.88,447.54 433.5,445.41 423.53,445.14" fill="#1babde"/>
<polygon points="418.96,446.45 428.93,446.72 436.54,444.48 426.58,444.21" fill="#14b0d8"/>
<polygon points="422.01,445.59 431.97,445.86 439.59,443.51 429.62,443.24" fill="#08b4d0"/>
<polygon points="425.05,444.68 435.02,444.95 439.59,443.51 429.62,443.24" fill="#01b8c8"/>
<polygon points="428.1,443.73 438.07,444 441.11,443 431.15,442.73" fill="#08bcbf"/>
<polygon points="335.76,452.62 345.73,453.03 353.34,453.76 343.38,453.34" fill="#422ebe"/>
<polygon points="338.81,452.94 348.77,453.36 356.39,453.97 346.42,453.56" fill="#4331c6"/>
<polygon points="341.85,453.22 351.82,453.64 359.44,454.13 349.47,453.72" fill="#4434cd"/>
<polygon points="344.9,453.46 354.87,453.87 362.48,454.25 352.52,453.84" fill="#4537d5"/>
<polygon points="347.95,453.64 357.91,454.06 365.53,454.33 355.56,453.91" fill="#463adc"/>
<polygon points="350.99,453.79 360.96,454.2 368.58,454.36 358.61,453.94" fill="#473ee2"/>
<polygon points="354.04,453.88 364.01,454.3 371.62,454.34 361.66,453.93" fill="#4743e7"/>
<polygon points="357.09,453.93 367.05,454.35 374.67,454.28 364.7,453.86" fill="#4747ec"/>
<polygon points="360.13,453.94 370.1,454.35 377.72,454.17 367.75,453.75" fill="#484cf0"/>
<polygon points="363.18,453.9 373.15,454.31 380.76,454.01 370.8,453.6" fill="#4851f3"/>
<polygon points="366.23,453.81 376.19,454.23 383.81,453.81 373.84,453.4" fill="#4756f7"/>
<polygon points="369.27,453.68 379.24,454.1 386.86,453.57 376.89,453.15" fill="#475bf9"/>
<polygon points="372.32,453.51 382.29,453.92 389.9,453.28 379.94,452.86" fill="#4661fc"/>
<polygon points="375.37,453.28 385.33,453.7 392.95,452.94 382.98,452.53" fill="#4466fd"/>
<polygon points="378.41,453.02 388.38,453.43 396,452.56 386.03,452.15" fill="#406cfe"/>
<polygon points="381.46,452.7 391.43,453.12 399.04,452.13 389.08,451.72" fill="#3b72ff"/>
<polygon points="384.51,452.34 394.47,452.76 402.09,451.66 392.12,451.24" fill="#3579fd"/>
<polygon points="387.55,451.94 397.52,452.35 405.14,451.14 395.17,450.73" fill="#307ffb"/>
<polygon points="390.6,451.49 400.57,451.9 408.18,450.58 398.22,450.16" fill="#2e85f8"/>
<polygon points="393.65,450.99 403.61,451.4 411.23,449.97 401.26,449.55" fill="#2d8bf4"/>
<polygon points="396.69,450.45 406.66,450.86 414.28,449.31 404.31,448.9" fill="#2b91ef"/>
<polygon points="399.74,449.86 409.71,450.28 417.32,448.61 407.36,448.19" fill="#2797eb"/>
<polygon points="402.79,449.23 412.75,449.64 420.37,447.86 410.4,447.45" fill="#259de7"/>
<polygon points="405.83,448.55 415.8,448.96 423.42,447.07 413.45,446.66" fill="#21a2e4"/>
<polygon points="408.88,447.83 418.85,448.24 426.46,446.23 416.5,445.82" fill="#1da8e0"/>
<polygon points="411.93,447.06 421.89,447.47 429.51,445.35 419.54,444.93" fill="#18addb"/>
<polygon points="414.97,446.24 424.94,446.66 432.56,444.42 422.59,444" fill="#0eb2d4"/>
<polygon points="418.02,445.38 427.99,445.79 435.6,443.44 425.64,443.03" fill="#03b7cc"/>
<polygon points="421.07,444.47 431.03,444.89 435.6,443.44 425.64,443.03" fill="#02bac4"/>
<polygon points="424.11,443.52 434.08,443.94 437.13,442.94 427.16,442.52" fill="#10beba"/>
<polygon points="331.77,452.35 341.74,452.91 349.36,453.64 339.39,453.08" fill="#4331c6"/>
<polygon points="334.82,452.68 344.79,453.23 352.4,453.85 342.44,453.29" fill="#4434ce"/>
<polygon points="337.87,452.96 347.83,453.51 355.45,454.01 345.48,453.46" fill="#4537d5"/>
<polygon points="340.91,453.19 350.88,453.75 358.5,454.13 348.53,453.57" fill="#463adb"/>
<polygon points="343.96,453.38 353.93,453.93 361.54,454.21 351.58,453.65" fill="#463ee1"/>
<polygon points="347.01,453.52 356.97,454.08 364.59,454.23 354.62,453.68" fill="#4742e6"/>
<polygon points="350.05,453.62 360.02,454.17 367.64,454.22 357.67,453.66" fill="#4747eb"/>
<polygon points="353.1,453.67 363.07,454.22 370.68,454.15 360.72,453.6" fill="#484bef"/>
<polygon points="356.15,453.67 366.11,454.23 373.73,454.04 363.76,453.49" fill="#4850f3"/>
<polygon points="359.19,453.63 369.16,454.19 376.78,453.89 366.81,453.33" fill="#4755f6"/>
<polygon points="362.24,453.55 372.21,454.1 379.82,453.69 369.86,453.13" fill="#475af9"/>
<polygon points="365.29,453.42 375.25,453.97 382.87,453.45 372.9,452.89" fill="#465ffb"/>
<polygon points="368.33,453.24 378.3,453.8 385.92,453.15 375.95,452.6" fill="#4465fd"/>
<polygon points="371.38,453.02 381.35,453.57 388.96,452.82 379,452.26" fill="#426afe"/>
<polygon points="374.43,452.75 384.39,453.31 392.01,452.44 382.04,451.88" fill="#3d70ff"/>
<polygon points="377.47,452.44 387.44,452.99 395.06,452.01 385.09,451.45" fill="#3777fe"/>
<polygon points="380.52,452.08 390.49,452.63 398.1,451.54 388.14,450.98" fill="#317dfc"/>
<polygon points="383.57,451.67 393.53,452.23 401.15,451.02 391.18,450.46" fill="#2e83f9"/>
<polygon points="386.61,451.22 396.58,451.78 404.2,450.45 394.23,449.9" fill="#2d89f5"/>
<polygon points="389.66,450.73 399.63,451.28 407.24,449.84 397.28,449.29" fill="#2c8ff1"/>
<polygon points="392.71,450.18 402.67,450.74 410.29,449.19 400.32,448.63" fill="#2995ec"/>
<polygon points="395.75,449.6 405.72,450.15 413.34,448.49 403.37,447.93" fill="#269ae8"/>
<polygon points="398.8,448.96 408.77,449.52 416.38,447.74 406.42,447.18" fill="#23a0e5"/>
<polygon points="401.85,448.29 411.81,448.84 419.43,446.95 409.46,446.39" fill="#1fa6e2"/>
<polygon points="404.89,447.56 414.86,448.12 422.48,446.11 412.51,445.55" fill="#1aabdd"/>
<polygon points="407.94,446.79 417.91,447.35 425.52,445.22 415.56,444.67" fill="#13b0d7"/>
<polygon points="410.99,445.98 420.95,446.53 428.57,444.3 418.6,443.74" fill="#07b5d0"/>
<polygon points="414.03,445.12 424,445.67 431.62,443.32 421.65,442.76" fill="#01b9c8"/>
<polygon points="417.08,444.21 427.05,444.77 431.62,443.32 421.65,442.76" fill="#08bcbf"/>
<polygon points="420.13,443.26 430.09,443.81 433.14,442.82 423.17,442.26" fill="#19bfb5"/>
<polygon points="327.79,452.03 337.75,452.73 345.37,453.46 335.4,452.76" fill="#4434cf"/>
<polygon points="330.83,452.36 340.8,453.05 348.42,453.67 338.45,452.97" fill="#4537d5"/>
<polygon points="333.88,452.63 343.85,453.33 351.46,453.83 341.5,453.13" fill="#463adc"/>
<polygon points="336.93,452.87 346.89,453.57 354.51,453.95 344.54,453.25" fill="#463ee1"/>
<polygon points="339.97,453.06 349.94,453.76 357.56,454.03 347.59,453.33" fill="#4742e6"/>
<polygon points="343.02,453.2 352.99,453.9 360.6,454.05 350.64,453.35" fill="#4747eb"/>
<polygon points="346.07,453.3 356.03,453.99 363.65,454.04 353.68,453.34" fill="#484bef"/>
<polygon points="349.11,453.35 359.08,454.05 366.7,453.97 356.73,453.27" fill="#4850f2"/>
<polygon points="352.16,453.35 362.13,454.05 369.74,453.87 359.78,453.17" fill="#4854f6"/>
<polygon points="355.21,453.31 365.17,454.01 372.79,453.71 362.82,453.01" fill="#4759f8"/>
<polygon points="358.25,453.23 368.22,453.92 375.84,453.51 365.87,452.81" fill="#465efb"/>
<polygon points="361.3,453.09 371.27,453.79 378.88,453.27 368.92,452.57" fill="#4564fd"/>
<polygon points="364.35,452.92 374.31,453.62 381.93,452.98 371.96,452.28" fill="#4269fe"/>
<polygon points="367.39,452.7 377.36,453.39 384.98,452.64 375.01,451.94" fill="#3e6fff"/>
<polygon points="370.44,452.43 380.41,453.13 388.02,452.26 378.06,451.56" fill="#3975fe"/>
<polygon points="373.49,452.11 383.45,452.81 391.07,451.83 381.1,451.13" fill="#327bfc"/>
<polygon points="376.53,451.75 386.5,452.45 394.12,451.36 384.15,450.66" fill="#2f81fa"/>
<polygon points="379.58,451.35 389.55,452.05 397.16,450.84 387.2,450.14" fill="#2e87f7"/>
<polygon points="382.63,450.9 392.59,451.6 400.21,450.27 390.24,449.57" fill="#2d8df2"/>
<polygon points="385.67,450.4 395.64,451.1 403.26,449.66 393.29,448.96" fill="#2a93ee"/>
<polygon points="388.72,449.86 398.69,450.56 406.3,449.01 396.34,448.31" fill="#2698ea"/>
<polygon points="391.77,449.27 401.73,449.97 409.35,448.31 399.38,447.61" fill="#249ee6"/>
<polygon points="394.81,448.64 404.78,449.34 412.4,447.56 402.43,446.86" fill="#21a4e3"/>
<polygon points="397.86,447.96 407.83,448.66 415.44,446.77 405.48,446.07" fill="#1ca9e0"/>
<polygon points="400.91,447.24 410.87,447.94 418.49,445.93 408.52,445.23" fill="#17aeda"/>
<polygon points="403.95,446.47 413.92,447.17 421.54,445.04 411.57,444.35" fill="#0db3d3"/>
<polygon points="407,445.65 416.97,446.35 424.58,444.12 414.62,443.42" fill="#02b7cb"/>
<polygon points="410.05,444.79 420.01,445.49 427.63,443.14 417.66,442.44" fill="#02bbc3"/>
<polygon points="413.09,443.89 423.06,444.59 427.63,443.14 417.66,442.44" fill="#11beba"/>
<polygon points="416.14,442.93 426.11,443.63 429.15,442.64 419.19,441.94" fill="#21c1b0"/>
<polygon points="323.8,451.65 333.77,452.49 341.38,453.22 331.42,452.38" fill="#4537d6"/>
<polygon points="326.85,451.98 336.81,452.82 344.43,453.43 334.46,452.59" fill="#463bdc"/>
<polygon points="329.89,452.26 339.86,453.1 347.48,453.6 337.51,452.75" fill="#473ee2"/>
<polygon points="332.94,452.49 342.91,453.33 350.52,453.71 340.56,452.87" fill="#4742e6"/>
<polygon points="335.99,452.68 345.95,453.52 353.57,453.79 343.6,452.95" fill="#4747eb"/>
<polygon points="339.03,452.82 349,453.66 356.62,453.82 346.65,452.98" fill="#484bef"/>
<polygon points="342.08,452.92 352.05,453.76 359.66,453.8 349.7,452.96" fill="#484ff2"/>
<polygon points="345.13,452.97 355.09,453.81 362.71,453.74 352.74,452.9" fill="#4854f5"/>
<polygon points="348.17,452.97 358.14,453.81 365.76,453.63 355.79,452.79" fill="#4759f8"/>
<polygon points="351.22,452.93 361.19,453.77 368.8,453.47 358.84,452.63" fill="#465efb"/>
<polygon points="354.27,452.85 364.23,453.69 371.85,453.27 361.88,452.43" fill="#4563fc"/>
<polygon points="357.31,452.72 367.28,453.56 374.9,453.03 364.93,452.19" fill="#4368fe"/>
<polygon points="360.36,452.54 370.33,453.38 377.94,452.74 367.98,451.9" fill="#3f6efe"/>
<polygon points="363.41,452.32 373.37,453.16 380.99,452.4 371.02,451.56" fill="#3a74fe"/>
<polygon points="366.45,452.05 376.42,452.89 384.04,452.02 374.07,451.18" fill="#347afd"/>
<polygon points="369.5,451.73 379.47,452.58 387.08,451.59 377.12,450.75" fill="#3080fb"/>
<polygon points="372.55,451.38 382.51,452.22 390.13,451.12 380.16,450.28" fill="#2e86f8"/>
<polygon points="375.59,450.97 385.56,451.81 393.18,450.6 383.21,449.76" fill="#2d8bf3"/>
<polygon points="378.64,450.52 388.61,451.36 396.22,450.04 386.26,449.19" fill="#2b91ef"/>
<polygon points="381.69,450.02 391.65,450.87 399.27,449.43 389.3,448.58" fill="#2797eb"/>
<polygon points="384.73,449.48 394.7,450.32 402.32,448.77 392.35,447.93" fill="#259ce7"/>
<polygon points="387.78,448.9 397.75,449.74 405.36,448.07 395.4,447.23" fill="#22a2e4"/>
<polygon points="390.83,448.26 400.79,449.1 408.41,447.32 398.44,446.48" fill="#1ea7e1"/>
<polygon points="393.87,447.58 403.84,448.43 411.46,446.53 401.49,445.69" fill="#19acdc"/>
<polygon points="396.92,446.86 406.89,447.7 414.5,445.69 404.54,444.85" fill="#12b1d6"/>
<polygon points="399.97,446.09 409.93,446.93 417.55,444.81 407.58,443.97" fill="#06b5cf"/>
<polygon points="403.01,445.27 412.98,446.12 420.6,443.88 410.63,443.04" fill="#01b9c6"/>
<polygon points="406.06,444.41 416.03,445.26 423.64,442.9 413.68,442.06" fill="#0abdbe"/>
<polygon points="409.11,443.51 419.07,444.35 423.64,442.9 413.68,442.06" fill="#1bc0b4"/>
<polygon points="412.15,442.56 422.12,443.4 425.17,442.4 415.2,441.56" fill="#28c3aa"/>
<polygon points="319.81,451.22 329.78,452.2 337.4,452.93 327.43,451.94" fill="#463bde"/>
<polygon points="322.86,451.54 332.83,452.52 340.44,453.14 330.48,452.15" fill="#473fe2"/>
<polygon points="325.91,451.82 335.87,452.8 343.49,453.3 333.52,452.32" fill="#4743e7"/>
<polygon points="328.95,452.05 338.92,453.04 346.54,453.42 336.57,452.44" fill="#4747eb"/>
<polygon points="332,452.24 341.97,453.22 349.58,453.49 339.62,452.51" fill="#484bef"/>
<polygon points="335.05,452.38 345.01,453.37 352.63,453.52 342.66,452.54" fill="#4850f2"/>
<polygon points="338.09,452.48 348.06,453.46 355.68,453.51 345.71,452.52" fill="#4854f5"/>
<polygon points="341.14,452.53 351.11,453.51 358.72,453.44 348.76,452.46" fill="#4759f8"/>
<polygon points="344.19,452.54 354.15,453.52 361.77,453.33 351.8,452.35" fill="#465dfb"/>
<polygon points="347.23,452.5 357.2,453.48 364.82,453.18 354.85,452.2" fill="#4562fc"/>
<polygon points="350.28,452.41 360.25,453.39 367.86,452.98 357.9,452" fill="#4367fd"/>
<polygon points="353.33,452.28 363.29,453.26 370.91,452.74 360.94,451.75" fill="#406dfe"/>
<polygon points="356.37,452.1 366.34,453.09 373.96,452.44 363.99,451.46" fill="#3b73fe"/>
<polygon points="359.42,451.88 369.39,452.86 377,452.11 367.04,451.12" fill="#3579fd"/>
<polygon points="362.47,451.61 372.43,452.6 380.05,451.73 370.08,450.74" fill="#307ffb"/>
<polygon points="365.51,451.3 375.48,452.28 383.1,451.3 373.13,450.31" fill="#2e84f8"/>
<polygon points="368.56,450.94 378.53,451.92 386.14,450.83 376.18,449.84" fill="#2d8af5"/>
<polygon points="371.61,450.53 381.57,451.52 389.19,450.31 379.22,449.32" fill="#2c90f0"/>
<polygon points="374.65,450.08 384.62,451.07 392.24,449.74 382.27,448.76" fill="#2895ec"/>
<polygon points="377.7,449.59 387.67,450.57 395.28,449.13 385.32,448.15" fill="#269be8"/>
<polygon points="380.75,449.05 390.71,450.03 398.33,448.48 388.36,447.49" fill="#23a0e5"/>
<polygon points="383.79,448.46 393.76,449.44 401.38,447.78 391.41,446.79" fill="#1fa5e2"/>
<polygon points="386.84,447.83 396.81,448.81 404.42,447.03 394.46,446.04" fill="#1babde"/>
<polygon points="389.89,447.15 399.85,448.13 407.47,446.24 397.5,445.25" fill="#15afd8"/>
<polygon points="392.93,446.42 402.9,447.41 410.52,445.4 400.55,444.41" fill="#0ab4d1"/>
<polygon points="395.98,445.65 405.95,446.64 413.56,444.51 403.6,443.53" fill="#01b8ca"/>
<polygon points="399.03,444.84 408.99,445.82 416.61,443.58 406.64,442.6" fill="#05bbc1"/>
<polygon points="402.07,443.98 412.04,444.96 419.66,442.61 409.69,441.63" fill="#14beb8"/>
<polygon points="405.12,443.07 415.09,444.06 419.66,442.61 409.69,441.63" fill="#24c1ae"/>
<polygon points="408.17,442.12 418.13,443.1 421.18,442.11 411.21,441.12" fill="#2ec4a4"/>
<polygon points="315.83,450.72 325.79,451.85 333.41,452.57 323.44,451.45" fill="#4740e4"/>
<polygon points="318.87,451.05 328.84,452.17 336.46,452.79 326.49,451.66" fill="#4744e8"/>
<polygon points="321.92,451.33 331.89,452.45 339.5,452.95 329.54,451.82" fill="#4848ec"/>
<polygon points="324.97,451.56 334.93,452.69 342.55,453.07 332.58,451.94" fill="#484cef"/>
<polygon points="328.01,451.75 337.98,452.87 345.6,453.14 335.63,452.02" fill="#4850f3"/>
<polygon points="331.06,451.89 341.03,453.02 348.64,453.17 338.68,452.05" fill="#4854f5"/>
<polygon points="334.11,451.99 344.07,453.11 351.69,453.16 341.72,452.03" fill="#4759f8"/>
<polygon points="337.15,452.04 347.12,453.16 354.74,453.09 344.77,451.97" fill="#465dfb"/>
<polygon points="340.2,452.04 350.17,453.17 357.78,452.98 347.82,451.86" fill="#4562fc"/>
<polygon points="343.25,452 353.21,453.13 360.83,452.83 350.86,451.7" fill="#4367fd"/>
<polygon points="346.29,451.92 356.26,453.04 363.88,452.63 353.91,451.5" fill="#406cfe"/>
<polygon points="349.34,451.79 359.31,452.91 366.92,452.38 356.96,451.26" fill="#3b72ff"/>
<polygon points="352.39,451.61 362.35,452.74 369.97,452.09 360,450.97" fill="#3678fd"/>
<polygon points="355.43,451.39 365.4,452.51 373.02,451.76 363.05,450.63" fill="#317efb"/>
<polygon points="358.48,451.12 368.45,452.24 376.06,451.38 366.1,450.25" fill="#2e83f9"/>
<polygon points="361.53,450.8 371.49,451.93 379.11,450.95 369.14,449.82" fill="#2d89f5"/>
<polygon points="364.57,450.45 374.54,451.57 382.16,450.47 372.19,449.35" fill="#2c8ef1"/>
<polygon points="367.62,450.04 377.59,451.17 385.2,449.96 375.24,448.83" fill="#2994ed"/>
<polygon points="370.67,449.59 380.63,450.72 388.25,449.39 378.28,448.26" fill="#2699e9"/>
<polygon points="373.71,449.09 383.68,450.22 391.3,448.78 381.33,447.65" fill="#249fe6"/>
<polygon points="376.76,448.55 386.73,449.68 394.34,448.13 384.38,447" fill="#20a4e3"/>
<polygon points="379.81,447.97 389.77,449.09 397.39,447.42 387.42,446.3" fill="#1ca9e0"/>
<polygon points="382.85,447.33 392.82,448.46 400.44,446.68 390.47,445.55" fill="#17aeda"/>
<polygon points="385.9,446.65 395.87,447.78 403.48,445.88 393.52,444.76" fill="#0eb3d4"/>
<polygon points="388.95,445.93 398.91,447.06 406.53,445.05 396.56,443.92" fill="#03b7cc"/>
<polygon points="391.99,445.16 401.96,446.29 409.58,444.16 399.61,443.04" fill="#02bac4"/>
<polygon points="395.04,444.35 405.01,445.47 412.62,443.23 402.66,442.11" fill="#0ebdbb"/>
<polygon points="398.09,443.48 408.05,444.61 415.67,442.26 405.7,441.13" fill="#1ec0b2"/>
<polygon points="401.13,442.58 411.1,443.7 415.67,442.26 405.7,441.13" fill="#2bc3a8"/>
<polygon points="404.18,441.63 414.15,442.75 417.19,441.75 407.23,440.63" fill="#33c69e"/>
<polygon points="311.84,450.17 321.81,451.44 329.42,452.17 319.46,450.9" fill="#4745e9"/>
<polygon points="314.89,450.5 324.85,451.77 332.47,452.38 322.5,451.11" fill="#4849ed"/>
<polygon points="317.93,450.78 327.9,452.04 335.52,452.54 325.55,451.27" fill="#484df0"/>
<polygon points="320.98,451.01 330.95,452.28 338.56,452.66 328.6,451.39" fill="#4851f3"/>
<polygon points="324.03,451.2 333.99,452.47 341.61,452.74 331.64,451.47" fill="#4755f6"/>
<polygon points="327.07,451.34 337.04,452.61 344.66,452.76 334.69,451.5" fill="#4759f8"/>
<polygon points="330.12,451.44 340.09,452.7 347.7,452.75 337.74,451.48" fill="#465efb"/>
<polygon points="333.17,451.49 343.13,452.76 350.75,452.68 340.78,451.42" fill="#4562fc"/>
<polygon points="336.21,451.49 346.18,452.76 353.8,452.58 343.83,451.31" fill="#4367fd"/>
<polygon points="339.26,451.45 349.23,452.72 356.84,452.42 346.88,451.15" fill="#406cfe"/>
<polygon points="342.31,451.37 352.27,452.64 359.89,452.22 349.92,450.95" fill="#3c72ff"/>
<polygon points="345.35,451.24 355.32,452.5 362.94,451.98 352.97,450.71" fill="#3677fe"/>
<polygon points="348.4,451.06 358.37,452.33 365.98,451.69 356.02,450.42" fill="#317dfc"/>
<polygon points="351.45,450.84 361.41,452.11 369.03,451.35 359.06,450.08" fill="#2e83f9"/>
<polygon points="354.49,450.57 364.46,451.84 372.08,450.97 362.11,449.7" fill="#2d88f6"/>
<polygon points="357.54,450.25 367.51,451.52 375.12,450.54 365.16,449.27" fill="#2d8df2"/>
<polygon points="360.59,449.9 370.55,451.16 378.17,450.07 368.2,448.8" fill="#2a93ee"/>
<polygon points="363.63,449.49 373.6,450.76 381.22,449.55 371.25,448.28" fill="#2798ea"/>
<polygon points="366.68,449.04 376.65,450.31 384.26,448.98 374.3,447.71" fill="#249de6"/>
<polygon points="369.73,448.54 379.69,449.81 387.31,448.37 377.34,447.1" fill="#21a3e4"/>
<polygon points="372.77,448 382.74,449.27 390.36,447.72 380.39,446.45" fill="#1da8e0"/>
<polygon points="375.82,447.42 385.79,448.68 393.4,447.02 383.44,445.75" fill="#19addc"/>
<polygon points="378.87,446.78 388.83,448.05 396.45,446.27 386.48,445" fill="#11b1d6"/>
<polygon points="381.91,446.1 391.88,447.37 399.5,445.48 389.53,444.21" fill="#06b5cf"/>
<polygon points="384.96,445.38 394.93,446.65 402.54,444.64 392.58,443.37" fill="#01b9c7"/>
<polygon points="388.01,444.61 397.97,445.88 405.59,443.76 395.62,442.49" fill="#09bcbe"/>
<polygon points="391.05,443.8 401.02,445.06 408.64,442.83 398.67,441.56" fill="#19bfb5"/>
<polygon points="394.1,442.93 404.07,444.2 411.68,441.85 401.72,440.58" fill="#27c2ac"/>
<polygon points="397.15,442.03 407.11,443.3 411.68,441.85 401.72,440.58" fill="#30c5a2"/>
<polygon points="400.19,441.08 410.16,442.34 413.21,441.35 403.24,440.08" fill="#38c896"/>
<polygon points="307.85,449.56 317.82,450.98 325.44,451.7 315.47,450.29" fill="#484aee"/>
<polygon points="310.9,449.89 320.87,451.3 328.48,451.91 318.52,450.5" fill="#484ef1"/>
<polygon points="313.95,450.17 323.91,451.58 331.53,452.08 321.56,450.67" fill="#4852f4"/>
<polygon points="316.99,450.4 326.96,451.81 334.58,452.2 324.61,450.79" fill="#4756f6"/>
<polygon points="320.04,450.59 330.01,452 337.62,452.27 327.66,450.86" fill="#475af9"/>
<polygon points="323.09,450.73 333.05,452.14 340.67,452.3 330.7,450.89" fill="#465efb"/>
<polygon points="326.13,450.83 336.1,452.24 343.72,452.28 333.75,450.87" fill="#4563fc"/>
<polygon points="329.18,450.88 339.15,452.29 346.76,452.22 336.8,450.81" fill="#4367fd"/>
<polygon points="332.23,450.89 342.19,452.3 349.81,452.11 339.84,450.7" fill="#406cfe"/>
<polygon points="335.27,450.85 345.24,452.26 352.86,451.96 342.89,450.55" fill="#3c72ff"/>
<polygon points="338.32,450.76 348.29,452.17 355.9,451.76 345.94,450.35" fill="#3677fe"/>
<polygon points="341.37,450.63 351.33,452.04 358.95,451.51 348.98,450.1" fill="#317dfc"/>
<polygon points="344.41,450.45 354.38,451.86 362,451.22 352.03,449.81" fill="#2f82f9"/>
<polygon points="347.46,450.23 357.43,451.64 365.04,450.88 355.08,449.47" fill="#2d88f6"/>
<polygon points="350.51,449.96 360.47,451.37 368.09,450.5 358.12,449.09" fill="#2d8df2"/>
<polygon points="353.55,449.65 363.52,451.06 371.14,450.08 361.17,448.66" fill="#2a92ee"/>
<polygon points="356.6,449.29 366.57,450.7 374.18,449.6 364.22,448.19" fill="#2797ea"/>
<polygon points="359.65,448.88 369.61,450.29 377.23,449.08 367.26,447.67" fill="#259ce7"/>
<polygon points="362.69,448.43 372.66,449.84 380.28,448.52 370.31,447.11" fill="#22a2e4"/>
<polygon points="365.74,447.94 375.71,449.35 383.32,447.91 373.36,446.5" fill="#1ea7e1"/>
<polygon points="368.79,447.4 378.75,448.81 386.37,447.25 376.4,445.84" fill="#1aacdd"/>
<polygon points="371.83,446.81 381.8,448.22 389.42,446.55 379.45,445.14" fill="#13b0d7"/>
<polygon points="374.88,446.18 384.85,447.59 392.46,445.8 382.5,444.39" fill="#08b4d0"/>
<polygon points="377.93,445.5 387.89,446.91 395.51,445.01 385.54,443.6" fill="#01b8c9"/>
<polygon points="380.97,444.77 390.94,446.18 398.56,444.17 388.59,442.76" fill="#05bbc1"/>
<polygon points="384.02,444 393.99,445.41 401.6,443.29 391.64,441.88" fill="#14beb8"/>
<polygon points="387.07,443.19 397.03,444.6 404.65,442.36 394.68,440.95" fill="#23c1af"/>
<polygon points="390.11,442.33 400.08,443.74 407.7,441.39 397.73,439.98" fill="#2dc4a5"/>
<polygon points="393.16,441.42 403.13,442.83 407.7,441.39 397.73,439.98" fill="#35c79a"/>
<polygon points="396.21,440.47 406.17,441.88 409.22,440.88 399.25,439.47" fill="#3fca8e"/>
<polygon points="303.87,448.9 313.83,450.45 321.45,451.18 311.48,449.63" fill="#484ff2"/>
<polygon points="306.91,449.23 316.88,450.78 324.5,451.39 314.53,449.84" fill="#4853f5"/>
<polygon points="309.96,449.5 319.93,451.06 327.54,451.56 317.58,450" fill="#4757f7"/>
<polygon points="313.01,449.74 322.97,451.29 330.59,451.68 320.62,450.12" fill="#475bf9"/>
<polygon points="316.05,449.93 326.02,451.48 333.64,451.75 323.67,450.2" fill="#465ffb"/>
<polygon points="319.1,450.07 329.07,451.62 336.68,451.78 326.72,450.22" fill="#4564fd"/>
<polygon points="322.15,450.16 332.11,451.72 339.73,451.76 329.76,450.21" fill="#4368fe"/>
<polygon points="325.19,450.22 335.16,451.77 342.78,451.7 332.81,450.14" fill="#406dfe"/>
<polygon points="328.24,450.22 338.21,451.78 345.82,451.59 335.86,450.04" fill="#3b72ff"/>
<polygon points="331.29,450.18 341.25,451.73 348.87,451.44 338.9,449.88" fill="#3678fe"/>
<polygon points="334.33,450.1 344.3,451.65 351.92,451.24 341.95,449.68" fill="#317dfc"/>
<polygon points="337.38,449.96 347.35,451.52 354.96,450.99 345,449.44" fill="#2f82f9"/>
<polygon points="340.43,449.79 350.39,451.34 358.01,450.7 348.04,449.15" fill="#2d87f6"/>
<polygon points="343.47,449.56 353.44,451.12 361.06,450.36 351.09,448.81" fill="#2d8df2"/>
<polygon points="346.52,449.3 356.49,450.85 364.1,449.98 354.14,448.43" fill="#2b92ee"/>
<polygon points="349.57,448.98 359.53,450.54 367.15,449.55 357.18,448" fill="#2797eb"/>
<polygon points="352.61,448.62 362.58,450.18 370.2,449.08 360.23,447.53" fill="#259ce7"/>
<polygon points="355.66,448.22 365.63,449.77 373.24,448.56 363.28,447.01" fill="#23a1e4"/>
<polygon points="358.71,447.77 368.67,449.32 376.29,448 366.32,446.44" fill="#1fa6e2"/>
<polygon points="361.75,447.27 371.72,448.83 379.34,447.39 369.37,445.83" fill="#1babde"/>
<polygon points="364.8,446.73 374.77,448.28 382.38,446.73 372.42,445.18" fill="#15afd9"/>
<polygon points="367.85,446.14 377.81,447.7 385.43,446.03 375.46,444.48" fill="#0bb4d2"/>
<polygon points="370.89,445.51 380.86,447.06 388.48,445.28 378.51,443.73" fill="#02b7cb"/>
<polygon points="373.94,444.83 383.91,446.39 391.52,444.49 381.56,442.94" fill="#03bbc3"/>
<polygon points="376.99,444.11 386.95,445.66 394.57,443.65 384.6,442.1" fill="#10beba"/>
<polygon points="380.03,443.34 390,444.89 397.62,442.77 387.65,441.22" fill="#1fc1b1"/>
<polygon points="383.08,442.52 393.05,444.08 400.66,441.84 390.7,440.29" fill="#2bc3a8"/>
<polygon points="386.13,441.66 396.09,443.22 403.71,440.86 393.74,439.31" fill="#33c69e"/>
<polygon points="389.17,440.76 399.14,442.31 403.71,440.86 393.74,439.31" fill="#3bc992"/>
<polygon points="392.22,439.8 402.19,441.36 405.23,440.36 395.27,438.81" fill="#49cb85"/>
<polygon points="299.88,448.18 309.85,449.88 317.46,450.6 307.5,448.91" fill="#4755f6"/>
<polygon points="302.93,448.5 312.89,450.2 320.51,450.81 310.54,449.12" fill="#4758f8"/>
<polygon points="305.97,448.78 315.94,450.48 323.56,450.98 313.59,449.28" fill="#475cfa"/>
<polygon points="309.02,449.02 318.99,450.71 326.6,451.1 316.64,449.4" fill="#4660fc"/>
<polygon points="312.07,449.2 322.03,450.9 329.65,451.17 319.68,449.47" fill="#4465fd"/>
<polygon points="315.11,449.35 325.08,451.04 332.7,451.2 322.73,449.5" fill="#4269fe"/>
<polygon points="318.16,449.44 328.13,451.14 335.74,451.18 325.78,449.49" fill="#3f6eff"/>
<polygon points="321.21,449.49 331.17,451.19 338.79,451.12 328.82,449.42" fill="#3b73fe"/>
<polygon points="324.25,449.5 334.22,451.2 341.84,451.01 331.87,449.31" fill="#3578fd"/>
<polygon points="327.3,449.46 337.27,451.16 344.88,450.86 334.92,449.16" fill="#317dfb"/>
<polygon points="330.35,449.37 340.31,451.07 347.93,450.66 337.96,448.96" fill="#2f83f9"/>
<polygon points="333.39,449.24 343.36,450.94 350.98,450.41 341.01,448.72" fill="#2d88f6"/>
<polygon points="336.44,449.07 346.41,450.76 354.02,450.12 344.06,448.42" fill="#2d8df3"/>
<polygon points="339.49,448.84 349.45,450.54 357.07,449.78 347.1,448.09" fill="#2b92ef"/>
<polygon points="342.53,448.58 352.5,450.27 360.12,449.4 350.15,447.71" fill="#2797eb"/>
<polygon points="345.58,448.26 355.55,449.96 363.16,448.97 353.2,447.28" fill="#259be7"/>
<polygon points="348.63,447.9 358.59,449.6 366.21,448.5 356.24,446.81" fill="#23a0e5"/>
<polygon points="351.67,447.5 361.64,449.19 369.26,447.98 359.29,446.29" fill="#1fa5e2"/>
<polygon points="354.72,447.05 364.69,448.74 372.3,447.42 362.34,445.72" fill="#1baadf"/>
<polygon points="357.77,446.55 367.73,448.25 375.35,446.81 365.38,445.11" fill="#16afd9"/>
<polygon points="360.81,446.01 370.78,447.71 378.4,446.15 368.43,444.46" fill="#0db3d3"/>
<polygon points="363.86,445.42 373.83,447.12 381.44,445.45 371.48,443.75" fill="#03b7cc"/>
<polygon points="366.91,444.79 376.87,446.49 384.49,444.7 374.52,443.01" fill="#02bac4"/>
<polygon points="369.95,444.11 379.92,445.81 387.54,443.91 377.57,442.22" fill="#0cbdbc"/>
<polygon points="373,443.39 382.97,445.08 390.58,443.07 380.62,441.38" fill="#1cc0b3"/>
<polygon points="376.05,442.62 386.01,444.31 393.63,442.19 383.66,440.49" fill="#28c3aa"/>
<polygon points="379.09,441.8 389.06,443.5 396.68,441.26 386.71,439.56" fill="#31c5a1"/>
<polygon points="382.14,440.94 392.11,442.64 399.72,440.29 389.76,438.59" fill="#38c896"/>
<polygon points="385.19,440.04 395.15,441.73 399.72,440.29 389.76,438.59" fill="#45cb89"/>
<polygon points="388.23,439.08 398.2,440.78 401.25,439.78 391.28,438.09" fill="#55cc7b"/>
<polygon points="295.89,447.4 305.86,449.24 313.48,449.97 303.51,448.13" fill="#475af9"/>
<polygon points="298.94,447.73 308.91,449.56 316.52,450.18 306.56,448.34" fill="#465efb"/>
<polygon points="301.99,448 311.95,449.84 319.57,450.34 309.6,448.5" fill="#4562fc"/>
<polygon points="305.03,448.24 315,450.08 322.62,450.46 312.65,448.62" fill="#4466fd"/>
<polygon points="308.08,448.43 318.05,450.26 325.66,450.54 315.7,448.7" fill="#416bfe"/>
<polygon points="311.13,448.57 321.09,450.41 328.71,450.56 318.74,448.72" fill="#3e6fff"/>
<polygon points="314.17,448.67 324.14,450.5 331.76,450.55 321.79,448.71" fill="#3974fe"/>
<polygon points="317.22,448.72 327.19,450.55 334.8,450.48 324.84,448.64" fill="#3479fd"/>
<polygon points="320.27,448.72 330.23,450.56 337.85,450.37 327.88,448.54" fill="#317efb"/>
<polygon points="323.31,448.68 333.28,450.52 340.9,450.22 330.93,448.38" fill="#2e83f9"/>
<polygon points="326.36,448.6 336.33,450.43 343.94,450.02 333.98,448.18" fill="#2d88f6"/>
<polygon points="329.41,448.46 339.37,450.3 346.99,449.78 337.02,447.94" fill="#2d8df2"/>
<polygon points="332.45,448.29 342.42,450.13 350.04,449.48 340.07,447.65" fill="#2b92ee"/>
<polygon points="335.5,448.07 345.47,449.9 353.08,449.15 343.12,447.31" fill="#2797eb"/>
<polygon points="338.55,447.8 348.51,449.64 356.13,448.77 346.16,446.93" fill="#259be7"/>
<polygon points="341.59,447.48 351.56,449.32 359.18,448.34 349.21,446.5" fill="#23a0e5"/>
<polygon points="344.64,447.12 354.61,448.96 362.22,447.87 352.26,446.03" fill="#20a5e2"/>
<polygon points="347.69,446.72 357.65,448.56 365.27,447.35 355.3,445.51" fill="#1caadf"/>
<polygon points="350.73,446.27 360.7,448.11 368.32,446.78 358.35,444.94" fill="#17aeda"/>
<polygon points="353.78,445.77 363.75,447.61 371.36,446.17 361.4,444.33" fill="#0eb2d4"/>
<polygon points="356.83,445.23 366.79,447.07 374.41,445.52 364.44,443.68" fill="#04b6cd"/>
<polygon points="359.87,444.64 369.84,446.48 377.46,444.82 367.49,442.98" fill="#01b9c6"/>
<polygon points="362.92,444.01 372.89,445.85 380.5,444.07 370.54,442.23" fill="#09bdbe"/>
<polygon points="365.97,443.33 375.93,445.17 383.55,443.28 373.58,441.44" fill="#19bfb5"/>
<polygon points="369.01,442.61 378.98,444.45 386.6,442.44 376.63,440.6" fill="#26c2ac"/>
<polygon points="372.06,441.84 382.03,443.68 389.64,441.55 379.68,439.72" fill="#2fc5a3"/>
<polygon points="375.11,441.02 385.07,442.86 392.69,440.63 382.72,438.79" fill="#36c898"/>
<polygon points="378.15,440.16 388.12,442 395.74,439.65 385.77,437.81" fill="#41ca8c"/>
<polygon points="381.2,439.26 391.17,441.1 395.74,439.65 385.77,437.81" fill="#50cc7f"/>
<polygon points="384.25,438.3 394.21,440.14 397.26,439.15 387.29,437.31" fill="#62cd71"/>
<polygon points="291.91,446.57 301.87,448.55 309.49,449.27 299.52,447.29" fill="#4660fc"/>
<polygon points="294.95,446.89 304.92,448.87 312.54,449.48 302.57,447.5" fill="#4564fd"/>
<polygon points="298,447.17 307.97,449.15 315.58,449.65 305.62,447.67" fill="#4368fe"/>
<polygon points="301.05,447.4 311.01,449.38 318.63,449.77 308.66,447.79" fill="#406cfe"/>
<polygon points="304.09,447.59 314.06,449.57 321.68,449.84 311.71,447.86" fill="#3d71ff"/>
<polygon points="307.14,447.73 317.11,449.71 324.72,449.87 314.76,447.89" fill="#3876fe"/>
<polygon points="310.19,447.83 320.15,449.81 327.77,449.85 317.8,447.87" fill="#337afd"/>
<polygon points="313.23,447.88 323.2,449.86 330.82,449.79 320.85,447.81" fill="#307ffb"/>
<polygon points="316.28,447.89 326.25,449.87 333.86,449.68 323.9,447.7" fill="#2e84f8"/>
<polygon points="319.33,447.85 329.29,449.83 336.91,449.53 326.94,447.55" fill="#2d89f5"/>
<polygon points="322.37,447.76 332.34,449.74 339.96,449.33 329.99,447.35" fill="#2d8df2"/>
<polygon points="325.42,447.63 335.39,449.61 343,449.08 333.04,447.1" fill="#2a92ee"/>
<polygon points="328.47,447.45 338.43,449.43 346.05,448.79 336.08,446.81" fill="#2797eb"/>
<polygon points="331.51,447.23 341.48,449.21 349.1,448.46 339.13,446.47" fill="#259ce7"/>
<polygon points="334.56,446.96 344.53,448.94 352.14,448.07 342.18,446.09" fill="#23a0e5"/>
<polygon points="337.61,446.65 347.57,448.63 355.19,447.65 345.22,445.66" fill="#20a5e2"/>
<polygon points="340.65,446.29 350.62,448.27 358.24,447.17 348.27,445.19" fill="#1caadf"/>
<polygon points="343.7,445.88 353.67,447.87 361.28,446.65 351.32,444.67" fill="#17aeda"/>
<polygon points="346.75,445.43 356.71,447.42 364.33,446.09 354.36,444.11" fill="#0fb2d5"/>
<polygon points="349.79,444.94 359.76,446.92 367.38,445.48 357.41,443.5" fill="#05b6ce"/>
<polygon points="352.84,444.4 362.81,446.38 370.42,444.82 360.46,442.84" fill="#01b9c7"/>
<polygon points="355.89,443.81 365.85,445.79 373.47,444.12 363.5,442.14" fill="#08bcbf"/>
<polygon points="358.93,443.18 368.9,445.16 376.52,443.38 366.55,441.39" fill="#17bfb7"/>
<polygon points="361.98,442.5 371.95,444.48 379.56,442.58 369.6,440.6" fill="#24c2ae"/>
<polygon points="365.03,441.77 374.99,443.75 382.61,441.75 372.64,439.76" fill="#2ec4a5"/>
<polygon points="368.07,441 378.04,442.99 385.66,440.86 375.69,438.88" fill="#35c79b"/>
<polygon points="371.12,440.19 381.09,442.17 388.7,439.93 378.74,437.95" fill="#3eca8f"/>
<polygon points="374.17,439.33 384.13,441.31 391.75,438.96 381.78,436.98" fill="#4ccb82"/>
<polygon points="377.21,438.42 387.18,440.4 391.75,438.96 381.78,436.98" fill="#5ecc74"/>
<polygon points="380.26,437.47 390.23,439.45 393.27,438.45 383.31,436.47" fill="#70cd65"/>
<polygon points="287.92,445.67 297.89,447.8 305.5,448.52 295.54,446.4" fill="#4466fd"/>
<polygon points="290.97,446 300.93,448.12 308.55,448.73 298.58,446.61" fill="#426afe"/>
<polygon points="294.01,446.28 303.98,448.4 311.6,448.9 301.63,446.78" fill="#3f6eff"/>
<polygon points="297.06,446.51 307.03,448.63 314.64,449.02 304.68,446.89" fill="#3b73fe"/>
<polygon points="300.11,446.7 310.07,448.82 317.69,449.09 307.72,446.97" fill="#3677fe"/>
<polygon points="303.15,446.84 313.12,448.96 320.74,449.12 310.77,447" fill="#327cfc"/>
<polygon points="306.2,446.94 316.17,449.06 323.78,449.1 313.82,446.98" fill="#2f81fa"/>
<polygon points="309.25,446.99 319.21,449.11 326.83,449.04 316.86,446.92" fill="#2e85f8"/>
<polygon points="312.29,446.99 322.26,449.12 329.88,448.93 319.91,446.81" fill="#2d8af5"/>
<polygon points="315.34,446.95 325.31,449.08 332.92,448.78 322.96,446.65" fill="#2c8ef1"/>
<polygon points="318.39,446.87 328.35,448.99 335.97,448.58 326,446.45" fill="#2a93ee"/>
<polygon points="321.43,446.74 331.4,448.86 339.02,448.33 329.05,446.21" fill="#2797ea"/>
<polygon points="324.48,446.56 334.45,448.68 342.06,448.04 332.1,445.92" fill="#259ce7"/>
<polygon points="327.53,446.34 337.49,448.46 345.11,447.71 335.14,445.58" fill="#23a1e5"/>
<polygon points="330.57,446.07 340.54,448.19 348.16,447.32 338.19,445.2" fill="#20a5e2"/>
<polygon points="333.62,445.76 343.59,447.88 351.2,446.9 341.24,444.77" fill="#1caadf"/>
<polygon points="336.67,445.4 346.63,447.52 354.25,446.42 344.28,444.3" fill="#17aeda"/>
<polygon points="339.71,444.99 349.68,447.12 357.3,445.9 347.33,443.78" fill="#0fb2d5"/>
<polygon points="342.76,444.54 352.73,446.67 360.34,445.34 350.38,443.22" fill="#06b6ce"/>
<polygon points="345.81,444.05 355.77,446.17 363.39,444.73 353.42,442.61" fill="#01b9c7"/>
<polygon points="348.85,443.5 358.82,445.63 366.44,444.07 356.47,441.95" fill="#07bcc0"/>
<polygon points="351.9,442.92 361.87,445.04 369.48,443.37 359.52,441.25" fill="#15bfb8"/>
<polygon points="354.95,442.28 364.91,444.41 372.53,442.63 362.56,440.5" fill="#23c1af"/>
<polygon points="357.99,441.61 367.96,443.73 375.58,441.83 365.61,439.71" fill="#2cc4a6"/>
<polygon points="361.04,440.88 371.01,443.01 378.62,441 368.66,438.87" fill="#33c79c"/>
<polygon points="364.09,440.11 374.05,442.24 381.67,440.11 371.7,437.99" fill="#3cc991"/>
<polygon points="367.13,439.3 377.1,441.42 384.72,439.18 374.75,437.06" fill="#49cb85"/>
<polygon points="370.18,438.44 380.15,440.56 387.76,438.21 377.8,436.08" fill="#5acc78"/>
<polygon points="373.23,437.53 383.19,439.65 387.76,438.21 377.8,436.08" fill="#6ccd68"/>
<polygon points="376.27,436.58 386.24,438.7 389.29,437.7 379.32,435.58" fill="#80cc59"/>
<polygon points="283.93,444.72 293.9,446.99 301.52,447.72 291.55,445.45" fill="#406dfe"/>
<polygon points="286.98,445.05 296.95,447.32 304.56,447.93 294.6,445.66" fill="#3d71ff"/>
<polygon points="290.03,445.33 299.99,447.59 307.61,448.09 297.64,445.83" fill="#3975fe"/>
<polygon points="293.07,445.56 303.04,447.83 310.66,448.21 300.69,445.95" fill="#347afd"/>
<polygon points="296.12,445.75 306.09,448.02 313.7,448.29 303.74,446.02" fill="#317efb"/>
<polygon points="299.17,445.89 309.13,448.16 316.75,448.31 306.78,446.05" fill="#2f82f9"/>
<polygon points="302.21,445.99 312.18,448.25 319.8,448.3 309.83,446.03" fill="#2e87f7"/>
<polygon points="305.26,446.04 315.23,448.31 322.84,448.23 312.88,445.97" fill="#2d8bf4"/>
<polygon points="308.31,446.04 318.27,448.31 325.89,448.13 315.92,445.86" fill="#2c8ff0"/>
<polygon points="311.35,446 321.32,448.27 328.94,447.97 318.97,445.71" fill="#2994ed"/>
<polygon points="314.4,445.92 324.37,448.19 331.98,447.77 322.02,445.51" fill="#2798ea"/>
<polygon points="317.45,445.79 327.41,448.05 335.03,447.53 325.06,445.26" fill="#259de7"/>
<polygon points="320.49,445.61 330.46,447.88 338.08,447.24 328.11,444.97" fill="#22a1e4"/>
<polygon points="323.54,445.39 333.51,447.65 341.12,446.9 331.16,444.63" fill="#1fa6e2"/>
<polygon points="326.59,445.12 336.55,447.39 344.17,446.52 334.2,444.25" fill="#1caadf"/>
<polygon points="329.63,444.81 339.6,447.07 347.22,446.09 337.25,443.82" fill="#17aeda"/>
<polygon points="332.68,444.45 342.65,446.71 350.26,445.62 340.3,443.35" fill="#0fb2d5"/>
<polygon points="335.73,444.04 345.69,446.31 353.31,445.1 343.34,442.83" fill="#06b6ce"/>
<polygon points="338.77,443.59 348.74,445.86 356.36,444.53 346.39,442.27" fill="#01b9c7"/>
<polygon points="341.82,443.1 351.79,445.36 359.4,443.92 349.44,441.66" fill="#06bcc0"/>
<polygon points="344.87,442.55 354.83,444.82 362.45,443.27 352.48,441" fill="#14beb8"/>
<polygon points="347.91,441.97 357.88,444.23 365.5,442.57 355.53,440.3" fill="#22c1b0"/>
<polygon points="350.96,441.33 360.93,443.6 368.54,441.82 358.58,439.55" fill="#2cc4a7"/>
<polygon points="354.01,440.66 363.97,442.92 371.59,441.03 361.62,438.76" fill="#33c69e"/>
<polygon points="357.05,439.93 367.02,442.2 374.64,440.19 364.67,437.92" fill="#3bc993"/>
<polygon points="360.1,439.16 370.07,441.43 377.68,439.31 367.72,437.04" fill="#47cb87"/>
<polygon points="363.15,438.35 373.11,440.61 380.73,438.38 370.76,436.11" fill="#57cc7a"/>
<polygon points="366.19,437.49 376.16,439.75 383.78,437.4 373.81,435.13" fill="#68cd6b"/>
<polygon points="369.24,436.58 379.21,438.85 383.78,437.4 373.81,435.13" fill="#7ccc5c"/>
<polygon points="372.29,435.63 382.25,437.89 385.3,436.9 375.33,434.63" fill="#90ca4d"/>
<polygon points="279.95,443.72 289.91,446.13 297.53,446.85 287.56,444.44" fill="#3a74fe"/>
<polygon points="282.99,444.04 292.96,446.45 300.58,447.06 290.61,444.65" fill="#3678fe"/>
<polygon points="286.04,444.32 296.01,446.73 303.62,447.23 293.66,444.82" fill="#327cfc"/>
<polygon points="289.09,444.56 299.05,446.96 306.67,447.35 296.7,444.94" fill="#2f80fa"/>
<polygon points="292.13,444.74 302.1,447.15 309.72,447.42 299.75,445.01" fill="#2e84f8"/>
<polygon points="295.18,444.89 305.15,447.29 312.76,447.45 302.8,445.04" fill="#2d88f6"/>
<polygon points="298.23,444.98 308.19,447.39 315.81,447.43 305.84,445.02" fill="#2d8df2"/>
<polygon points="301.27,445.03 311.24,447.44 318.86,447.37 308.89,444.96" fill="#2b91ef"/>
<polygon points="304.32,445.04 314.29,447.45 321.9,447.26 311.94,444.85" fill="#2895ec"/>
<polygon points="307.37,445 317.33,447.41 324.95,447.11 314.98,444.7" fill="#2699e9"/>
<polygon points="310.41,444.91 320.38,447.32 328,446.91 318.03,444.5" fill="#249ee6"/>
<polygon points="313.46,444.78 323.43,447.19 331.04,446.66 321.08,444.25" fill="#22a2e4"/>
<polygon points="316.51,444.6 326.47,447.01 334.09,446.37 324.12,443.96" fill="#1fa6e1"/>
<polygon points="319.55,444.38 329.52,446.79 337.14,446.04 327.17,443.63" fill="#1baade"/>
<polygon points="322.6,444.11 332.57,446.52 340.18,445.65 330.22,443.24" fill="#16aeda"/>
<polygon points="325.65,443.8 335.61,446.21 343.23,445.23 333.26,442.82" fill="#0eb2d4"/>
<polygon points="328.69,443.44 338.66,445.85 346.28,444.75 336.31,442.34" fill="#05b6ce"/>
<polygon points="331.74,443.04 341.71,445.45 349.32,444.23 339.36,441.82" fill="#01b9c7"/>
<polygon points="334.79,442.59 344.75,444.99 352.37,443.67 342.4,441.26" fill="#06bcc0"/>
<polygon points="337.83,442.09 347.8,444.5 355.42,443.06 345.45,440.65" fill="#13beb8"/>
<polygon points="340.88,441.55 350.85,443.96 358.46,442.4 348.5,439.99" fill="#21c1b0"/>
<polygon points="343.93,440.96 353.89,443.37 361.51,441.7 351.54,439.29" fill="#2bc3a8"/>
<polygon points="346.97,440.33 356.94,442.74 364.56,440.96 354.59,438.55" fill="#32c69e"/>
<polygon points="350.02,439.65 359.99,442.06 367.6,440.16 357.64,437.75" fill="#3ac994"/>
<polygon points="353.07,438.93 363.03,441.33 370.65,439.33 360.68,436.92" fill="#45cb88"/>
<polygon points="356.11,438.16 366.08,440.57 373.7,438.44 363.73,436.03" fill="#55cc7c"/>
<polygon points="359.16,437.34 369.13,439.75 376.74,437.51 366.78,435.1" fill="#65cd6e"/>
<polygon points="362.21,436.48 372.17,438.89 379.79,436.54 369.82,434.13" fill="#78cc5f"/>
<polygon points="365.25,435.57 375.22,437.98 379.79,436.54 369.82,434.13" fill="#8ccb50"/>
<polygon points="368.3,434.62 378.27,437.03 381.31,436.03 371.35,433.62" fill="#9fc941"/>
<polygon points="275.96,442.65 285.93,445.21 293.54,445.93 283.58,443.38" fill="#337bfd"/>
<polygon points="279.01,442.98 288.97,445.53 296.59,446.14 286.62,443.59" fill="#307ffb"/>
<polygon points="282.05,443.26 292.02,445.81 299.64,446.31 289.67,443.76" fill="#2e83f9"/>
<polygon points="285.1,443.49 295.07,446.04 302.68,446.43 292.72,443.88" fill="#2e87f7"/>
<polygon points="288.15,443.68 298.11,446.23 305.73,446.5 295.76,443.95" fill="#2d8af4"/>
<polygon points="291.19,443.82 301.16,446.37 308.78,446.53 298.81,443.98" fill="#2c8ff1"/>
<polygon points="294.24,443.92 304.21,446.47 311.82,446.51 301.86,443.96" fill="#2a93ee"/>
<polygon points="297.29,443.97 307.25,446.52 314.87,446.45 304.9,443.9" fill="#2797eb"/>
<polygon points="300.33,443.98 310.3,446.53 317.92,446.34 307.95,443.79" fill="#259be8"/>
<polygon points="303.38,443.94 313.35,446.49 320.96,446.19 311,443.64" fill="#249fe5"/>
<polygon points="306.43,443.85 316.39,446.4 324.01,445.99 314.04,443.44" fill="#21a3e3"/>
<polygon points="309.47,443.72 319.44,446.27 327.06,445.74 317.09,443.19" fill="#1ea7e1"/>
<polygon points="312.52,443.54 322.49,446.09 330.1,445.45 320.14,442.9" fill="#1aabdd"/>
<polygon points="315.57,443.32 325.53,445.87 333.15,445.11 323.18,442.56" fill="#15afd9"/>
<polygon points="318.61,443.05 328.58,445.6 336.2,444.73 326.23,442.18" fill="#0db3d3"/>
<polygon points="321.66,442.74 331.63,445.29 339.24,444.31 329.28,441.75" fill="#04b6cd"/>
<polygon points="324.71,442.38 334.67,444.93 342.29,443.83 332.32,441.28" fill="#01b9c7"/>
<polygon points="327.75,441.97 337.72,444.52 345.34,443.31 335.37,440.76" fill="#07bcbf"/>
<polygon points="330.8,441.52 340.77,444.07 348.38,442.75 338.42,440.2" fill="#14beb8"/>
<polygon points="333.85,441.03 343.81,443.58 351.43,442.14 341.46,439.59" fill="#21c1b0"/>
<polygon points="336.89,440.49 346.86,443.04 354.48,441.48 344.51,438.93" fill="#2bc3a8"/>
<polygon points="339.94,439.9 349.91,442.45 357.52,440.78 347.56,438.23" fill="#32c69f"/>
<polygon points="342.99,439.27 352.95,441.82 360.57,440.03 350.6,437.48" fill="#39c995"/>
<polygon points="346.03,438.59 356,441.14 363.62,439.24 353.65,436.69" fill="#44cb89"/>
<polygon points="349.08,437.86 359.05,440.41 366.66,438.4 356.7,435.85" fill="#53cc7d"/>
<polygon points="352.13,437.09 362.09,439.64 369.71,437.52 359.74,434.97" fill="#64cd6f"/>
<polygon points="355.17,436.28 365.14,438.83 372.76,436.59 362.79,434.04" fill="#76cc61"/>
<polygon points="358.22,435.42 368.19,437.97 375.8,435.62 365.84,433.07" fill="#89cb52"/>
<polygon points="361.27,434.51 371.23,437.06 375.8,435.62 365.84,433.07" fill="#9cc943"/>
<polygon points="364.31,433.56 374.28,436.11 377.33,435.11 367.36,432.56" fill="#afc636"/>
<polygon points="271.97,441.53 281.94,444.23 289.56,444.95 279.59,442.26" fill="#2f82fa"/>
<polygon points="275.02,441.86 284.99,444.55 292.6,445.17 282.64,442.47" fill="#2e85f8"/>
<polygon points="278.07,442.14 288.03,444.83 295.65,445.33 285.68,442.64" fill="#2d89f5"/>
<polygon points="281.11,442.37 291.08,445.07 298.7,445.45 288.73,442.76" fill="#2d8df2"/>
<polygon points="284.16,442.56 294.13,445.25 301.74,445.52 291.78,442.83" fill="#2b91ef"/>
<polygon points="287.21,442.7 297.17,445.4 304.79,445.55 294.82,442.86" fill="#2995ec"/>
<polygon points="290.25,442.8 300.22,445.49 307.84,445.53 297.87,442.84" fill="#2698ea"/>
<polygon points="293.3,442.85 303.27,445.54 310.88,445.47 300.92,442.78" fill="#259ce7"/>
<polygon points="296.35,442.86 306.31,445.55 313.93,445.36 303.96,442.67" fill="#23a0e5"/>
<polygon points="299.39,442.82 309.36,445.51 316.98,445.21 307.01,442.52" fill="#20a4e3"/>
<polygon points="302.44,442.73 312.41,445.42 320.02,445.01 310.06,442.32" fill="#1da8e0"/>
<polygon points="305.49,442.6 315.45,445.29 323.07,444.76 313.1,442.07" fill="#19acdc"/>
<polygon points="308.53,442.42 318.5,445.12 326.12,444.47 316.15,441.78" fill="#14b0d8"/>
<polygon points="311.58,442.2 321.55,444.89 329.16,444.14 319.2,441.44" fill="#0bb3d2"/>
<polygon points="314.63,441.93 324.59,444.62 332.21,443.75 322.24,441.06" fill="#03b7cc"/>
<polygon points="317.67,441.62 327.64,444.31 335.26,443.33 325.29,440.63" fill="#01b9c6"/>
<polygon points="320.72,441.26 330.69,443.95 338.3,442.85 328.34,440.16" fill="#08bcbf"/>
<polygon points="323.77,440.85 333.73,443.55 341.35,442.34 331.38,439.64" fill="#15bfb7"/>
<polygon points="326.81,440.4 336.78,443.1 344.4,441.77 334.43,439.08" fill="#22c1b0"/>
<polygon points="329.86,439.91 339.83,442.6 347.44,441.16 337.48,438.47" fill="#2bc3a7"/>
<polygon points="332.91,439.36 342.87,442.06 350.49,440.51 340.52,437.81" fill="#32c69f"/>
<polygon points="335.95,438.78 345.92,441.47 353.54,439.8 343.57,437.11" fill="#39c895"/>
<polygon points="339,438.14 348.97,440.84 356.58,439.06 346.62,436.36" fill="#44cb8a"/>
<polygon points="342.05,437.47 352.01,440.16 359.63,438.26 349.66,435.57" fill="#53cc7e"/>
<polygon points="345.09,436.74 355.06,439.44 362.68,437.43 352.71,434.73" fill="#62cd70"/>
<polygon points="348.14,435.97 358.11,438.67 365.72,436.54 355.76,433.85" fill="#74cc62"/>
<polygon points="351.19,435.16 361.15,437.85 368.77,435.61 358.8,432.92" fill="#87cb54"/>
<polygon points="354.23,434.3 364.2,436.99 371.82,434.64 361.85,431.95" fill="#9ac945"/>
<polygon points="357.28,433.39 367.25,436.08 371.82,434.64 361.85,431.95" fill="#adc638"/>
<polygon points="360.33,432.44 370.29,435.13 373.34,434.13 363.37,431.44" fill="#bfc32d"/>
<polygon points="267.99,440.36 277.95,443.19 285.57,443.92 275.6,441.08" fill="#2d88f6"/>
<polygon points="271.03,440.68 281,443.52 288.62,444.13 278.65,441.29" fill="#2d8cf3"/>
<polygon points="274.08,440.96 284.05,443.8 291.66,444.3 281.7,441.46" fill="#2c8ff0"/>
<polygon points="277.13,441.19 287.09,444.03 294.71,444.41 284.74,441.58" fill="#2a93ed"/>
<polygon points="280.17,441.38 290.14,444.22 297.76,444.49 287.79,441.65" fill="#2797eb"/>
<polygon points="283.22,441.52 293.19,444.36 300.8,444.52 290.84,441.68" fill="#269be8"/>
<polygon points="286.27,441.62 296.23,444.46 303.85,444.5 293.88,441.66" fill="#249ee6"/>
<polygon points="289.31,441.67 299.28,444.51 306.9,444.44 296.93,441.6" fill="#22a2e4"/>
<polygon points="292.36,441.68 302.33,444.51 309.94,444.33 299.98,441.49" fill="#1fa6e2"/>
<polygon points="295.41,441.64 305.37,444.47 312.99,444.17 303.02,441.34" fill="#1caadf"/>
<polygon points="298.45,441.55 308.42,444.39 316.04,443.97 306.07,441.14" fill="#18addb"/>
<polygon points="301.5,441.42 311.47,444.26 319.08,443.73 309.12,440.89" fill="#12b1d6"/>
<polygon points="304.55,441.24 314.51,444.08 322.13,443.44 312.16,440.6" fill="#09b4d1"/>
<polygon points="307.59,441.02 317.56,443.86 325.18,443.1 315.21,440.27" fill="#02b7cb"/>
<polygon points="310.64,440.75 320.61,443.59 328.22,442.72 318.26,439.88" fill="#02bac4"/>
<polygon points="313.69,440.44 323.65,443.28 331.27,442.29 321.3,439.46" fill="#0abdbe"/>
<polygon points="316.73,440.08 326.7,442.92 334.32,441.82 324.35,438.98" fill="#17bfb6"/>
<polygon points="319.78,439.68 329.75,442.51 337.36,441.3 327.4,438.46" fill="#23c1af"/>
<polygon points="322.83,439.23 332.79,442.06 340.41,440.74 330.44,437.9" fill="#2cc4a7"/>
<polygon points="325.87,438.73 335.84,441.57 343.46,440.13 333.49,437.29" fill="#32c69e"/>
<polygon points="328.92,438.19 338.89,441.02 346.5,439.47 336.54,436.63" fill="#3ac994"/>
<polygon points="331.97,437.6 341.93,440.44 349.55,438.77 339.58,435.93" fill="#44cb89"/>
<polygon points="335.01,436.97 344.98,439.8 352.6,438.02 342.63,435.19" fill="#53cc7e"/>
<polygon points="338.06,436.29 348.03,439.13 355.64,437.23 345.68,434.39" fill="#62cd70"/>
<polygon points="341.11,435.57 351.07,438.4 358.69,436.39 348.72,433.56" fill="#73cd62"/>
<polygon points="344.15,434.8 354.12,437.63 361.74,435.51 351.77,432.67" fill="#86cb55"/>
<polygon points="347.2,433.98 357.17,436.82 364.78,434.58 354.82,431.74" fill="#99c946"/>
<polygon points="350.25,433.12 360.21,435.96 367.83,433.6 357.86,430.77" fill="#abc739"/>
<polygon points="353.29,432.21 363.26,435.05 367.83,433.6 357.86,430.77" fill="#bdc32f"/>
<polygon points="356.34,431.26 366.31,434.1 369.35,433.1 359.39,430.26" fill="#cec028"/>
<polygon points="264,439.12 273.97,442.1 281.58,442.83 271.62,439.85" fill="#2c8ff1"/>
<polygon points="267.05,439.45 277.01,442.43 284.63,443.04 274.66,440.06" fill="#2a92ee"/>
<polygon points="270.09,439.73 280.06,442.71 287.68,443.2 277.71,440.23" fill="#2896ec"/>
<polygon points="273.14,439.96 283.11,442.94 290.72,443.32 280.76,440.34" fill="#2699e9"/>
<polygon points="276.19,440.15 286.15,443.13 293.77,443.4 283.8,440.42" fill="#259de7"/>
<polygon points="279.23,440.29 289.2,443.27 296.82,443.43 286.85,440.45" fill="#23a0e5"/>
<polygon points="282.28,440.39 292.25,443.37 299.86,443.41 289.9,440.43" fill="#20a4e3"/>
<polygon points="285.33,440.44 295.29,443.42 302.91,443.35 292.94,440.37" fill="#1da8e0"/>
<polygon points="288.37,440.44 298.34,443.42 305.96,443.24 295.99,440.26" fill="#1aabdd"/>
<polygon points="291.42,440.4 301.39,443.38 309,443.08 299.04,440.1" fill="#16afd9"/>
<polygon points="294.47,440.32 304.43,443.3 312.05,442.88 302.08,439.9" fill="#0fb2d4"/>
<polygon points="297.51,440.19 307.48,443.17 315.1,442.64 305.13,439.66" fill="#06b5cf"/>
<polygon points="300.56,440.01 310.53,442.99 318.14,442.35 308.18,439.37" fill="#01b8c9"/>
<polygon points="303.61,439.79 313.57,442.77 321.19,442.01 311.22,439.03" fill="#03bbc3"/>
<polygon points="306.65,439.52 316.62,442.5 324.24,441.63 314.27,438.65" fill="#0cbdbc"/>
<polygon points="309.7,439.21 319.67,442.18 327.28,441.2 317.32,438.22" fill="#1abfb5"/>
<polygon points="312.75,438.85 322.71,441.83 330.33,440.73 320.36,437.75" fill="#25c2ad"/>
<polygon points="315.79,438.44 325.76,441.42 333.38,440.21 323.41,437.23" fill="#2dc4a6"/>
<polygon points="318.84,437.99 328.81,440.97 336.42,439.64 326.46,436.67" fill="#33c69d"/>
<polygon points="321.89,437.5 331.85,440.47 339.47,439.03 329.5,436.06" fill="#3ac993"/>
<polygon points="324.93,436.95 334.9,439.93 342.52,438.38 332.55,435.4" fill="#45cb89"/>
<polygon points="327.98,436.37 337.95,439.34 345.56,437.68 335.6,434.7" fill="#53cc7d"/>
<polygon points="331.03,435.73 340.99,438.71 348.61,436.93 338.64,433.95" fill="#62cd70"/>
<polygon points="334.07,435.06 344.04,438.03 351.66,436.14 341.69,433.16" fill="#73cd62"/>
<polygon points="337.12,434.33 347.09,437.31 354.7,435.3 344.74,432.32" fill="#86cb55"/>
<polygon points="340.17,433.56 350.13,436.54 357.75,434.42 347.78,431.44" fill="#98c947"/>
<polygon points="343.21,432.75 353.18,435.72 360.8,433.49 350.83,430.51" fill="#aac73a"/>
<polygon points="346.26,431.89 356.23,434.86 363.84,432.51 353.88,429.53" fill="#bcc42f"/>
<polygon points="349.31,430.98 359.27,433.96 363.84,432.51 353.88,429.53" fill="#ccc028"/>
<polygon points="352.35,430.03 362.32,433.01 365.37,432.01 355.4,429.03" fill="#dbbd29"/>
<polygon points="260.01,437.83 269.98,440.95 277.6,441.68 267.63,438.56" fill="#2895ec"/>
<polygon points="263.06,438.16 273.03,441.28 280.64,441.89 270.68,438.77" fill="#2699e9"/>
<polygon points="266.11,438.44 276.07,441.56 283.69,442.05 273.72,438.93" fill="#259ce7"/>
<polygon points="269.15,438.67 279.12,441.79 286.74,442.17 276.77,439.05" fill="#249fe5"/>
<polygon points="272.2,438.86 282.17,441.98 289.78,442.25 279.82,439.13" fill="#21a3e3"/>
<polygon points="275.25,439 285.21,442.12 292.83,442.28 282.86,439.16" fill="#1fa6e1"/>
<polygon points="278.29,439.1 288.26,442.22 295.88,442.26 285.91,439.14" fill="#1caadf"/>
<polygon points="281.34,439.15 291.31,442.27 298.92,442.2 288.96,439.08" fill="#18addb"/>
<polygon points="284.39,439.15 294.35,442.27 301.97,442.09 292,438.97" fill="#13b0d7"/>
<polygon points="287.43,439.11 297.4,442.23 305.02,441.93 295.05,438.81" fill="#0bb3d2"/>
<polygon points="290.48,439.03 300.45,442.15 308.06,441.73 298.1,438.61" fill="#04b6cd"/>
<polygon points="293.53,438.9 303.49,442.02 311.11,441.49 301.14,438.37" fill="#01b9c7"/>
<polygon points="296.57,438.72 306.54,441.84 314.16,441.2 304.19,438.08" fill="#05bbc1"/>
<polygon points="299.62,438.5 309.59,441.62 317.2,440.86 307.24,437.74" fill="#10beba"/>
<polygon points="302.67,438.23 312.63,441.35 320.25,440.48 310.28,437.36" fill="#1dc0b3"/>
<polygon points="305.71,437.91 315.68,441.04 323.3,440.05 313.33,436.93" fill="#27c2ac"/>
<polygon points="308.76,437.56 318.73,440.68 326.34,439.58 316.38,436.46" fill="#2ec5a4"/>
<polygon points="311.81,437.15 321.77,440.27 329.39,439.06 319.42,435.94" fill="#34c79b"/>
<polygon points="314.85,436.7 324.82,439.82 332.44,438.5 322.47,435.37" fill="#3cc992"/>
<polygon points="317.9,436.2 327.87,439.33 335.48,437.89 325.52,434.76" fill="#47cb87"/>
<polygon points="320.95,435.66 330.91,438.78 338.53,437.23 328.56,434.11" fill="#55cc7c"/>
<polygon points="323.99,435.08 333.96,438.2 341.58,436.53 331.61,433.41" fill="#64cd6f"/>
<polygon points="327.04,434.44 337.01,437.56 344.62,435.78 334.66,432.66" fill="#74cc62"/>
<polygon points="330.09,433.76 340.05,436.88 347.67,434.99 337.7,431.87" fill="#86cb54"/>
<polygon points="333.13,433.04 343.1,436.16 350.72,434.15 340.75,431.03" fill="#98c947"/>
<polygon points="336.18,432.27 346.15,435.39 353.76,433.27 343.8,430.15" fill="#aac73a"/>
<polygon points="339.23,431.45 349.19,434.58 356.81,432.34 346.84,429.22" fill="#bbc42f"/>
<polygon points="342.27,430.59 352.24,433.72 359.86,431.36 349.89,428.24" fill="#cbc029"/>
<polygon points="345.32,429.69 355.29,432.81 359.86,431.36 349.89,428.24" fill="#dabd28"/>
<polygon points="348.37,428.74 358.33,431.86 361.38,430.86 351.41,427.74" fill="#e8bb2f"/>
<polygon points="256.03,436.48 265.99,439.75 273.61,440.47 263.64,437.21" fill="#259ce7"/>
<polygon points="259.07,436.81 269.04,440.07 276.66,440.68 266.69,437.42" fill="#249fe5"/>
<polygon points="262.12,437.09 272.09,440.35 279.7,440.85 269.74,437.59" fill="#22a2e4"/>
<polygon points="265.17,437.32 275.13,440.58 282.75,440.97 272.78,437.71" fill="#1fa5e2"/>
<polygon points="268.21,437.51 278.18,440.77 285.8,441.04 275.83,437.78" fill="#1da9e0"/>
<polygon points="271.26,437.65 281.23,440.91 288.84,441.07 278.88,437.81" fill="#1aacdd"/>
<polygon points="274.31,437.75 284.27,441.01 291.89,441.05 281.92,437.79" fill="#15afd9"/>
<polygon points="277.35,437.8 287.32,441.06 294.94,440.99 284.97,437.73" fill="#0fb2d4"/>
<polygon points="280.4,437.8 290.37,441.07 297.98,440.88 288.02,437.62" fill="#07b5d0"/>
<polygon points="283.45,437.76 293.41,441.03 301.03,440.73 291.06,437.46" fill="#01b8ca"/>
<polygon points="286.49,437.68 296.46,440.94 304.08,440.53 294.11,437.26" fill="#02bac4"/>
<polygon points="289.54,437.55 299.51,440.81 307.12,440.28 297.16,437.02" fill="#09bcbe"/>
<polygon points="292.59,437.37 302.55,440.63 310.17,439.99 300.2,436.73" fill="#15bfb8"/>
<polygon points="295.63,437.15 305.6,440.41 313.22,439.66 303.25,436.39" fill="#20c1b1"/>
<polygon points="298.68,436.88 308.65,440.14 316.26,439.27 306.3,436.01" fill="#29c3aa"/>
<polygon points="301.73,436.57 311.69,439.83 319.31,438.85 309.34,435.58" fill="#30c5a2"/>
<polygon points="304.77,436.21 314.74,439.47 322.36,438.37 312.39,435.11" fill="#36c799"/>
<polygon points="307.82,435.8 317.79,439.07 325.4,437.85 315.44,434.59" fill="#3dc990"/>
<polygon points="310.87,435.35 320.83,438.62 328.45,437.29 318.48,434.03" fill="#49cb85"/>
<polygon points="313.91,434.86 323.88,438.12 331.5,436.68 321.53,433.42" fill="#57cc7a"/>
<polygon points="316.96,434.31 326.93,437.58 334.54,436.02 324.58,432.76" fill="#65cd6e"/>
<polygon points="320.01,433.73 329.97,436.99 337.59,435.32 327.62,432.06" fill="#76cc60"/>
<polygon points="323.05,433.09 333.02,436.36 340.64,434.58 330.67,431.31" fill="#88cb53"/>
<polygon points="326.1,432.42 336.07,435.68 343.68,433.78 333.72,430.52" fill="#99c946"/>
<polygon points="329.15,431.69 339.11,434.96 346.73,432.95 336.76,429.68" fill="#abc739"/>
<polygon points="332.19,430.92 342.16,434.19 349.78,432.06 339.81,428.8" fill="#bbc42f"/>
<polygon points="335.24,430.11 345.21,433.37 352.82,431.13 342.86,427.87" fill="#cbc029"/>
<polygon points="338.29,429.25 348.25,432.51 355.87,430.16 345.9,426.89" fill="#dabd28"/>
<polygon points="341.33,428.34 351.3,431.6 355.87,430.16 345.9,426.89" fill="#e8bb2e"/>
<polygon points="344.38,427.39 354.35,430.65 357.39,429.65 347.43,426.39" fill="#f4ba39"/>
<polygon points="252.04,435.08 262.01,438.48 269.62,439.21 259.66,435.8" fill="#22a2e4"/>
<polygon points="255.09,435.4 265.05,438.81 272.67,439.42 262.7,436.02" fill="#20a5e2"/>
<polygon points="258.13,435.68 268.1,439.09 275.72,439.59 265.75,436.18" fill="#1da8e0"/>
<polygon points="261.18,435.92 271.15,439.32 278.76,439.71 268.8,436.3" fill="#1aabdd"/>
<polygon points="264.23,436.1 274.19,439.51 281.81,439.78 271.84,436.37" fill="#17aeda"/>
<polygon points="267.27,436.25 277.24,439.65 284.86,439.81 274.89,436.4" fill="#12b1d6"/>
<polygon points="270.32,436.34 280.29,439.75 287.9,439.79 277.94,436.38" fill="#0ab4d1"/>
<polygon points="273.37,436.39 283.33,439.8 290.95,439.73 280.98,436.32" fill="#04b6cc"/>
<polygon points="276.41,436.4 286.38,439.81 294,439.62 284.03,436.21" fill="#01b9c7"/>
<polygon points="279.46,436.36 289.43,439.77 297.04,439.47 287.08,436.06" fill="#05bbc1"/>
<polygon points="282.51,436.27 292.47,439.68 300.09,439.27 290.12,435.86" fill="#0ebdbb"/>
<polygon points="285.55,436.14 295.52,439.55 303.14,439.02 293.17,435.61" fill="#1abfb5"/>
<polygon points="288.6,435.97 298.57,439.37 306.18,438.73 296.22,435.32" fill="#24c1ae"/>
<polygon points="291.65,435.74 301.61,439.15 309.23,438.39 299.26,434.99" fill="#2cc4a7"/>
<polygon points="294.69,435.47 304.66,438.88 312.28,438.01 302.31,434.61" fill="#31c69f"/>
<polygon points="297.74,435.16 307.71,438.57 315.32,437.58 305.36,434.18" fill="#37c897"/>
<polygon points="300.79,434.8 310.75,438.21 318.37,437.11 308.4,433.7" fill="#40ca8d"/>
<polygon points="303.83,434.4 313.8,437.8 321.42,436.59 311.45,433.19" fill="#4ccb83"/>
<polygon points="306.88,433.95 316.85,437.35 324.46,436.03 314.5,432.62" fill="#5acc78"/>
<polygon points="309.93,433.45 319.89,436.86 327.51,435.42 317.54,432.01" fill="#68cd6b"/>
<polygon points="312.97,432.91 322.94,436.32 330.56,434.76 320.59,431.36" fill="#79cc5f"/>
<polygon points="316.02,432.32 325.99,435.73 333.6,434.06 323.64,430.65" fill="#8acb52"/>
<polygon points="319.07,431.69 329.03,435.09 336.65,433.31 326.68,429.91" fill="#9bc945"/>
<polygon points="322.11,431.01 332.08,434.42 339.7,432.52 329.73,429.11" fill="#acc738"/>
<polygon points="325.16,430.29 335.13,433.69 342.74,431.68 332.78,428.28" fill="#bcc42f"/>
<polygon points="328.21,429.52 338.17,432.92 345.79,430.8 335.82,427.39" fill="#ccc028"/>
<polygon points="331.25,428.7 341.22,432.11 348.84,429.87 338.87,426.46" fill="#dabd28"/>
<polygon points="334.3,427.84 344.27,431.25 351.88,428.9 341.92,425.49" fill="#e8bb2e"/>
<polygon points="337.35,426.93 347.31,430.34 351.88,428.9 341.92,425.49" fill="#f4ba39"/>
<polygon points="340.39,425.98 350.36,429.39 353.41,428.39 343.44,424.98" fill="#fdbd3d"/>
<polygon points="248.05,433.62 258.02,437.16 265.64,437.89 255.67,434.34" fill="#1da8e0"/>
<polygon points="251.1,433.94 261.07,437.49 268.68,438.1 258.72,434.55" fill="#1babde"/>
<polygon points="254.15,434.22 264.11,437.77 271.73,438.27 261.76,434.72" fill="#17aeda"/>
<polygon points="257.19,434.45 267.16,438 274.78,438.39 264.81,434.84" fill="#13b1d7"/>
<polygon points="260.24,434.64 270.21,438.19 277.82,438.46 267.86,434.91" fill="#0cb3d3"/>
<polygon points="263.29,434.78 273.25,438.33 280.87,438.49 270.9,434.94" fill="#05b6ce"/>
<polygon points="266.33,434.88 276.3,438.43 283.92,438.47 273.95,434.92" fill="#01b8c9"/>
<polygon points="269.38,434.93 279.35,438.48 286.96,438.41 277,434.86" fill="#02bac4"/>
<polygon points="272.43,434.94 282.39,438.49 290.01,438.3 280.04,434.75" fill="#09bcbe"/>
<polygon points="275.47,434.9 285.44,438.45 293.06,438.15 283.09,434.6" fill="#14bfb8"/>
<polygon points="278.52,434.81 288.49,438.36 296.1,437.95 286.14,434.4" fill="#1fc0b2"/>
<polygon points="281.57,434.68 291.53,438.23 299.15,437.7 289.18,434.15" fill="#28c2ab"/>
<polygon points="284.61,434.5 294.58,438.05 302.2,437.41 292.23,433.86" fill="#2ec5a4"/>
<polygon points="287.66,434.28 297.63,437.83 305.24,437.07 295.28,433.52" fill="#34c79c"/>
<polygon points="290.71,434.01 300.67,437.56 308.29,436.69 298.32,433.14" fill="#3ac994"/>
<polygon points="293.75,433.7 303.72,437.25 311.34,436.26 301.37,432.72" fill="#43ca8a"/>
<polygon points="296.8,433.34 306.77,436.89 314.38,435.79 304.42,432.24" fill="#50cc80"/>
<polygon points="299.85,432.93 309.81,436.48 317.43,435.27 307.46,431.72" fill="#5dcc75"/>
<polygon points="302.89,432.48 312.86,436.03 320.48,434.71 310.51,431.16" fill="#6ccd68"/>
<polygon points="305.94,431.99 315.91,435.54 323.52,434.1 313.56,430.55" fill="#7ccc5c"/>
<polygon points="308.99,431.45 318.95,435 326.57,433.44 316.6,429.89" fill="#8dcb4f"/>
<polygon points="312.03,430.86 322,434.41 329.62,432.74 319.65,429.19" fill="#9dc943"/>
<polygon points="315.08,430.23 325.05,433.78 332.66,431.99 322.7,428.45" fill="#aec637"/>
<polygon points="318.13,429.55 328.09,433.1 335.71,431.2 325.74,427.65" fill="#bec32e"/>
<polygon points="321.17,428.82 331.14,432.37 338.76,430.36 328.79,426.81" fill="#cdc028"/>
<polygon points="324.22,428.05 334.19,431.6 341.8,429.48 331.84,425.93" fill="#dbbd29"/>
<polygon points="327.27,427.24 337.23,430.79 344.85,428.55 334.88,425" fill="#e8bb2f"/>
<polygon points="330.31,426.38 340.28,429.93 347.9,427.58 337.93,424.03" fill="#f4ba39"/>
<polygon points="333.36,425.47 343.33,429.02 347.9,427.58 337.93,424.03" fill="#fdbd3d"/>
<polygon points="336.41,424.52 346.37,428.07 349.42,427.07 339.45,423.52" fill="#fec537"/>
<polygon points="244.07,432.1 254.03,435.79 261.65,436.51 251.68,432.82" fill="#17aeda"/>
<polygon points="247.11,432.42 257.08,436.11 264.7,436.72 254.73,433.03" fill="#13b1d7"/>
<polygon points="250.16,432.7 260.13,436.39 267.74,436.89 257.78,433.2" fill="#0cb3d3"/>
<polygon points="253.21,432.93 263.17,436.63 270.79,437.01 260.82,433.32" fill="#06b5cf"/>
<polygon points="256.25,433.12 266.22,436.81 273.84,437.08 263.87,433.39" fill="#01b8ca"/>
<polygon points="259.3,433.26 269.27,436.96 276.88,437.11 266.92,433.42" fill="#02bac5"/>
<polygon points="262.35,433.36 272.31,437.05 279.93,437.09 269.96,433.4" fill="#07bcc0"/>
<polygon points="265.39,433.41 275.36,437.1 282.98,437.03 273.01,433.34" fill="#10beba"/>
<polygon points="268.44,433.42 278.41,437.11 286.02,436.92 276.06,433.23" fill="#1bc0b4"/>
<polygon points="271.49,433.38 281.45,437.07 289.07,436.77 279.1,433.08" fill="#24c2ae"/>
<polygon points="274.53,433.29 284.5,436.98 292.12,436.57 282.15,432.88" fill="#2bc4a7"/>
<polygon points="277.58,433.16 287.55,436.85 295.16,436.32 285.2,432.63" fill="#31c6a0"/>
<polygon points="280.63,432.98 290.59,436.68 298.21,436.03 288.24,432.34" fill="#36c899"/>
<polygon points="283.67,432.76 293.64,436.45 301.26,435.7 291.29,432.01" fill="#3dc990"/>
<polygon points="286.72,432.49 296.69,436.18 304.3,435.31 294.34,431.62" fill="#48cb86"/>
<polygon points="289.77,432.18 299.73,435.87 307.35,434.89 297.38,431.2" fill="#54cc7c"/>
<polygon points="292.81,431.82 302.78,435.51 310.4,434.41 300.43,430.72" fill="#61cd71"/>
<polygon points="295.86,431.42 305.83,435.11 313.44,433.9 303.48,430.2" fill="#70cd65"/>
<polygon points="298.91,430.97 308.87,434.66 316.49,433.33 306.52,429.64" fill="#80cc59"/>
<polygon points="301.95,430.47 311.92,434.16 319.54,432.72 309.57,429.03" fill="#91ca4d"/>
<polygon points="305,429.93 314.97,433.62 322.58,432.07 312.62,428.37" fill="#a1c840"/>
<polygon points="308.05,429.34 318.01,433.03 325.63,431.36 315.66,427.67" fill="#b1c636"/>
<polygon points="311.09,428.71 321.06,432.4 328.68,430.62 318.71,426.93" fill="#c0c32d"/>
<polygon points="314.14,428.03 324.11,431.72 331.72,429.82 321.76,426.13" fill="#cfc028"/>
<polygon points="317.19,427.3 327.15,431 334.77,428.99 324.8,425.3" fill="#ddbd29"/>
<polygon points="320.23,426.54 330.2,430.23 337.82,428.1 327.85,424.41" fill="#e9bb30"/>
<polygon points="323.28,425.72 333.25,429.41 340.86,427.17 330.9,423.48" fill="#f5ba3a"/>
<polygon points="326.33,424.86 336.29,428.55 343.91,426.2 333.94,422.51" fill="#fdbd3d"/>
<polygon points="329.37,423.95 339.34,427.64 343.91,426.2 333.94,422.51" fill="#fec537"/>
<polygon points="332.42,423 342.39,426.69 345.43,425.69 335.47,422" fill="#fdcd31"/>
<polygon points="240.08,430.52 250.05,434.35 257.66,435.08 247.7,431.25" fill="#0bb3d2"/>
<polygon points="243.13,430.85 253.09,434.68 260.71,435.29 250.74,431.46" fill="#06b5ce"/>
<polygon points="246.17,431.12 256.14,434.96 263.76,435.46 253.79,431.62" fill="#01b8ca"/>
<polygon points="249.22,431.36 259.19,435.19 266.8,435.58 256.84,431.74" fill="#01bac5"/>
<polygon points="252.27,431.55 262.23,435.38 269.85,435.65 259.88,431.82" fill="#06bcc0"/>
<polygon points="255.31,431.69 265.28,435.52 272.9,435.68 262.93,431.84" fill="#0ebdbb"/>
<polygon points="258.36,431.78 268.33,435.62 275.94,435.66 265.98,431.83" fill="#18bfb6"/>
<polygon points="261.41,431.84 271.37,435.67 278.99,435.6 269.02,431.76" fill="#22c1b0"/>
<polygon points="264.45,431.84 274.42,435.68 282.04,435.49 272.07,431.66" fill="#29c3aa"/>
<polygon points="267.5,431.8 277.47,435.64 285.08,435.34 275.12,431.5" fill="#2fc5a3"/>
<polygon points="270.55,431.72 280.51,435.55 288.13,435.14 278.16,431.3" fill="#34c79c"/>
<polygon points="273.59,431.58 283.56,435.42 291.18,434.89 281.21,431.06" fill="#3ac994"/>
<polygon points="276.64,431.41 286.61,435.24 294.22,434.6 284.26,430.77" fill="#42ca8c"/>
<polygon points="279.69,431.19 289.65,435.02 297.27,434.26 287.3,430.43" fill="#4dcc82"/>
<polygon points="282.73,430.92 292.7,434.75 300.32,433.88 290.35,430.05" fill="#59cc78"/>
<polygon points="285.78,430.6 295.75,434.44 303.36,433.45 293.4,429.62" fill="#67cd6d"/>
<polygon points="288.83,430.24 298.79,434.08 306.41,432.98 296.44,429.15" fill="#75cc61"/>
<polygon points="291.87,429.84 301.84,433.67 309.46,432.46 299.49,428.63" fill="#85cb55"/>
<polygon points="294.92,429.39 304.89,433.22 312.5,431.9 302.54,428.06" fill="#95ca49"/>
<polygon points="297.97,428.89 307.93,432.73 315.55,431.29 305.58,427.45" fill="#a5c83d"/>
<polygon points="301.01,428.35 310.98,432.18 318.6,430.63 308.63,426.8" fill="#b4c533"/>
<polygon points="304.06,427.76 314.03,431.6 321.64,429.93 311.68,426.1" fill="#c3c22b"/>
<polygon points="307.11,427.13 317.07,430.96 324.69,429.18 314.72,425.35" fill="#d1bf27"/>
<polygon points="310.15,426.45 320.12,430.29 327.74,428.39 317.77,424.56" fill="#dfbc2a"/>
<polygon points="313.2,425.73 323.17,429.56 330.78,427.55 320.82,423.72" fill="#ebba31"/>
<polygon points="316.25,424.96 326.21,428.79 333.83,426.67 323.86,422.84" fill="#f6ba3b"/>
<polygon points="319.29,424.14 329.26,427.98 336.88,425.74 326.91,421.91" fill="#febe3c"/>
<polygon points="322.34,423.28 332.31,427.12 339.92,424.77 329.96,420.93" fill="#fec537"/>
<polygon points="325.39,422.38 335.35,426.21 339.92,424.77 329.96,420.93" fill="#fdce31"/>
<polygon points="328.43,421.42 338.4,425.26 341.45,424.26 331.48,420.43" fill="#f9d62d"/>
<polygon points="236.09,428.89 246.06,432.86 253.68,433.59 243.71,429.61" fill="#01b8c9"/>
<polygon points="239.14,429.21 249.11,433.19 256.72,433.8 246.76,429.82" fill="#02bac5"/>
<polygon points="242.19,429.49 252.15,433.47 259.77,433.97 249.8,429.99" fill="#06bcc0"/>
<polygon points="245.23,429.72 255.2,433.7 262.82,434.09 252.85,430.11" fill="#0dbdbb"/>
<polygon points="248.28,429.91 258.25,433.89 265.86,434.16 255.9,430.18" fill="#17bfb6"/>
<polygon points="251.33,430.06 261.29,434.03 268.91,434.19 258.94,430.21" fill="#20c1b1"/>
<polygon points="254.37,430.15 264.34,434.13 271.96,434.17 261.99,430.19" fill="#27c2ab"/>
<polygon points="257.42,430.2 267.39,434.18 275,434.11 265.04,430.13" fill="#2dc4a5"/>
<polygon points="260.47,430.21 270.43,434.18 278.05,434 268.08,430.02" fill="#32c69f"/>
<polygon points="263.51,430.17 273.48,434.14 281.1,433.84 271.13,429.87" fill="#37c897"/>
<polygon points="266.56,430.08 276.53,434.06 284.14,433.65 274.18,429.67" fill="#3eca8f"/>
<polygon points="269.61,429.95 279.57,433.93 287.19,433.4 277.22,429.42" fill="#48cb87"/>
<polygon points="272.65,429.77 282.62,433.75 290.24,433.11 280.27,429.13" fill="#53cc7d"/>
<polygon points="275.7,429.55 285.67,433.53 293.28,432.77 283.32,428.8" fill="#60cd73"/>
<polygon points="278.75,429.28 288.71,433.26 296.33,432.39 286.36,428.41" fill="#6dcd67"/>
<polygon points="281.79,428.97 291.76,432.95 299.38,431.96 289.41,427.99" fill="#7ccc5c"/>
<polygon points="284.84,428.61 294.81,432.59 302.42,431.49 292.46,427.51" fill="#8bcb51"/>
<polygon points="287.89,428.21 297.85,432.18 305.47,430.97 295.5,426.99" fill="#9ac945"/>
<polygon points="290.93,427.76 300.9,431.73 308.52,430.41 298.55,426.43" fill="#aac73a"/>
<polygon points="293.98,427.26 303.95,431.24 311.56,429.8 301.6,425.82" fill="#b9c431"/>
<polygon points="297.03,426.72 306.99,430.69 314.61,429.14 304.64,425.16" fill="#c7c12a"/>
<polygon points="300.07,426.13 310.04,430.11 317.66,428.44 307.69,424.46" fill="#d4bf28"/>
<polygon points="303.12,425.5 313.09,429.47 320.7,427.69 310.74,423.72" fill="#e1bc2b"/>
<polygon points="306.17,424.82 316.13,428.8 323.75,426.9 313.78,422.92" fill="#edba33"/>
<polygon points="309.21,424.1 319.18,428.07 326.8,426.06 316.83,422.09" fill="#f8ba3d"/>
<polygon points="312.26,423.33 322.23,427.3 329.84,425.18 319.88,421.2" fill="#febf3c"/>
<polygon points="315.31,422.51 325.27,426.49 332.89,424.25 322.92,420.27" fill="#fec636"/>
<polygon points="318.35,421.65 328.32,425.63 335.94,423.27 325.97,419.3" fill="#fdce31"/>
<polygon points="321.4,420.74 331.37,424.72 335.94,423.27 325.97,419.3" fill="#f9d72d"/>
<polygon points="324.45,419.79 334.41,423.77 337.46,422.77 327.49,418.79" fill="#f6e029"/>
<polygon points="236.09,428.89 242.07,431.32 249.69,432.04 243.71,429.61" fill="#07bcbf"/>
<polygon points="239.14,429.21 245.12,431.64 252.74,432.25 246.76,429.82" fill="#0ebebb"/>
<polygon points="242.19,429.49 248.17,431.92 255.78,432.42 249.8,429.99" fill="#18bfb6"/>
<polygon points="245.23,429.72 251.21,432.15 258.83,432.54 252.85,430.11" fill="#20c1b1"/>
<polygon points="248.28,429.91 254.26,432.34 261.88,432.61 255.9,430.18" fill="#27c2ac"/>
<polygon points="251.33,430.06 257.31,432.48 264.92,432.64 258.94,430.21" fill="#2dc4a6"/>
<polygon points="254.37,430.15 260.35,432.58 267.97,432.62 261.99,430.19" fill="#31c6a0"/>
<polygon points="257.42,430.2 263.4,432.63 271.02,432.56 265.04,430.13" fill="#36c799"/>
<polygon points="260.47,430.21 266.45,432.64 274.06,432.45 268.08,430.02" fill="#3cc992"/>
<polygon points="263.51,430.17 269.49,432.6 277.11,432.3 271.13,429.87" fill="#44cb8a"/>
<polygon points="266.56,430.08 272.54,432.51 280.16,432.1 274.18,429.67" fill="#4fcc81"/>
<polygon points="269.61,429.95 275.59,432.38 283.2,431.85 277.22,429.42" fill="#5acc77"/>
<polygon points="272.65,429.77 278.63,432.2 286.25,431.56 280.27,429.13" fill="#67cd6d"/>
<polygon points="275.7,429.55 281.68,431.98 289.3,431.22 283.32,428.8" fill="#74cc62"/>
<polygon points="278.75,429.28 284.73,431.71 292.34,430.84 286.36,428.41" fill="#83cc57"/>
<polygon points="281.79,428.97 287.77,431.4 295.39,430.42 289.41,427.99" fill="#92ca4c"/>
<polygon points="284.84,428.61 290.82,431.04 298.44,429.94 292.46,427.51" fill="#a0c841"/>
<polygon points="287.89,428.21 293.87,430.63 301.48,429.42 295.5,426.99" fill="#afc637"/>
<polygon points="290.93,427.76 296.91,430.18 304.53,428.86 298.55,426.43" fill="#bdc32e"/>
<polygon points="293.98,427.26 299.96,429.69 307.58,428.25 301.6,425.82" fill="#cbc129"/>
<polygon points="297.03,426.72 303.01,429.15 310.62,427.59 304.64,425.16" fill="#d8be28"/>
<polygon points="300.07,426.13 306.05,428.56 313.67,426.89 307.69,424.46" fill="#e4bb2c"/>
<polygon points="303.12,425.5 309.1,427.93 316.72,426.14 310.74,423.72" fill="#efba35"/>
<polygon points="306.17,424.82 312.15,427.25 319.76,425.35 313.78,422.92" fill="#f9bb3d"/>
<polygon points="309.21,424.1 315.19,426.52 322.81,424.51 316.83,422.09" fill="#fec03b"/>
<polygon points="312.26,423.33 318.24,425.75 325.86,423.63 319.88,421.2" fill="#fec735"/>
<polygon points="315.31,422.51 321.29,424.94 328.9,422.7 322.92,420.27" fill="#fccf30"/>
<polygon points="318.35,421.65 324.33,424.08 331.95,421.73 325.97,419.3" fill="#f9d82c"/>
<polygon points="321.4,420.74 327.38,423.17 331.95,421.73 325.97,419.3" fill="#f6e028"/>
<polygon points="324.45,419.79 330.43,422.22 333.47,421.22 327.49,418.79" fill="#f5e924"/>
<polygon points="234.1,428.05 238.09,429.71 245.7,430.44 241.72,428.78" fill="#1abfb5"/>
<polygon points="237.15,428.37 241.13,430.04 248.75,430.65 244.76,428.99" fill="#21c1b0"/>
<polygon points="240.19,428.65 244.18,430.32 251.8,430.81 247.81,429.15" fill="#28c2ab"/>
<polygon points="243.24,428.89 247.23,430.55 254.84,430.93 250.86,429.27" fill="#2dc4a6"/>
<polygon points="246.29,429.07 250.27,430.74 257.89,431.01 253.9,429.35" fill="#31c6a0"/>
<polygon points="249.33,429.22 253.32,430.88 260.94,431.04 256.95,429.37" fill="#35c79a"/>
<polygon points="252.38,429.31 256.37,430.98 263.98,431.02 260,429.36" fill="#3bc993"/>
<polygon points="255.43,429.36 259.41,431.03 267.03,430.95 263.04,429.29" fill="#42ca8b"/>
<polygon points="258.47,429.37 262.46,431.03 270.08,430.85 266.09,429.18" fill="#4ccb83"/>
<polygon points="261.52,429.33 265.51,430.99 273.12,430.69 269.14,429.03" fill="#57cc7a"/>
<polygon points="264.57,429.24 268.55,430.91 276.17,430.49 272.18,428.83" fill="#62cd70"/>
<polygon points="267.61,429.11 271.6,430.78 279.22,430.25 275.23,428.59" fill="#6fcd66"/>
<polygon points="270.66,428.94 274.65,430.6 282.26,429.96 278.28,428.29" fill="#7dcc5c"/>
<polygon points="273.71,428.71 277.69,430.38 285.31,429.62 281.32,427.96" fill="#8bcb51"/>
<polygon points="276.75,428.45 280.74,430.11 288.36,429.24 284.37,427.58" fill="#99c946"/>
<polygon points="279.8,428.13 283.79,429.79 291.4,428.81 287.42,427.15" fill="#a7c73c"/>
<polygon points="282.85,427.77 286.83,429.43 294.45,428.34 290.46,426.68" fill="#b5c533"/>
<polygon points="285.89,427.37 289.88,429.03 297.5,427.82 293.51,426.16" fill="#c3c22b"/>
<polygon points="288.94,426.92 292.93,428.58 300.54,427.25 296.56,425.59" fill="#d0bf27"/>
<polygon points="291.99,426.42 295.97,428.08 303.59,426.64 299.6,424.98" fill="#dcbd29"/>
<polygon points="295.03,425.88 299.02,427.54 306.64,425.99 302.65,424.33" fill="#e8bb2e"/>
<polygon points="298.08,425.29 302.07,426.95 309.68,425.29 305.7,423.63" fill="#f2ba38"/>
<polygon points="301.13,424.66 305.11,426.32 312.73,424.54 308.74,422.88" fill="#fbbc3d"/>
<polygon points="304.17,423.98 308.16,425.64 315.78,423.75 311.79,422.09" fill="#fec239"/>
<polygon points="307.22,423.26 311.21,424.92 318.82,422.91 314.84,421.25" fill="#fec934"/>
<polygon points="310.27,422.49 314.25,424.15 321.87,422.03 317.88,420.36" fill="#fcd12f"/>
<polygon points="313.31,421.67 317.3,423.33 324.92,421.1 320.93,419.44" fill="#f8d92b"/>
<polygon points="316.36,420.81 320.35,422.47 327.96,420.12 323.98,418.46" fill="#f5e228"/>
<polygon points="319.41,419.91 323.39,421.57 327.96,420.12 323.98,418.46" fill="#f5ea24"/>
<polygon points="322.45,418.95 326.44,420.62 329.49,419.62 325.5,417.96" fill="#f6f21e"/>
</g>
<g fill="none">
<line x1="234" y1="497.3" x2="234" y2="357.4" stroke="#c0c0c0" stroke-width="2"/>
<line x1="234.1" y1="497.3" x2="325.5" y2="542.7" stroke="#3c3c3c" stroke-width="0.75"/>
<line x1="325.5" y1="542.7" x2="445.1" y2="508.3" stroke="#3c3c3c" stroke-width="0.75"/>
<line x1="234.1" y1="497.3" x2="230.88" y2="495.7" stroke="#3c3c3c" stroke-width="0.7"/>
<line x1="234.1" y1="473.98" x2="230.88" y2="472.38" stroke="#3c3c3c" stroke-width="0.7"/>
<line x1="234.1" y1="450.67" x2="230.88" y2="449.07" stroke="#3c3c3c" stroke-width="0.7"/>
<line x1="234.1" y1="427.35" x2="230.88" y2="425.75" stroke="#3c3c3c" stroke-width="0.7"/>
<line x1="234.1" y1="404.03" x2="230.88" y2="402.43" stroke="#3c3c3c" stroke-width="0.7"/>
<line x1="234.1" y1="380.72" x2="230.88" y2="379.12" stroke="#3c3c3c" stroke-width="0.7"/>
<line x1="234.1" y1="357.4" x2="230.88" y2="355.8" stroke="#3c3c3c" stroke-width="0.7"/>
<line x1="234.1" y1="497.3" x2="230.64" y2="498.3" stroke="#3c3c3c" stroke-width="0.7"/>
<line x1="279.8" y1="520" x2="276.34" y2="521" stroke="#3c3c3c" stroke-width="0.7"/>
<line x1="325.5" y1="542.7" x2="322.04" y2="543.7" stroke="#3c3c3c" stroke-width="0.7"/>
<line x1="325.5" y1="542.7" x2="328.72" y2="544.3" stroke="#3c3c3c" stroke-width="0.7"/>
<line x1="355.4" y1="534.1" x2="358.62" y2="535.7" stroke="#3c3c3c" stroke-width="0.7"/>
<line x1="385.3" y1="525.5" x2="388.52" y2="527.1" stroke="#3c3c3c" stroke-width="0.7"/>
<line x1="415.2" y1="516.9" x2="418.42" y2="518.5" stroke="#3c3c3c" stroke-width="0.7"/>
<line x1="445.1" y1="508.3" x2="448.32" y2="509.9" stroke="#3c3c3c" stroke-width="0.7"/>
</g>
<g font-family='"Liberation Sans", Arial, sans-serif'>
<text x="227.1" y="498.16" font-size="8.15" text-anchor="end" fill="#262626">1.687976</text>
<text x="227.1" y="474.84" font-size="8.15" text-anchor="end" fill="#262626">1.687978</text>
<text x="227.1" y="451.53" font-size="8.15" text-anchor="end" fill="#262626">1.68798</text>
<text x="227.1" y="428.21" font-size="8.15" text-anchor="end" fill="#262626">1.687982</text>
<text x="227.1" y="404.89" font-size="8.15" text-anchor="end" fill="#262626">1.687984</text>
<text x="227.1" y="381.58" font-size="8.15" text-anchor="end" fill="#262626">1.687986</text>
<text x="227.1" y="358.26" font-size="8.15" text-anchor="end" fill="#262626">1.687988</text>
<text x="227.1" y="508.06" font-size="8.15" text-anchor="end" fill="#262626">0.3</text>
<text x="272.8" y="530.76" font-size="8.15" text-anchor="end" fill="#262626">0.2</text>
<text x="318.5" y="553.46" font-size="8.15" text-anchor="end" fill="#262626">0.1</text>
<text x="331.7" y="554.26" font-size="8.15" text-anchor="start" fill="#262626">0.15</text>
<text x="361.6" y="545.66" font-size="8.15" text-anchor="start" fill="#262626">0.2</text>
<text x="391.5" y="537.06" font-size="8.15" text-anchor="start" fill="#262626">0.25</text>
<text x="421.4" y="528.46" font-size="8.15" text-anchor="start" fill="#262626">0.3</text>
<text x="451.3" y="519.86" font-size="8.15" text-anchor="start" fill="#262626">0.35</text>
</g>
<defs><linearGradient id="cbC" x1="0" y1="1" x2="0" y2="0">
<stop offset="0%" stop-color="#3e26a8"/>
<stop offset="1.59%" stop-color="#402ab4"/>
<stop offset="3.17%" stop-color="#422ec0"/>
<stop offset="4.76%" stop-color="#4332cb"/>
<stop offset="6.35%" stop-color="#4537d5"/>
<stop offset="7.94%" stop-color="#463cde"/>
<stop offset="9.52%" stop-color="#4741e5"/>
<stop offset="11.11%" stop-color="#4747eb"/>
<stop offset="12.7%" stop-color="#484df0"/>
<stop offset="14.29%" stop-color="#4852f4"/>
<stop offset="15.87%" stop-color="#4758f8"/>
<stop offset="17.46%" stop-color="#465efb"/>
<stop offset="19.05%" stop-color="#4563fd"/>
<stop offset="20.63%" stop-color="#4269fe"/>
<stop offset="22.22%" stop-color="#3e6fff"/>
<stop offset="23.81%" stop-color="#3875fe"/>
<stop offset="25.4%" stop-color="#327cfc"/>
<stop offset="26.98%" stop-color="#2f81fa"/>
<stop offset="28.57%" stop-color="#2e87f7"/>
<stop offset="30.16%" stop-color="#2d8cf3"/>
<stop offset="31.75%" stop-color="#2b91ef"/>
<stop offset="33.33%" stop-color="#2797eb"/>
<stop offset="34.92%" stop-color="#259be8"/>
<stop offset="36.51%" stop-color="#23a0e5"/>
<stop offset="38.1%" stop-color="#20a5e3"/>
<stop offset="39.68%" stop-color="#1ca9df"/>
<stop offset="41.27%" stop-color="#18addb"/>
<stop offset="42.86%" stop-color="#12b1d6"/>
<stop offset="44.44%" stop-color="#08b5d0"/>
<stop offset="46.03%" stop-color="#01b8ca"/>
<stop offset="47.62%" stop-color="#02bac3"/>
<stop offset="49.21%" stop-color="#0bbdbd"/>
<stop offset="50.79%" stop-color="#19bfb6"/>
<stop offset="52.38%" stop-color="#24c1ae"/>
<stop offset="53.97%" stop-color="#2cc4a7"/>
<stop offset="55.56%" stop-color="#31c69f"/>
<stop offset="57.14%" stop-color="#37c897"/>
<stop offset="58.73%" stop-color="#3fca8e"/>
<stop offset="60.32%" stop-color="#4acb84"/>
<stop offset="61.9%" stop-color="#57cc7a"/>
<stop offset="63.49%" stop-color="#64cd6f"/>
<stop offset="65.08%" stop-color="#72cd64"/>
<stop offset="66.67%" stop-color="#81cc59"/>
<stop offset="68.25%" stop-color="#8fcb4e"/>
<stop offset="69.84%" stop-color="#9dc943"/>
<stop offset="71.43%" stop-color="#abc739"/>
<stop offset="73.02%" stop-color="#b9c431"/>
<stop offset="74.6%" stop-color="#c5c22a"/>
<stop offset="76.19%" stop-color="#d1bf27"/>
<stop offset="77.78%" stop-color="#dcbd29"/>
<stop offset="79.37%" stop-color="#e6bb2d"/>
<stop offset="80.95%" stop-color="#f0ba36"/>
<stop offset="82.54%" stop-color="#f8ba3d"/>
<stop offset="84.13%" stop-color="#febe3c"/>
<stop offset="85.71%" stop-color="#fec338"/>
<stop offset="87.3%" stop-color="#fec934"/>
<stop offset="88.89%" stop-color="#fccf30"/>
<stop offset="90.48%" stop-color="#fad62d"/>
<stop offset="92.06%" stop-color="#f7dc2a"/>
<stop offset="93.65%" stop-color="#f5e327"/>
<stop offset="95.24%" stop-color="#f5e924"/>
<stop offset="96.83%" stop-color="#f6ef20"/>
<stop offset="98.41%" stop-color="#f7f51b"/>
<stop offset="100%" stop-color="#f9fb15"/>
</linearGradient></defs>
<rect x="468.3" y="323" width="13.4" height="219.4" fill="url(#cbC)" stroke="#4a4a4a" stroke-width="0.6"/>
<g font-family='"Liberation Sans", Arial, sans-serif'>
<line x1="480.2" y1="539.06" x2="481.7" y2="539.06" stroke="#444" stroke-width="0.6"/>
<text x="484.7" y="541.71" font-size="7.4" text-anchor="start" fill="#262626">1.687977</text>
<line x1="480.2" y1="516.78" x2="481.7" y2="516.78" stroke="#444" stroke-width="0.6"/>
<text x="484.7" y="519.43" font-size="7.4" text-anchor="start" fill="#262626">1.687978</text>
<line x1="480.2" y1="494.51" x2="481.7" y2="494.51" stroke="#444" stroke-width="0.6"/>
<text x="484.7" y="497.16" font-size="7.4" text-anchor="start" fill="#262626">1.687979</text>
<line x1="480.2" y1="472.24" x2="481.7" y2="472.24" stroke="#444" stroke-width="0.6"/>
<text x="484.7" y="474.89" font-size="7.4" text-anchor="start" fill="#262626">1.68798</text>
<line x1="480.2" y1="449.96" x2="481.7" y2="449.96" stroke="#444" stroke-width="0.6"/>
<text x="484.7" y="452.61" font-size="7.4" text-anchor="start" fill="#262626">1.687981</text>
<line x1="480.2" y1="427.69" x2="481.7" y2="427.69" stroke="#444" stroke-width="0.6"/>
<text x="484.7" y="430.34" font-size="7.4" text-anchor="start" fill="#262626">1.687982</text>
<line x1="480.2" y1="405.41" x2="481.7" y2="405.41" stroke="#444" stroke-width="0.6"/>
<text x="484.7" y="408.06" font-size="7.4" text-anchor="start" fill="#262626">1.687983</text>
<line x1="480.2" y1="383.14" x2="481.7" y2="383.14" stroke="#444" stroke-width="0.6"/>
<text x="484.7" y="385.79" font-size="7.4" text-anchor="start" fill="#262626">1.687984</text>
<line x1="480.2" y1="360.87" x2="481.7" y2="360.87" stroke="#444" stroke-width="0.6"/>
<text x="484.7" y="363.52" font-size="7.4" text-anchor="start" fill="#262626">1.687985</text>
<line x1="480.2" y1="338.59" x2="481.7" y2="338.59" stroke="#444" stroke-width="0.6"/>
<text x="484.7" y="341.24" font-size="7.4" text-anchor="start" fill="#262626">1.687986</text>
</g>
<text x="339.3" y="314.6" font-size="9.3" font-weight="bold" text-anchor="middle" fill="#000" font-family='"Liberation Sans", Arial, sans-serif'>Effect of <tspan font-style="italic" font-weight="normal" font-size="9.9" font-family='"Liberation Serif", "Times New Roman", serif'>θ</tspan><tspan font-size="7.25" dy="4.65">f</tspan><tspan dy="-4.65"> and </tspan><tspan font-style="italic" font-weight="normal" font-size="9.9" font-family='"Liberation Serif", "Times New Roman", serif'>θ</tspan><tspan font-size="7.25" dy="4.65">m</tspan><tspan dy="-4.65"> on </tspan>Recovered Population</text>
<text x="187.2" y="427.3" font-size="9.2" text-anchor="middle" fill="#262626" font-family='"Liberation Sans", Arial, sans-serif' transform="rotate(-90 187.2 427.3)">Final Recovered (R)</text>
<text x="274" y="554.5" font-size="9.2" text-anchor="middle" fill="#262626" font-family='"Liberation Sans", Arial, sans-serif'><tspan font-style="italic" font-weight="normal" font-size="9.9" font-family='"Liberation Serif", "Times New Roman", serif'>θ</tspan><tspan font-size="7.18" dy="4.6">f</tspan></text>
<text x="391" y="558.5" font-size="9.2" text-anchor="middle" fill="#262626" font-family='"Liberation Sans", Arial, sans-serif'><tspan font-style="italic" font-weight="normal" font-size="9.9" font-family='"Liberation Serif", "Times New Roman", serif'>θ</tspan><tspan font-size="7.18" dy="4.6">m</tspan></text>
<text y="331.8" font-size="8" fill="#262626" font-family='"Liberation Sans", Arial, sans-serif'><tspan x="211.1" font-size="9.5" fill="#444">×</tspan><tspan x="218.1">10</tspan><tspan x="227.3" font-size="6.6" dy="-3.9">9</tspan></text>
<text y="318.6" font-size="7.2" fill="#262626" font-family='"Liberation Sans", Arial, sans-serif'><tspan x="482.5" font-size="8.55" fill="#444">×</tspan><tspan x="488.83">10</tspan><tspan x="497.11" font-size="5.94" dy="-3.51">9</tspan></text>
<text x="147.6" y="281.1" font-size="13" letter-spacing="0.4" text-anchor="middle" fill="#111" font-family='"Liberation Serif", "Times New Roman", serif'>(a)</text>
<text x="524.3" y="281.1" font-size="13" letter-spacing="0.4" text-anchor="middle" fill="#111" font-family='"Liberation Serif", "Times New Roman", serif'>(b)</text>
<text x="353.1" y="588.2" font-size="13" letter-spacing="0.4" text-anchor="middle" fill="#111" font-family='"Liberation Serif", "Times New Roman", serif'>(c)</text>
</svg></body></html>
